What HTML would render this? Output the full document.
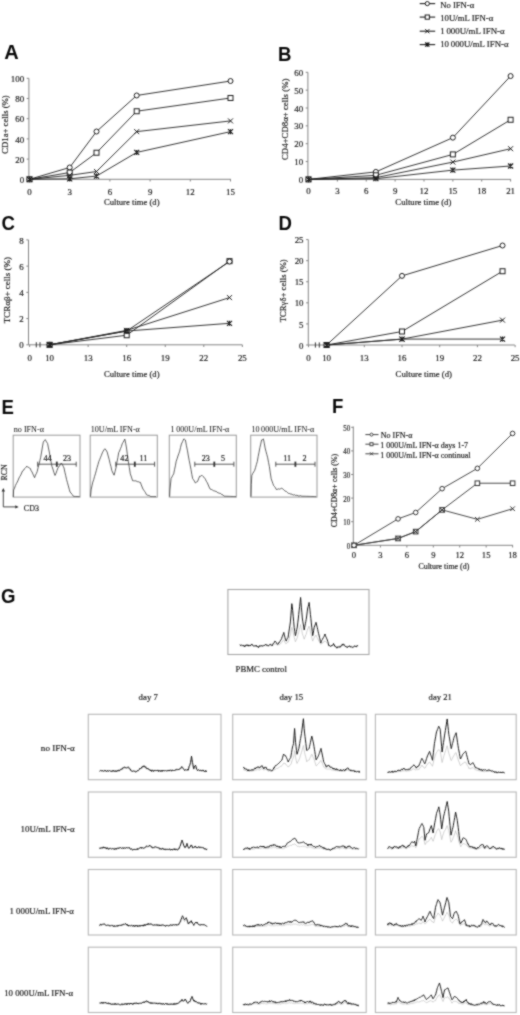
<!DOCTYPE html>
<html><head><meta charset="utf-8"><style>
html,body{margin:0;padding:0;background:#fff;width:520px;height:1015px;overflow:hidden;}
svg{display:block;}
</style></head><body>
<svg width="520" height="1015" viewBox="0 0 520 1015">
<defs><filter id="soft" x="0" y="0" width="520" height="1015" filterUnits="userSpaceOnUse" color-interpolation-filters="sRGB"><feConvolveMatrix order="3" kernelMatrix="1 2 1 2 10 2 1 2 1" divisor="22" edgeMode="duplicate"/></filter></defs>
<g filter="url(#soft)">
<rect width="520" height="1015" fill="#fff"/>
<text transform="translate(4.20 58.60) scale(1.0 1)" font-size="20.0" font-family='"Liberation Sans", sans-serif' font-weight="bold" fill="#0a0a0a">A</text>
<path d="M28.9 78.3L28.9 179.3L231.0 179.3" stroke="#858585" stroke-width="1" fill="none"/>
<path d="M26.7 179.30L28.9 179.30" stroke="#858585" stroke-width="1"/>
<text x="24.10" y="182.94" font-size="8.9" font-family='"Liberation Serif", serif' font-weight="normal" text-anchor="end" fill="#1a1a1a" stroke="#1a1a1a" stroke-width="0.18">0</text>
<path d="M26.7 159.10L28.9 159.10" stroke="#858585" stroke-width="1"/>
<text x="24.10" y="162.74" font-size="8.9" font-family='"Liberation Serif", serif' font-weight="normal" text-anchor="end" fill="#1a1a1a" stroke="#1a1a1a" stroke-width="0.18">20</text>
<path d="M26.7 138.90L28.9 138.90" stroke="#858585" stroke-width="1"/>
<text x="24.10" y="142.54" font-size="8.9" font-family='"Liberation Serif", serif' font-weight="normal" text-anchor="end" fill="#1a1a1a" stroke="#1a1a1a" stroke-width="0.18">40</text>
<path d="M26.7 118.70L28.9 118.70" stroke="#858585" stroke-width="1"/>
<text x="24.10" y="122.34" font-size="8.9" font-family='"Liberation Serif", serif' font-weight="normal" text-anchor="end" fill="#1a1a1a" stroke="#1a1a1a" stroke-width="0.18">60</text>
<path d="M26.7 98.50L28.9 98.50" stroke="#858585" stroke-width="1"/>
<text x="24.10" y="102.14" font-size="8.9" font-family='"Liberation Serif", serif' font-weight="normal" text-anchor="end" fill="#1a1a1a" stroke="#1a1a1a" stroke-width="0.18">80</text>
<path d="M26.7 78.30L28.9 78.30" stroke="#858585" stroke-width="1"/>
<text x="24.10" y="81.94" font-size="8.9" font-family='"Liberation Serif", serif' font-weight="normal" text-anchor="end" fill="#1a1a1a" stroke="#1a1a1a" stroke-width="0.18">100</text>
<path d="M29.50 179.3L29.50 181.5" stroke="#858585" stroke-width="1"/>
<text x="29.50" y="194.50" font-size="8.9" font-family='"Liberation Serif", serif' font-weight="normal" text-anchor="middle" fill="#1a1a1a" stroke="#1a1a1a" stroke-width="0.18">0</text>
<path d="M69.70 179.3L69.70 181.5" stroke="#858585" stroke-width="1"/>
<text x="69.70" y="194.50" font-size="8.9" font-family='"Liberation Serif", serif' font-weight="normal" text-anchor="middle" fill="#1a1a1a" stroke="#1a1a1a" stroke-width="0.18">3</text>
<path d="M109.90 179.3L109.90 181.5" stroke="#858585" stroke-width="1"/>
<text x="109.90" y="194.50" font-size="8.9" font-family='"Liberation Serif", serif' font-weight="normal" text-anchor="middle" fill="#1a1a1a" stroke="#1a1a1a" stroke-width="0.18">6</text>
<path d="M150.10 179.3L150.10 181.5" stroke="#858585" stroke-width="1"/>
<text x="150.10" y="194.50" font-size="8.9" font-family='"Liberation Serif", serif' font-weight="normal" text-anchor="middle" fill="#1a1a1a" stroke="#1a1a1a" stroke-width="0.18">9</text>
<path d="M190.30 179.3L190.30 181.5" stroke="#858585" stroke-width="1"/>
<text x="190.30" y="194.50" font-size="8.9" font-family='"Liberation Serif", serif' font-weight="normal" text-anchor="middle" fill="#1a1a1a" stroke="#1a1a1a" stroke-width="0.18">12</text>
<path d="M230.50 179.3L230.50 181.5" stroke="#858585" stroke-width="1"/>
<text x="230.50" y="194.50" font-size="8.9" font-family='"Liberation Serif", serif' font-weight="normal" text-anchor="middle" fill="#1a1a1a" stroke="#1a1a1a" stroke-width="0.18">15</text>
<text x="131.75" y="204.50" font-size="8.65" font-family='"Liberation Serif", serif' font-weight="normal" text-anchor="middle" fill="#1a1a1a" stroke="#1a1a1a" stroke-width="0.18">Culture time (d)</text>
<text x="7.60" y="124.50" font-size="8.7" font-family='"Liberation Serif", serif' font-weight="normal" text-anchor="middle" fill="#1a1a1a" stroke="#1a1a1a" stroke-width="0.18" transform="rotate(-90 7.60 124.50)">CD1a+ cells (%)</text>
<path d="M29.50 179.30 L69.70 167.48 L96.50 131.53 L136.70 95.47 L230.50 81.03" stroke="#1e1e1e" stroke-width="0.9" fill="none"/>
<circle cx="29.50" cy="179.30" r="2.5" fill="#fff" stroke="#1e1e1e" stroke-width="1.0"/>
<circle cx="69.70" cy="167.48" r="2.5" fill="#fff" stroke="#1e1e1e" stroke-width="1.0"/>
<circle cx="96.50" cy="131.53" r="2.5" fill="#fff" stroke="#1e1e1e" stroke-width="1.0"/>
<circle cx="136.70" cy="95.47" r="2.5" fill="#fff" stroke="#1e1e1e" stroke-width="1.0"/>
<circle cx="230.50" cy="81.03" r="2.5" fill="#fff" stroke="#1e1e1e" stroke-width="1.0"/>
<path d="M29.50 179.30 L69.70 172.53 L96.50 152.74 L136.70 111.23 L230.50 97.99" stroke="#1e1e1e" stroke-width="0.9" fill="none"/>
<rect x="27.00" y="176.80" width="5.0" height="5.0" fill="#fff" stroke="#1e1e1e" stroke-width="1.0"/>
<rect x="67.20" y="170.03" width="5.0" height="5.0" fill="#fff" stroke="#1e1e1e" stroke-width="1.0"/>
<rect x="94.00" y="150.24" width="5.0" height="5.0" fill="#fff" stroke="#1e1e1e" stroke-width="1.0"/>
<rect x="134.20" y="108.73" width="5.0" height="5.0" fill="#fff" stroke="#1e1e1e" stroke-width="1.0"/>
<rect x="228.00" y="95.49" width="5.0" height="5.0" fill="#fff" stroke="#1e1e1e" stroke-width="1.0"/>
<path d="M29.50 179.30 L69.70 175.36 L96.50 171.52 L136.70 131.63 L230.50 120.92" stroke="#1e1e1e" stroke-width="0.9" fill="none"/>
<path d="M27.00 176.80L32.00 181.80M27.00 181.80L32.00 176.80" stroke="#1e1e1e" stroke-width="1.0" fill="none"/>
<path d="M67.20 172.86L72.20 177.86M67.20 177.86L72.20 172.86" stroke="#1e1e1e" stroke-width="1.0" fill="none"/>
<path d="M94.00 169.02L99.00 174.02M94.00 174.02L99.00 169.02" stroke="#1e1e1e" stroke-width="1.0" fill="none"/>
<path d="M134.20 129.13L139.20 134.13M134.20 134.13L139.20 129.13" stroke="#1e1e1e" stroke-width="1.0" fill="none"/>
<path d="M228.00 118.42L233.00 123.42M228.00 123.42L233.00 118.42" stroke="#1e1e1e" stroke-width="1.0" fill="none"/>
<path d="M29.50 179.30 L69.70 178.80 L96.50 176.07 L136.70 152.43 L230.50 131.63" stroke="#1e1e1e" stroke-width="0.9" fill="none"/>
<path d="M27.00 176.80L32.00 181.80M27.00 181.80L32.00 176.80M29.50 176.80L29.50 181.80" stroke="#1e1e1e" stroke-width="1.2" fill="none"/>
<path d="M67.20 176.30L72.20 181.30M67.20 181.30L72.20 176.30M69.70 176.30L69.70 181.30" stroke="#1e1e1e" stroke-width="1.2" fill="none"/>
<path d="M94.00 173.57L99.00 178.57M94.00 178.57L99.00 173.57M96.50 173.57L96.50 178.57" stroke="#1e1e1e" stroke-width="1.2" fill="none"/>
<path d="M134.20 149.93L139.20 154.93M134.20 154.93L139.20 149.93M136.70 149.93L136.70 154.93" stroke="#1e1e1e" stroke-width="1.2" fill="none"/>
<path d="M228.00 129.13L233.00 134.13M228.00 134.13L233.00 129.13M230.50 129.13L230.50 134.13" stroke="#1e1e1e" stroke-width="1.2" fill="none"/>
<text transform="translate(278.00 61.10) scale(0.93 1)" font-size="20.0" font-family='"Liberation Sans", sans-serif' font-weight="bold" fill="#0a0a0a">B</text>
<path d="M307.9 72.3L307.9 179.4L511.0 179.4" stroke="#858585" stroke-width="1" fill="none"/>
<path d="M305.7 179.40L307.9 179.40" stroke="#858585" stroke-width="1"/>
<text x="303.10" y="183.04" font-size="8.9" font-family='"Liberation Serif", serif' font-weight="normal" text-anchor="end" fill="#1a1a1a" stroke="#1a1a1a" stroke-width="0.18">0</text>
<path d="M305.7 161.55L307.9 161.55" stroke="#858585" stroke-width="1"/>
<text x="303.10" y="165.19" font-size="8.9" font-family='"Liberation Serif", serif' font-weight="normal" text-anchor="end" fill="#1a1a1a" stroke="#1a1a1a" stroke-width="0.18">10</text>
<path d="M305.7 143.70L307.9 143.70" stroke="#858585" stroke-width="1"/>
<text x="303.10" y="147.34" font-size="8.9" font-family='"Liberation Serif", serif' font-weight="normal" text-anchor="end" fill="#1a1a1a" stroke="#1a1a1a" stroke-width="0.18">20</text>
<path d="M305.7 125.85L307.9 125.85" stroke="#858585" stroke-width="1"/>
<text x="303.10" y="129.49" font-size="8.9" font-family='"Liberation Serif", serif' font-weight="normal" text-anchor="end" fill="#1a1a1a" stroke="#1a1a1a" stroke-width="0.18">30</text>
<path d="M305.7 108.00L307.9 108.00" stroke="#858585" stroke-width="1"/>
<text x="303.10" y="111.64" font-size="8.9" font-family='"Liberation Serif", serif' font-weight="normal" text-anchor="end" fill="#1a1a1a" stroke="#1a1a1a" stroke-width="0.18">40</text>
<path d="M305.7 90.15L307.9 90.15" stroke="#858585" stroke-width="1"/>
<text x="303.10" y="93.79" font-size="8.9" font-family='"Liberation Serif", serif' font-weight="normal" text-anchor="end" fill="#1a1a1a" stroke="#1a1a1a" stroke-width="0.18">50</text>
<path d="M305.7 72.30L307.9 72.30" stroke="#858585" stroke-width="1"/>
<text x="303.10" y="75.94" font-size="8.9" font-family='"Liberation Serif", serif' font-weight="normal" text-anchor="end" fill="#1a1a1a" stroke="#1a1a1a" stroke-width="0.18">60</text>
<path d="M308.50 179.4L308.50 181.6" stroke="#858585" stroke-width="1"/>
<text x="308.50" y="194.00" font-size="8.9" font-family='"Liberation Serif", serif' font-weight="normal" text-anchor="middle" fill="#1a1a1a" stroke="#1a1a1a" stroke-width="0.18">0</text>
<path d="M337.37 179.4L337.37 181.6" stroke="#858585" stroke-width="1"/>
<text x="337.37" y="194.00" font-size="8.9" font-family='"Liberation Serif", serif' font-weight="normal" text-anchor="middle" fill="#1a1a1a" stroke="#1a1a1a" stroke-width="0.18">3</text>
<path d="M366.24 179.4L366.24 181.6" stroke="#858585" stroke-width="1"/>
<text x="366.24" y="194.00" font-size="8.9" font-family='"Liberation Serif", serif' font-weight="normal" text-anchor="middle" fill="#1a1a1a" stroke="#1a1a1a" stroke-width="0.18">6</text>
<path d="M395.11 179.4L395.11 181.6" stroke="#858585" stroke-width="1"/>
<text x="395.11" y="194.00" font-size="8.9" font-family='"Liberation Serif", serif' font-weight="normal" text-anchor="middle" fill="#1a1a1a" stroke="#1a1a1a" stroke-width="0.18">9</text>
<path d="M423.99 179.4L423.99 181.6" stroke="#858585" stroke-width="1"/>
<text x="423.99" y="194.00" font-size="8.9" font-family='"Liberation Serif", serif' font-weight="normal" text-anchor="middle" fill="#1a1a1a" stroke="#1a1a1a" stroke-width="0.18">12</text>
<path d="M452.86 179.4L452.86 181.6" stroke="#858585" stroke-width="1"/>
<text x="452.86" y="194.00" font-size="8.9" font-family='"Liberation Serif", serif' font-weight="normal" text-anchor="middle" fill="#1a1a1a" stroke="#1a1a1a" stroke-width="0.18">15</text>
<path d="M481.73 179.4L481.73 181.6" stroke="#858585" stroke-width="1"/>
<text x="481.73" y="194.00" font-size="8.9" font-family='"Liberation Serif", serif' font-weight="normal" text-anchor="middle" fill="#1a1a1a" stroke="#1a1a1a" stroke-width="0.18">18</text>
<path d="M510.60 179.4L510.60 181.6" stroke="#858585" stroke-width="1"/>
<text x="510.60" y="194.00" font-size="8.9" font-family='"Liberation Serif", serif' font-weight="normal" text-anchor="middle" fill="#1a1a1a" stroke="#1a1a1a" stroke-width="0.18">21</text>
<text x="423.35" y="204.50" font-size="8.7" font-family='"Liberation Serif", serif' font-weight="normal" text-anchor="middle" fill="#1a1a1a" stroke="#1a1a1a" stroke-width="0.18">Culture time (d)</text>
<text x="288.00" y="119.30" font-size="8.8" font-family='"Liberation Serif", serif' font-weight="normal" text-anchor="middle" fill="#1a1a1a" stroke="#1a1a1a" stroke-width="0.18" transform="rotate(-90 288.00 119.30)">CD4+CD8α+ cells (%)</text>
<path d="M308.50 179.40 L375.87 171.90 L452.86 137.63 L510.60 76.05" stroke="#1e1e1e" stroke-width="0.9" fill="none"/>
<circle cx="308.50" cy="179.40" r="2.5" fill="#fff" stroke="#1e1e1e" stroke-width="1.0"/>
<circle cx="375.87" cy="171.90" r="2.5" fill="#fff" stroke="#1e1e1e" stroke-width="1.0"/>
<circle cx="452.86" cy="137.63" r="2.5" fill="#fff" stroke="#1e1e1e" stroke-width="1.0"/>
<circle cx="510.60" cy="76.05" r="2.5" fill="#fff" stroke="#1e1e1e" stroke-width="1.0"/>
<path d="M308.50 179.40 L375.87 175.29 L452.86 154.41 L510.60 119.78" stroke="#1e1e1e" stroke-width="0.9" fill="none"/>
<rect x="306.00" y="176.90" width="5.0" height="5.0" fill="#fff" stroke="#1e1e1e" stroke-width="1.0"/>
<rect x="373.37" y="172.79" width="5.0" height="5.0" fill="#fff" stroke="#1e1e1e" stroke-width="1.0"/>
<rect x="450.36" y="151.91" width="5.0" height="5.0" fill="#fff" stroke="#1e1e1e" stroke-width="1.0"/>
<rect x="508.10" y="117.28" width="5.0" height="5.0" fill="#fff" stroke="#1e1e1e" stroke-width="1.0"/>
<path d="M308.50 179.40 L375.87 177.62 L452.86 162.09 L510.60 148.70" stroke="#1e1e1e" stroke-width="0.9" fill="none"/>
<path d="M306.00 176.90L311.00 181.90M306.00 181.90L311.00 176.90" stroke="#1e1e1e" stroke-width="1.0" fill="none"/>
<path d="M373.37 175.12L378.37 180.12M373.37 180.12L378.37 175.12" stroke="#1e1e1e" stroke-width="1.0" fill="none"/>
<path d="M450.36 159.59L455.36 164.59M450.36 164.59L455.36 159.59" stroke="#1e1e1e" stroke-width="1.0" fill="none"/>
<path d="M508.10 146.20L513.10 151.20M508.10 151.20L513.10 146.20" stroke="#1e1e1e" stroke-width="1.0" fill="none"/>
<path d="M308.50 179.40 L375.87 178.69 L452.86 170.12 L510.60 166.01" stroke="#1e1e1e" stroke-width="0.9" fill="none"/>
<path d="M306.00 176.90L311.00 181.90M306.00 181.90L311.00 176.90M308.50 176.90L308.50 181.90" stroke="#1e1e1e" stroke-width="1.2" fill="none"/>
<path d="M373.37 176.19L378.37 181.19M373.37 181.19L378.37 176.19M375.87 176.19L375.87 181.19" stroke="#1e1e1e" stroke-width="1.2" fill="none"/>
<path d="M450.36 167.62L455.36 172.62M450.36 172.62L455.36 167.62M452.86 167.62L452.86 172.62" stroke="#1e1e1e" stroke-width="1.2" fill="none"/>
<path d="M508.10 163.51L513.10 168.51M508.10 168.51L513.10 163.51M510.60 163.51L510.60 168.51" stroke="#1e1e1e" stroke-width="1.2" fill="none"/>
<path d="M419.7 3.6L435.2 3.6" stroke="#1e1e1e" stroke-width="1.1"/>
<circle cx="427.30" cy="3.60" r="2.1" fill="#fff" stroke="#1a1a1a" stroke-width="1.0"/>
<text x="440.20" y="7.70" font-size="8.65" font-family='"Liberation Serif", serif' font-weight="normal" text-anchor="start" fill="#1a1a1a" stroke="#1a1a1a" stroke-width="0.18">No IFN-α</text>
<path d="M419.7 17.1L435.2 17.1" stroke="#1e1e1e" stroke-width="1.1"/>
<rect x="425.20" y="15.00" width="4.2" height="4.2" fill="#fff" stroke="#1a1a1a" stroke-width="1.0"/>
<text x="440.20" y="20.60" font-size="8.75" font-family='"Liberation Serif", serif' font-weight="normal" text-anchor="start" fill="#1a1a1a" stroke="#1a1a1a" stroke-width="0.18">10U/mL IFN-α</text>
<path d="M419.7 31.2L435.2 31.2" stroke="#1e1e1e" stroke-width="1.1"/>
<path d="M425.20 29.10L429.40 33.30M425.20 33.30L429.40 29.10" stroke="#1a1a1a" stroke-width="1.0" fill="none"/>
<text x="440.20" y="34.30" font-size="8.9" font-family='"Liberation Serif", serif' font-weight="normal" text-anchor="start" fill="#1a1a1a" stroke="#1a1a1a" stroke-width="0.18">1 000U/mL IFN-α</text>
<path d="M419.7 44.6L435.2 44.6" stroke="#1e1e1e" stroke-width="1.1"/>
<path d="M425.20 42.50L429.40 46.70M425.20 46.70L429.40 42.50M427.30 42.50L427.30 46.70" stroke="#1a1a1a" stroke-width="1.2" fill="none"/>
<text x="440.20" y="46.70" font-size="8.8" font-family='"Liberation Serif", serif' font-weight="normal" text-anchor="start" fill="#1a1a1a" stroke="#1a1a1a" stroke-width="0.18">10 000U/mL IFN-α</text>
<text transform="translate(1.40 229.70) scale(0.93 1)" font-size="20.0" font-family='"Liberation Sans", sans-serif' font-weight="bold" fill="#0a0a0a">C</text>
<path d="M28.5 239.9L28.5 344.8L242.3 344.8" stroke="#858585" stroke-width="1" fill="none"/>
<path d="M26.3 344.80L28.5 344.80" stroke="#858585" stroke-width="1"/>
<text x="23.70" y="348.44" font-size="8.9" font-family='"Liberation Serif", serif' font-weight="normal" text-anchor="end" fill="#1a1a1a" stroke="#1a1a1a" stroke-width="0.18">0</text>
<path d="M26.3 318.57L28.5 318.57" stroke="#858585" stroke-width="1"/>
<text x="23.70" y="322.21" font-size="8.9" font-family='"Liberation Serif", serif' font-weight="normal" text-anchor="end" fill="#1a1a1a" stroke="#1a1a1a" stroke-width="0.18">2</text>
<path d="M26.3 292.35L28.5 292.35" stroke="#858585" stroke-width="1"/>
<text x="23.70" y="295.99" font-size="8.9" font-family='"Liberation Serif", serif' font-weight="normal" text-anchor="end" fill="#1a1a1a" stroke="#1a1a1a" stroke-width="0.18">4</text>
<path d="M26.3 266.12L28.5 266.12" stroke="#858585" stroke-width="1"/>
<text x="23.70" y="269.76" font-size="8.9" font-family='"Liberation Serif", serif' font-weight="normal" text-anchor="end" fill="#1a1a1a" stroke="#1a1a1a" stroke-width="0.18">6</text>
<path d="M26.3 239.90L28.5 239.90" stroke="#858585" stroke-width="1"/>
<text x="23.70" y="243.54" font-size="8.9" font-family='"Liberation Serif", serif' font-weight="normal" text-anchor="end" fill="#1a1a1a" stroke="#1a1a1a" stroke-width="0.18">8</text>
<path d="M29.60 344.8L29.60 347.0" stroke="#858585" stroke-width="1"/>
<text x="29.60" y="360.70" font-size="8.9" font-family='"Liberation Serif", serif' font-weight="normal" text-anchor="middle" fill="#1a1a1a" stroke="#1a1a1a" stroke-width="0.18">0</text>
<path d="M49.60 344.8L49.60 347.0" stroke="#858585" stroke-width="1"/>
<text x="49.60" y="360.70" font-size="8.9" font-family='"Liberation Serif", serif' font-weight="normal" text-anchor="middle" fill="#1a1a1a" stroke="#1a1a1a" stroke-width="0.18">10</text>
<path d="M88.15 344.8L88.15 347.0" stroke="#858585" stroke-width="1"/>
<text x="88.15" y="360.70" font-size="8.9" font-family='"Liberation Serif", serif' font-weight="normal" text-anchor="middle" fill="#1a1a1a" stroke="#1a1a1a" stroke-width="0.18">13</text>
<path d="M126.70 344.8L126.70 347.0" stroke="#858585" stroke-width="1"/>
<text x="126.70" y="360.70" font-size="8.9" font-family='"Liberation Serif", serif' font-weight="normal" text-anchor="middle" fill="#1a1a1a" stroke="#1a1a1a" stroke-width="0.18">16</text>
<path d="M165.25 344.8L165.25 347.0" stroke="#858585" stroke-width="1"/>
<text x="165.25" y="360.70" font-size="8.9" font-family='"Liberation Serif", serif' font-weight="normal" text-anchor="middle" fill="#1a1a1a" stroke="#1a1a1a" stroke-width="0.18">19</text>
<path d="M203.80 344.8L203.80 347.0" stroke="#858585" stroke-width="1"/>
<text x="203.80" y="360.70" font-size="8.9" font-family='"Liberation Serif", serif' font-weight="normal" text-anchor="middle" fill="#1a1a1a" stroke="#1a1a1a" stroke-width="0.18">22</text>
<path d="M242.35 344.8L242.35 347.0" stroke="#858585" stroke-width="1"/>
<text x="242.35" y="360.70" font-size="8.9" font-family='"Liberation Serif", serif' font-weight="normal" text-anchor="middle" fill="#1a1a1a" stroke="#1a1a1a" stroke-width="0.18">25</text>
<text x="131.75" y="376.80" font-size="8.65" font-family='"Liberation Serif", serif' font-weight="normal" text-anchor="middle" fill="#1a1a1a" stroke="#1a1a1a" stroke-width="0.18">Culture time (d)</text>
<text x="10.00" y="290.10" font-size="9.0" font-family='"Liberation Serif", serif' font-weight="normal" text-anchor="middle" fill="#1a1a1a" stroke="#1a1a1a" stroke-width="0.18" transform="rotate(-90 10.00 290.10)">TCRαβ+ cells (%)</text>
<path d="M36.3 342.2L36.3 347.40000000000003M40.0 342.2L40.0 347.40000000000003" stroke="#333" stroke-width="1"/>
<path d="M49.60 344.80 L126.70 335.23 L229.50 261.14" stroke="#1e1e1e" stroke-width="0.9" fill="none"/>
<rect x="47.10" y="342.30" width="5.0" height="5.0" fill="#fff" stroke="#1e1e1e" stroke-width="1.0"/>
<rect x="124.20" y="332.73" width="5.0" height="5.0" fill="#fff" stroke="#1e1e1e" stroke-width="1.0"/>
<rect x="227.00" y="258.64" width="5.0" height="5.0" fill="#fff" stroke="#1e1e1e" stroke-width="1.0"/>
<path d="M49.60 344.80 L126.70 331.03 L229.50 261.54" stroke="#1e1e1e" stroke-width="0.9" fill="none"/>
<circle cx="49.60" cy="344.80" r="2.5" fill="#fff" stroke="#1e1e1e" stroke-width="1.0"/>
<circle cx="126.70" cy="331.03" r="2.5" fill="#fff" stroke="#1e1e1e" stroke-width="1.0"/>
<circle cx="229.50" cy="261.54" r="2.5" fill="#fff" stroke="#1e1e1e" stroke-width="1.0"/>
<path d="M49.60 344.80 L126.70 330.38 L229.50 297.60" stroke="#1e1e1e" stroke-width="0.9" fill="none"/>
<path d="M47.10 342.30L52.10 347.30M47.10 347.30L52.10 342.30" stroke="#1e1e1e" stroke-width="1.0" fill="none"/>
<path d="M124.20 327.88L129.20 332.88M124.20 332.88L129.20 327.88" stroke="#1e1e1e" stroke-width="1.0" fill="none"/>
<path d="M227.00 295.10L232.00 300.10M227.00 300.10L232.00 295.10" stroke="#1e1e1e" stroke-width="1.0" fill="none"/>
<path d="M49.60 344.80 L126.70 331.03 L229.50 323.30" stroke="#1e1e1e" stroke-width="0.9" fill="none"/>
<path d="M47.10 342.30L52.10 347.30M47.10 347.30L52.10 342.30M49.60 342.30L49.60 347.30" stroke="#1e1e1e" stroke-width="1.2" fill="none"/>
<path d="M124.20 328.53L129.20 333.53M124.20 333.53L129.20 328.53M126.70 328.53L126.70 333.53" stroke="#1e1e1e" stroke-width="1.2" fill="none"/>
<path d="M227.00 320.80L232.00 325.80M227.00 325.80L232.00 320.80M229.50 320.80L229.50 325.80" stroke="#1e1e1e" stroke-width="1.2" fill="none"/>
<text transform="translate(278.60 229.70) scale(0.93 1)" font-size="20.0" font-family='"Liberation Sans", sans-serif' font-weight="bold" fill="#0a0a0a">D</text>
<path d="M308.3 239.6L308.3 345.0L514.8 345.0" stroke="#858585" stroke-width="1" fill="none"/>
<path d="M306.1 345.00L308.3 345.00" stroke="#858585" stroke-width="1"/>
<text x="303.50" y="348.64" font-size="8.9" font-family='"Liberation Serif", serif' font-weight="normal" text-anchor="end" fill="#1a1a1a" stroke="#1a1a1a" stroke-width="0.18">0</text>
<path d="M306.1 323.92L308.3 323.92" stroke="#858585" stroke-width="1"/>
<text x="303.50" y="327.56" font-size="8.9" font-family='"Liberation Serif", serif' font-weight="normal" text-anchor="end" fill="#1a1a1a" stroke="#1a1a1a" stroke-width="0.18">5</text>
<path d="M306.1 302.84L308.3 302.84" stroke="#858585" stroke-width="1"/>
<text x="303.50" y="306.48" font-size="8.9" font-family='"Liberation Serif", serif' font-weight="normal" text-anchor="end" fill="#1a1a1a" stroke="#1a1a1a" stroke-width="0.18">10</text>
<path d="M306.1 281.76L308.3 281.76" stroke="#858585" stroke-width="1"/>
<text x="303.50" y="285.40" font-size="8.9" font-family='"Liberation Serif", serif' font-weight="normal" text-anchor="end" fill="#1a1a1a" stroke="#1a1a1a" stroke-width="0.18">15</text>
<path d="M306.1 260.68L308.3 260.68" stroke="#858585" stroke-width="1"/>
<text x="303.50" y="264.32" font-size="8.9" font-family='"Liberation Serif", serif' font-weight="normal" text-anchor="end" fill="#1a1a1a" stroke="#1a1a1a" stroke-width="0.18">20</text>
<path d="M306.1 239.60L308.3 239.60" stroke="#858585" stroke-width="1"/>
<text x="303.50" y="243.24" font-size="8.9" font-family='"Liberation Serif", serif' font-weight="normal" text-anchor="end" fill="#1a1a1a" stroke="#1a1a1a" stroke-width="0.18">25</text>
<path d="M308.50 345.0L308.50 347.2" stroke="#858585" stroke-width="1"/>
<text x="308.50" y="360.70" font-size="8.9" font-family='"Liberation Serif", serif' font-weight="normal" text-anchor="middle" fill="#1a1a1a" stroke="#1a1a1a" stroke-width="0.18">0</text>
<path d="M326.60 345.0L326.60 347.2" stroke="#858585" stroke-width="1"/>
<text x="326.60" y="360.70" font-size="8.9" font-family='"Liberation Serif", serif' font-weight="normal" text-anchor="middle" fill="#1a1a1a" stroke="#1a1a1a" stroke-width="0.18">10</text>
<path d="M364.30 345.0L364.30 347.2" stroke="#858585" stroke-width="1"/>
<text x="364.30" y="360.70" font-size="8.9" font-family='"Liberation Serif", serif' font-weight="normal" text-anchor="middle" fill="#1a1a1a" stroke="#1a1a1a" stroke-width="0.18">13</text>
<path d="M402.00 345.0L402.00 347.2" stroke="#858585" stroke-width="1"/>
<text x="402.00" y="360.70" font-size="8.9" font-family='"Liberation Serif", serif' font-weight="normal" text-anchor="middle" fill="#1a1a1a" stroke="#1a1a1a" stroke-width="0.18">16</text>
<path d="M439.70 345.0L439.70 347.2" stroke="#858585" stroke-width="1"/>
<text x="439.70" y="360.70" font-size="8.9" font-family='"Liberation Serif", serif' font-weight="normal" text-anchor="middle" fill="#1a1a1a" stroke="#1a1a1a" stroke-width="0.18">19</text>
<path d="M477.40 345.0L477.40 347.2" stroke="#858585" stroke-width="1"/>
<text x="477.40" y="360.70" font-size="8.9" font-family='"Liberation Serif", serif' font-weight="normal" text-anchor="middle" fill="#1a1a1a" stroke="#1a1a1a" stroke-width="0.18">22</text>
<path d="M515.10 345.0L515.10 347.2" stroke="#858585" stroke-width="1"/>
<text x="515.10" y="360.70" font-size="8.9" font-family='"Liberation Serif", serif' font-weight="normal" text-anchor="middle" fill="#1a1a1a" stroke="#1a1a1a" stroke-width="0.18">25</text>
<text x="423.80" y="376.80" font-size="8.75" font-family='"Liberation Serif", serif' font-weight="normal" text-anchor="middle" fill="#1a1a1a" stroke="#1a1a1a" stroke-width="0.18">Culture time (d)</text>
<text x="286.20" y="290.80" font-size="8.7" font-family='"Liberation Serif", serif' font-weight="normal" text-anchor="middle" fill="#1a1a1a" stroke="#1a1a1a" stroke-width="0.18" transform="rotate(-90 286.20 290.80)">TCRγδ+ cells (%)</text>
<path d="M315.4 342.4L315.4 347.6M319.3 342.4L319.3 347.6" stroke="#333" stroke-width="1"/>
<path d="M326.60 345.00 L402.00 275.86 L502.53 245.50" stroke="#1e1e1e" stroke-width="0.9" fill="none"/>
<circle cx="326.60" cy="345.00" r="2.5" fill="#fff" stroke="#1e1e1e" stroke-width="1.0"/>
<circle cx="402.00" cy="275.86" r="2.5" fill="#fff" stroke="#1e1e1e" stroke-width="1.0"/>
<circle cx="502.53" cy="245.50" r="2.5" fill="#fff" stroke="#1e1e1e" stroke-width="1.0"/>
<path d="M326.60 345.00 L402.00 331.51 L502.53 271.22" stroke="#1e1e1e" stroke-width="0.9" fill="none"/>
<rect x="324.10" y="342.50" width="5.0" height="5.0" fill="#fff" stroke="#1e1e1e" stroke-width="1.0"/>
<rect x="399.50" y="329.01" width="5.0" height="5.0" fill="#fff" stroke="#1e1e1e" stroke-width="1.0"/>
<rect x="500.03" y="268.72" width="5.0" height="5.0" fill="#fff" stroke="#1e1e1e" stroke-width="1.0"/>
<path d="M326.60 345.00 L402.00 339.10 L502.53 320.13" stroke="#1e1e1e" stroke-width="0.9" fill="none"/>
<path d="M324.10 342.50L329.10 347.50M324.10 347.50L329.10 342.50" stroke="#1e1e1e" stroke-width="1.0" fill="none"/>
<path d="M399.50 336.60L404.50 341.60M399.50 341.60L404.50 336.60" stroke="#1e1e1e" stroke-width="1.0" fill="none"/>
<path d="M500.03 317.63L505.03 322.63M500.03 322.63L505.03 317.63" stroke="#1e1e1e" stroke-width="1.0" fill="none"/>
<path d="M326.60 345.00 L402.00 339.10 L502.53 339.10" stroke="#1e1e1e" stroke-width="0.9" fill="none"/>
<path d="M324.10 342.50L329.10 347.50M324.10 347.50L329.10 342.50M326.60 342.50L326.60 347.50" stroke="#1e1e1e" stroke-width="1.2" fill="none"/>
<path d="M399.50 336.60L404.50 341.60M399.50 341.60L404.50 336.60M402.00 336.60L402.00 341.60" stroke="#1e1e1e" stroke-width="1.2" fill="none"/>
<path d="M500.03 336.60L505.03 341.60M500.03 341.60L505.03 336.60M502.53 336.60L502.53 341.60" stroke="#1e1e1e" stroke-width="1.2" fill="none"/>
<text transform="translate(1.60 413.60) scale(0.93 1)" font-size="20.0" font-family='"Liberation Sans", sans-serif' font-weight="bold" fill="#0a0a0a">E</text>
<rect x="13.2" y="435.2" width="66.80" height="61.9" fill="none" stroke="#999" stroke-width="1"/>
<text x="13.80" y="431.60" font-size="8.1" font-family='"Liberation Serif", serif' font-weight="normal" text-anchor="start" fill="#1a1a1a" stroke="#1a1a1a" stroke-width="0.05">no IFN-α</text>
<path d="M13.30 497.00 L13.60 489.97 L14.53 488.19 L15.45 485.52 L16.38 483.62 L17.30 482.02 L18.17 480.08 L19.03 477.97 L19.90 476.39 L20.77 475.03 L21.63 472.99 L22.50 470.97 L23.36 470.56 L24.22 469.00 L25.08 468.34 L25.94 467.30 L26.80 466.17 L27.68 467.15 L28.55 467.22 L29.43 468.15 L30.30 468.43 L31.16 470.77 L32.02 471.93 L32.88 473.93 L33.74 475.89 L34.60 477.67 L35.47 475.08 L36.33 473.60 L37.20 471.54 L38.08 467.72 L38.95 464.58 L39.83 460.76 L40.70 457.26 L41.57 452.06 L42.43 446.97 L43.30 442.13 L44.30 440.57 L45.30 439.64 L46.45 441.78 L47.60 443.50 L48.45 447.95 L49.30 452.00 L50.17 456.99 L51.03 461.64 L51.90 466.26 L52.93 469.08 L53.97 472.61 L55.00 475.43 L56.00 473.34 L57.00 470.47 L58.00 467.62 L58.85 466.93 L59.70 465.61 L60.55 463.88 L61.40 463.00 L62.27 464.28 L63.13 466.19 L64.00 467.95 L64.87 472.14 L65.73 475.67 L66.60 479.68 L67.47 482.75 L68.35 485.92 L69.22 489.21 L70.10 492.16 L70.97 492.83 L71.85 494.36 L72.72 495.08 L73.60 496.40 L74.46 496.43 L75.31 496.46 L76.17 496.49 L77.03 496.51 L77.89 496.54 L78.74 496.57 L79.60 496.60" stroke="#3a3a3a" stroke-width="0.8" fill="none" stroke-linejoin="round"/>
<path d="M37.7 464.2L76.2 464.2M37.7 461.7L37.7 466.7M76.2 461.7L76.2 466.7" stroke="#444" stroke-width="0.9"/>
<rect x="55.9" y="461.59999999999997" width="1.8" height="5.2" fill="#333"/>
<text x="47.50" y="460.60" font-size="8.1" font-family='"Liberation Serif", serif' font-weight="normal" text-anchor="middle" fill="#1a1a1a" stroke="#1a1a1a" stroke-width="0.18">44</text>
<text x="67.00" y="460.60" font-size="8.1" font-family='"Liberation Serif", serif' font-weight="normal" text-anchor="middle" fill="#1a1a1a" stroke="#1a1a1a" stroke-width="0.18">23</text>
<rect x="90.2" y="435.2" width="67.10" height="61.9" fill="none" stroke="#999" stroke-width="1"/>
<text x="90.70" y="431.60" font-size="8.1" font-family='"Liberation Serif", serif' font-weight="normal" text-anchor="start" fill="#1a1a1a" stroke="#1a1a1a" stroke-width="0.05">10U/mL IFN-α</text>
<path d="M90.50 496.60 L91.10 489.92 L91.95 485.96 L92.80 482.07 L93.67 479.72 L94.53 476.62 L95.40 473.83 L96.25 470.69 L97.10 467.52 L97.95 464.71 L98.80 461.55 L99.67 459.55 L100.55 457.31 L101.42 455.29 L102.30 452.86 L103.17 451.23 L104.03 449.79 L104.90 448.76 L106.05 450.07 L107.20 452.11 L108.20 455.98 L109.20 459.49 L110.07 463.47 L110.93 466.41 L111.80 470.46 L112.95 473.04 L114.10 475.20 L115.15 471.21 L116.20 466.86 L117.03 461.84 L117.87 457.62 L118.70 452.64 L119.58 451.01 L120.45 448.68 L121.33 446.71 L122.20 443.89 L123.07 442.34 L123.93 440.82 L124.80 439.08 L125.65 443.13 L126.50 447.97 L127.40 454.84 L128.30 461.36 L129.30 467.35 L130.30 473.82 L131.45 477.09 L132.60 480.71 L133.46 480.76 L134.32 480.85 L135.18 480.75 L136.04 480.98 L136.90 481.37 L137.78 481.78 L138.65 481.80 L139.53 482.25 L140.40 482.33 L141.27 484.87 L142.13 487.01 L143.00 489.08 L143.85 490.25 L144.70 491.50 L145.55 492.78 L146.40 494.65 L147.28 495.08 L148.16 495.42 L149.04 495.39 L149.92 496.08 L150.80 496.50 L151.67 496.52 L152.53 496.53 L153.40 496.55 L154.27 496.57 L155.13 496.58 L156.00 496.60" stroke="#3a3a3a" stroke-width="0.8" fill="none" stroke-linejoin="round"/>
<path d="M115.8 464.2L154.6 464.2M115.8 461.7L115.8 466.7M154.6 461.7L154.6 466.7" stroke="#444" stroke-width="0.9"/>
<rect x="133.9" y="461.59999999999997" width="1.8" height="5.2" fill="#333"/>
<text x="124.40" y="460.60" font-size="8.1" font-family='"Liberation Serif", serif' font-weight="normal" text-anchor="middle" fill="#1a1a1a" stroke="#1a1a1a" stroke-width="0.18">42</text>
<text x="143.40" y="460.60" font-size="8.1" font-family='"Liberation Serif", serif' font-weight="normal" text-anchor="middle" fill="#1a1a1a" stroke="#1a1a1a" stroke-width="0.18">11</text>
<rect x="169.3" y="435.2" width="67.00" height="61.9" fill="none" stroke="#999" stroke-width="1"/>
<text x="170.50" y="431.60" font-size="8.1" font-family='"Liberation Serif", serif' font-weight="normal" text-anchor="start" fill="#1a1a1a" stroke="#1a1a1a" stroke-width="0.05">1 000U/mL IFN-α</text>
<path d="M169.60 496.60 L169.90 490.10 L171.10 478.47 L171.97 476.94 L172.83 475.21 L173.70 473.87 L174.53 469.76 L175.37 465.84 L176.20 461.21 L177.07 458.87 L177.95 456.02 L178.82 453.58 L179.70 451.20 L180.55 447.37 L181.40 443.99 L182.55 441.70 L183.70 439.03 L184.55 439.25 L185.40 439.96 L186.45 445.77 L187.50 450.85 L188.37 456.01 L189.23 460.54 L190.10 464.89 L190.97 469.36 L191.83 474.52 L192.70 478.69 L193.57 479.81 L194.43 481.12 L195.30 482.94 L196.40 482.12 L197.50 481.61 L198.55 478.96 L199.60 476.23 L200.47 476.26 L201.33 475.58 L202.20 475.44 L203.07 476.50 L203.93 477.22 L204.80 478.25 L205.67 479.79 L206.53 481.61 L207.40 482.88 L208.27 485.01 L209.13 487.05 L210.00 488.91 L210.87 489.36 L211.73 489.62 L212.60 490.09 L213.47 490.69 L214.33 490.86 L215.20 491.21 L216.07 491.48 L216.93 491.90 L217.80 492.76 L218.67 492.94 L219.53 493.29 L220.40 493.37 L221.26 494.28 L222.12 494.40 L222.98 495.08 L223.84 496.02 L224.70 496.20 L225.51 496.23 L226.31 496.26 L227.12 496.29 L227.93 496.31 L228.74 496.34 L229.54 496.37 L230.35 496.40 L231.16 496.43 L231.96 496.46 L232.77 496.49 L233.58 496.51 L234.39 496.54 L235.19 496.57 L236.00 496.60" stroke="#3a3a3a" stroke-width="0.8" fill="none" stroke-linejoin="round"/>
<path d="M194.8 464.2L233.9 464.2M194.8 461.7L194.8 466.7M233.9 461.7L233.9 466.7" stroke="#444" stroke-width="0.9"/>
<rect x="213.4" y="461.59999999999997" width="1.8" height="5.2" fill="#333"/>
<text x="205.70" y="460.60" font-size="8.1" font-family='"Liberation Serif", serif' font-weight="normal" text-anchor="middle" fill="#1a1a1a" stroke="#1a1a1a" stroke-width="0.18">23</text>
<text x="223.00" y="460.60" font-size="8.1" font-family='"Liberation Serif", serif' font-weight="normal" text-anchor="middle" fill="#1a1a1a" stroke="#1a1a1a" stroke-width="0.18">5</text>
<rect x="250.7" y="435.2" width="66.30" height="61.9" fill="none" stroke="#999" stroke-width="1"/>
<text x="251.40" y="431.60" font-size="8.1" font-family='"Liberation Serif", serif' font-weight="normal" text-anchor="start" fill="#1a1a1a" stroke="#1a1a1a" stroke-width="0.05">10 000U/mL IFN-α</text>
<path d="M251.00 496.60 L251.30 484.68 L251.80 475.54 L252.77 473.42 L253.73 471.91 L254.70 470.32 L255.57 467.51 L256.43 464.37 L257.30 461.50 L258.17 456.56 L259.03 452.25 L259.90 447.61 L260.75 444.05 L261.60 439.93 L262.50 439.63 L263.40 438.95 L264.25 443.12 L265.10 447.95 L265.97 451.39 L266.83 454.55 L267.70 457.82 L268.55 462.41 L269.40 466.70 L270.30 472.94 L271.20 478.87 L272.03 481.14 L272.87 483.52 L273.70 485.71 L274.57 486.62 L275.43 487.76 L276.30 489.51 L277.37 489.34 L278.43 488.86 L279.50 489.17 L280.47 488.75 L281.43 488.29 L282.40 488.65 L283.37 489.33 L284.33 490.44 L285.30 491.13 L286.10 491.24 L286.90 492.13 L287.70 492.76 L288.50 493.36 L289.30 493.48 L290.17 493.86 L291.04 494.23 L291.91 494.10 L292.79 494.82 L293.66 495.01 L294.53 494.74 L295.40 495.36 L296.26 495.32 L297.12 495.31 L297.99 495.71 L298.85 496.08 L299.71 495.90 L300.57 495.70 L301.44 496.09 L302.30 496.20 L303.12 496.22 L303.94 496.25 L304.75 496.27 L305.57 496.29 L306.39 496.32 L307.21 496.34 L308.02 496.36 L308.84 496.39 L309.66 496.41 L310.48 496.44 L311.29 496.46 L312.11 496.48 L312.93 496.51 L313.75 496.53 L314.56 496.55 L315.38 496.58 L316.20 496.60" stroke="#3a3a3a" stroke-width="0.8" fill="none" stroke-linejoin="round"/>
<path d="M275.8 464.2L315.0 464.2M275.8 461.7L275.8 466.7M315.0 461.7L315.0 466.7" stroke="#444" stroke-width="0.9"/>
<rect x="294.5" y="461.59999999999997" width="1.8" height="5.2" fill="#333"/>
<text x="287.20" y="460.60" font-size="8.1" font-family='"Liberation Serif", serif' font-weight="normal" text-anchor="middle" fill="#1a1a1a" stroke="#1a1a1a" stroke-width="0.18">11</text>
<text x="304.50" y="460.60" font-size="8.1" font-family='"Liberation Serif", serif' font-weight="normal" text-anchor="middle" fill="#1a1a1a" stroke="#1a1a1a" stroke-width="0.18">2</text>
<text x="6.90" y="472.50" font-size="7.9" font-family='"Liberation Serif", serif' font-weight="normal" text-anchor="middle" fill="#1a1a1a" stroke="#1a1a1a" stroke-width="0.18" transform="rotate(-90 6.90 472.50)">RCN</text>
<path d="M3.3 506.9L3.3 490.5M3.3 506.9L16 506.9" stroke="#333" stroke-width="0.9" fill="none"/>
<path d="M1.6 491.4L3.3 487.9L5.0 491.4Z M15.3 505.2L18.7 506.9L15.3 508.6Z" fill="#333"/>
<text x="23.80" y="511.20" font-size="8.0" font-family='"Liberation Serif", serif' font-weight="normal" text-anchor="start" fill="#1a1a1a" stroke="#1a1a1a" stroke-width="0.18">CD3</text>
<text transform="translate(332.00 412.70) scale(0.93 1)" font-size="20.0" font-family='"Liberation Sans", sans-serif' font-weight="bold" fill="#0a0a0a">F</text>
<path d="M353.3 426.5L353.3 545.3L513.0 545.3" stroke="#858585" stroke-width="1" fill="none"/>
<path d="M351.1 545.30L353.3 545.30" stroke="#858585" stroke-width="1"/>
<text x="0.00" y="0.00" font-size="8.6" font-family='"Liberation Serif", serif' font-weight="normal" text-anchor="end" fill="#1a1a1a" stroke="#1a1a1a" stroke-width="0.18" transform="translate(350.10 548.84) rotate(0) scale(0.8 1)">0</text>
<path d="M351.1 521.70L353.3 521.70" stroke="#858585" stroke-width="1"/>
<text x="0.00" y="0.00" font-size="8.6" font-family='"Liberation Serif", serif' font-weight="normal" text-anchor="end" fill="#1a1a1a" stroke="#1a1a1a" stroke-width="0.18" transform="translate(350.10 525.24) rotate(0) scale(0.8 1)">10</text>
<path d="M351.1 498.10L353.3 498.10" stroke="#858585" stroke-width="1"/>
<text x="0.00" y="0.00" font-size="8.6" font-family='"Liberation Serif", serif' font-weight="normal" text-anchor="end" fill="#1a1a1a" stroke="#1a1a1a" stroke-width="0.18" transform="translate(350.10 501.64) rotate(0) scale(0.8 1)">20</text>
<path d="M351.1 474.50L353.3 474.50" stroke="#858585" stroke-width="1"/>
<text x="0.00" y="0.00" font-size="8.6" font-family='"Liberation Serif", serif' font-weight="normal" text-anchor="end" fill="#1a1a1a" stroke="#1a1a1a" stroke-width="0.18" transform="translate(350.10 478.04) rotate(0) scale(0.8 1)">30</text>
<path d="M351.1 450.90L353.3 450.90" stroke="#858585" stroke-width="1"/>
<text x="0.00" y="0.00" font-size="8.6" font-family='"Liberation Serif", serif' font-weight="normal" text-anchor="end" fill="#1a1a1a" stroke="#1a1a1a" stroke-width="0.18" transform="translate(350.10 454.44) rotate(0) scale(0.8 1)">40</text>
<path d="M351.1 427.30L353.3 427.30" stroke="#858585" stroke-width="1"/>
<text x="0.00" y="0.00" font-size="8.6" font-family='"Liberation Serif", serif' font-weight="normal" text-anchor="end" fill="#1a1a1a" stroke="#1a1a1a" stroke-width="0.18" transform="translate(350.10 430.84) rotate(0) scale(0.8 1)">50</text>
<path d="M354.00 545.3L354.00 547.5" stroke="#858585" stroke-width="1"/>
<text x="354.00" y="557.60" font-size="8.6" font-family='"Liberation Serif", serif' font-weight="normal" text-anchor="middle" fill="#1a1a1a" stroke="#1a1a1a" stroke-width="0.18">0</text>
<path d="M380.43 545.3L380.43 547.5" stroke="#858585" stroke-width="1"/>
<text x="380.43" y="557.60" font-size="8.6" font-family='"Liberation Serif", serif' font-weight="normal" text-anchor="middle" fill="#1a1a1a" stroke="#1a1a1a" stroke-width="0.18">3</text>
<path d="M406.87 545.3L406.87 547.5" stroke="#858585" stroke-width="1"/>
<text x="406.87" y="557.60" font-size="8.6" font-family='"Liberation Serif", serif' font-weight="normal" text-anchor="middle" fill="#1a1a1a" stroke="#1a1a1a" stroke-width="0.18">6</text>
<path d="M433.30 545.3L433.30 547.5" stroke="#858585" stroke-width="1"/>
<text x="433.30" y="557.60" font-size="8.6" font-family='"Liberation Serif", serif' font-weight="normal" text-anchor="middle" fill="#1a1a1a" stroke="#1a1a1a" stroke-width="0.18">9</text>
<path d="M459.73 545.3L459.73 547.5" stroke="#858585" stroke-width="1"/>
<text x="459.73" y="557.60" font-size="8.6" font-family='"Liberation Serif", serif' font-weight="normal" text-anchor="middle" fill="#1a1a1a" stroke="#1a1a1a" stroke-width="0.18">12</text>
<path d="M486.17 545.3L486.17 547.5" stroke="#858585" stroke-width="1"/>
<text x="486.17" y="557.60" font-size="8.6" font-family='"Liberation Serif", serif' font-weight="normal" text-anchor="middle" fill="#1a1a1a" stroke="#1a1a1a" stroke-width="0.18">15</text>
<path d="M512.60 545.3L512.60 547.5" stroke="#858585" stroke-width="1"/>
<text x="512.60" y="557.60" font-size="8.6" font-family='"Liberation Serif", serif' font-weight="normal" text-anchor="middle" fill="#1a1a1a" stroke="#1a1a1a" stroke-width="0.18">18</text>
<text x="443.85" y="569.00" font-size="7.9" font-family='"Liberation Serif", serif' font-weight="normal" text-anchor="middle" fill="#1a1a1a" stroke="#1a1a1a" stroke-width="0.18">Culture time (d)</text>
<text x="336.80" y="490.60" font-size="7.4" font-family='"Liberation Serif", serif' font-weight="normal" text-anchor="middle" fill="#1a1a1a" stroke="#1a1a1a" stroke-width="0.18" transform="rotate(-90 336.80 490.60)" textLength="73.5" lengthAdjust="spacingAndGlyphs">CD4+CD8α+ cells (%)</text>
<path d="M354.00 545.30 L398.06 538.46 L415.68 531.61 L442.11 509.90 L477.36 483.23 L512.60 483.23" stroke="#333" stroke-width="0.9" fill="none"/>
<rect x="351.70" y="543.00" width="4.6" height="4.6" fill="#fff" stroke="#333" stroke-width="1.0"/>
<rect x="395.76" y="536.16" width="4.6" height="4.6" fill="#fff" stroke="#333" stroke-width="1.0"/>
<rect x="413.38" y="529.31" width="4.6" height="4.6" fill="#fff" stroke="#333" stroke-width="1.0"/>
<rect x="439.81" y="507.60" width="4.6" height="4.6" fill="#fff" stroke="#333" stroke-width="1.0"/>
<rect x="475.06" y="480.93" width="4.6" height="4.6" fill="#fff" stroke="#333" stroke-width="1.0"/>
<rect x="510.30" y="480.93" width="4.6" height="4.6" fill="#fff" stroke="#333" stroke-width="1.0"/>
<path d="M354.00 545.30 L398.06 538.46 L415.68 531.61 L442.11 509.90 L477.36 519.34 L512.60 508.72" stroke="#333" stroke-width="0.9" fill="none"/>
<path d="M351.70 543.00L356.30 547.60M351.70 547.60L356.30 543.00" stroke="#333" stroke-width="1.0" fill="none"/>
<path d="M395.76 536.16L400.36 540.76M395.76 540.76L400.36 536.16" stroke="#333" stroke-width="1.0" fill="none"/>
<path d="M413.38 529.31L417.98 533.91M413.38 533.91L417.98 529.31" stroke="#333" stroke-width="1.0" fill="none"/>
<path d="M439.81 507.60L444.41 512.20M439.81 512.20L444.41 507.60" stroke="#333" stroke-width="1.0" fill="none"/>
<path d="M475.06 517.04L479.66 521.64M475.06 521.64L479.66 517.04" stroke="#333" stroke-width="1.0" fill="none"/>
<path d="M510.30 506.42L514.90 511.02M510.30 511.02L514.90 506.42" stroke="#333" stroke-width="1.0" fill="none"/>
<path d="M354.00 545.30 L398.06 518.87 L415.68 512.50 L442.11 488.66 L477.36 468.36 L512.60 433.44" stroke="#333" stroke-width="0.9" fill="none"/>
<circle cx="354.00" cy="545.30" r="2.3" fill="#fff" stroke="#333" stroke-width="1.0"/>
<circle cx="398.06" cy="518.87" r="2.3" fill="#fff" stroke="#333" stroke-width="1.0"/>
<circle cx="415.68" cy="512.50" r="2.3" fill="#fff" stroke="#333" stroke-width="1.0"/>
<circle cx="442.11" cy="488.66" r="2.3" fill="#fff" stroke="#333" stroke-width="1.0"/>
<circle cx="477.36" cy="468.36" r="2.3" fill="#fff" stroke="#333" stroke-width="1.0"/>
<circle cx="512.60" cy="433.44" r="2.3" fill="#fff" stroke="#333" stroke-width="1.0"/>
<path d="M365.4 434.6L378.5 434.6" stroke="#444" stroke-width="1.0"/>
<circle cx="371.50" cy="434.60" r="1.5" fill="#fff" stroke="#444" stroke-width="1.0"/>
<text x="380.80" y="438.40" font-size="8.0" font-family='"Liberation Serif", serif' font-weight="normal" text-anchor="start" fill="#1a1a1a" stroke="#1a1a1a" stroke-width="0.18">No IFN-α</text>
<path d="M365.4 444.2L378.5 444.2" stroke="#444" stroke-width="1.0"/>
<rect x="370.00" y="442.70" width="3.0" height="3.0" fill="#fff" stroke="#444" stroke-width="1.0"/>
<text x="380.20" y="448.00" font-size="8.0" font-family='"Liberation Serif", serif' font-weight="normal" text-anchor="start" fill="#1a1a1a" stroke="#1a1a1a" stroke-width="0.18">1 000U/mL IFN-α days 1-7</text>
<path d="M365.4 453.8L378.5 453.8" stroke="#444" stroke-width="1.0"/>
<path d="M370.00 452.30L373.00 455.30M370.00 455.30L373.00 452.30" stroke="#444" stroke-width="1.0" fill="none"/>
<text x="380.20" y="457.60" font-size="8.0" font-family='"Liberation Serif", serif' font-weight="normal" text-anchor="start" fill="#1a1a1a" stroke="#1a1a1a" stroke-width="0.18">1 000U/mL IFN-α continual</text>
<text transform="translate(1.10 602.70) scale(0.93 1)" font-size="20.0" font-family='"Liberation Sans", sans-serif' font-weight="bold" fill="#0a0a0a">G</text>
<rect x="227.9" y="589.5" width="141.10" height="65.00" fill="none" stroke="#a8a8a8" stroke-width="1.1"/>
<path d="M240.00 645.67 L240.57 645.70 L241.15 645.42 L241.73 645.94 L242.30 645.59 L242.88 645.71 L243.45 646.09 L244.03 645.88 L244.60 646.47 L245.18 645.92 L245.75 645.71 L246.32 645.28 L246.90 645.77 L247.47 645.40 L248.05 645.69 L248.62 645.97 L249.20 645.88 L249.74 646.18 L250.28 645.61 L250.82 645.47 L251.36 645.14 L251.90 644.97 L252.53 645.33 L253.17 646.00 L253.80 645.90 L254.40 646.15 L255.00 645.77 L255.60 646.24 L256.20 645.52 L256.77 646.27 L257.35 646.52 L257.93 646.66 L258.50 646.38 L259.07 646.50 L259.65 645.79 L260.23 646.28 L260.80 646.13 L261.38 645.96 L261.95 646.21 L262.53 645.97 L263.10 646.31 L263.68 645.67 L264.25 645.27 L264.82 645.23 L265.40 645.63 L265.94 645.73 L266.48 645.46 L267.02 645.86 L267.56 646.13 L268.10 645.78 L268.68 645.53 L269.25 645.96 L269.82 645.26 L270.40 645.55 L271.03 645.22 L271.67 646.06 L272.30 645.52 L272.88 645.27 L273.45 644.82 L274.03 643.98 L274.60 644.10 L275.13 644.37 L275.67 644.10 L276.20 644.50 L276.70 644.42 L277.20 644.74 L277.70 645.33 L278.20 644.91 L278.70 644.26 L279.20 644.71 L279.70 644.42 L280.20 643.81 L280.70 643.77 L281.20 642.98 L281.72 642.40 L282.24 641.92 L282.76 640.79 L283.28 640.11 L283.80 639.85 L284.30 640.58 L284.80 642.05 L285.30 642.95 L285.80 643.76 L286.38 643.39 L286.95 643.12 L287.53 642.21 L288.10 642.32 L288.68 640.63 L289.25 638.37 L289.82 636.58 L290.40 635.37 L291.10 631.22 L291.80 627.26 L292.70 630.40 L293.20 632.70 L293.70 635.41 L294.20 637.34 L294.80 639.41 L295.40 641.74 L296.03 640.31 L296.67 638.98 L297.30 637.50 L297.93 634.83 L298.57 632.82 L299.20 629.60 L299.90 627.46 L300.60 624.55 L301.17 627.70 L301.73 630.00 L302.30 633.48 L302.93 635.42 L303.57 636.93 L304.20 639.18 L304.70 637.77 L305.20 636.74 L305.70 634.91 L306.20 634.50 L306.70 632.12 L307.20 630.51 L307.70 628.85 L308.40 627.95 L309.10 626.17 L309.75 629.05 L310.40 631.99 L310.97 634.19 L311.55 636.40 L312.12 639.03 L312.70 641.12 L313.20 639.79 L313.70 638.82 L314.20 637.37 L314.80 636.88 L315.40 635.76 L316.00 635.06 L316.57 636.60 L317.13 637.77 L317.70 638.32 L318.22 639.88 L318.73 640.81 L319.25 641.73 L319.77 642.59 L320.28 643.21 L320.80 644.34 L321.38 643.60 L321.95 643.78 L322.53 643.26 L323.10 642.08 L323.73 642.17 L324.37 641.05 L325.00 641.08 L325.57 641.51 L326.15 641.88 L326.73 642.65 L327.30 643.41 L327.80 644.10 L328.30 644.97 L328.80 645.99 L329.33 645.54 L329.87 645.94 L330.40 646.60 L330.92 646.20 L331.43 645.84 L331.95 645.29 L332.47 645.78 L332.98 645.23 L333.50 645.19 L334.00 645.23 L334.50 645.45 L335.00 646.37 L335.50 646.06 L336.00 646.77 L336.50 646.43 L337.07 646.89 L337.65 646.69 L338.23 646.48 L338.80 646.19 L339.33 646.09 L339.87 646.01 L340.40 646.48 L341.03 646.41 L341.67 645.71 L342.30 645.53 L342.80 645.05 L343.30 645.16 L343.80 645.29 L344.40 645.98 L345.00 646.21 L345.52 646.42 L346.03 646.52 L346.55 646.42 L347.07 646.15 L347.58 645.97 L348.10 646.63 L348.68 646.04 L349.25 646.49 L349.82 646.15 L350.40 646.36 L350.94 646.15 L351.48 646.02 L352.02 646.52 L352.56 646.64 L353.10 646.77 L353.60 646.36 L354.10 646.67 L354.60 646.21 L355.23 645.79 L355.87 645.99 L356.50 645.81 L357.03 645.64 L357.57 645.60 L358.10 645.80" stroke="#c4c4c4" stroke-width="0.8" fill="none" stroke-linejoin="round"/>
<path d="M240.00 644.49 L240.46 645.57 L240.92 645.53 L241.38 644.90 L241.84 645.31 L242.30 645.33 L242.76 645.77 L243.22 646.12 L243.68 645.31 L244.14 645.38 L244.60 646.67 L245.06 645.87 L245.52 646.09 L245.98 644.78 L246.44 645.16 L246.90 645.31 L247.36 644.78 L247.82 645.94 L248.28 646.04 L248.74 644.98 L249.20 645.14 L249.65 645.66 L250.10 646.01 L250.55 645.03 L251.00 644.60 L251.45 644.69 L251.90 643.94 L252.38 644.69 L252.85 645.46 L253.33 646.02 L253.80 646.13 L254.28 645.98 L254.76 645.83 L255.24 646.02 L255.72 645.65 L256.20 645.13 L256.66 646.49 L257.12 646.32 L257.58 646.66 L258.04 646.24 L258.50 647.59 L258.96 647.10 L259.42 645.77 L259.88 645.77 L260.34 646.01 L260.80 645.70 L261.26 646.09 L261.72 645.45 L262.18 646.10 L262.64 645.96 L263.10 645.52 L263.56 645.66 L264.02 645.82 L264.48 645.50 L264.94 644.77 L265.40 644.62 L265.85 644.07 L266.30 644.57 L266.75 645.57 L267.20 645.25 L267.65 645.13 L268.10 645.87 L268.56 645.76 L269.02 645.40 L269.48 644.66 L269.94 644.43 L270.40 644.21 L270.88 644.99 L271.35 645.03 L271.82 645.25 L272.30 645.79 L272.76 644.22 L273.22 643.32 L273.68 643.32 L274.14 642.80 L274.60 641.33 L275.13 641.42 L275.67 641.47 L276.20 642.30 L276.70 643.61 L277.20 643.95 L277.70 644.26 L278.14 644.13 L278.57 642.68 L279.01 642.49 L279.45 642.53 L279.89 641.43 L280.32 640.69 L280.76 639.85 L281.20 639.63 L281.63 638.64 L282.07 636.89 L282.50 636.11 L282.93 634.91 L283.37 633.73 L283.80 632.43 L284.20 634.25 L284.60 635.87 L285.00 637.67 L285.40 639.38 L285.80 640.58 L286.26 640.94 L286.72 639.68 L287.18 638.69 L287.64 638.08 L288.10 637.29 L288.56 634.14 L289.02 631.05 L289.48 628.08 L289.94 625.05 L290.40 621.96 L290.87 615.84 L291.33 609.57 L291.80 603.65 L292.25 606.92 L292.70 610.45 L293.20 616.24 L293.70 621.83 L294.20 627.47 L294.80 631.73 L295.40 635.66 L295.88 633.87 L296.35 631.65 L296.82 629.19 L297.30 627.03 L297.77 622.80 L298.25 618.99 L298.73 614.48 L299.20 610.18 L299.67 606.24 L300.13 601.85 L300.60 597.46 L301.03 602.61 L301.45 607.92 L301.88 612.81 L302.30 617.97 L302.77 621.19 L303.25 624.02 L303.73 626.93 L304.20 629.99 L304.60 627.65 L305.00 625.78 L305.40 623.72 L305.80 621.51 L306.20 619.38 L306.70 615.99 L307.20 611.94 L307.70 607.94 L308.17 606.36 L308.63 604.68 L309.10 602.43 L309.53 606.26 L309.97 610.17 L310.40 614.32 L310.86 618.33 L311.32 622.95 L311.78 627.26 L312.24 631.51 L312.70 635.64 L313.20 633.23 L313.70 630.30 L314.20 627.31 L314.65 625.89 L315.10 624.88 L315.55 623.49 L316.00 622.34 L316.43 624.02 L316.85 626.02 L317.27 627.53 L317.70 629.49 L318.14 631.73 L318.59 633.55 L319.03 635.11 L319.47 637.29 L319.91 638.85 L320.36 641.44 L320.80 643.04 L321.26 641.66 L321.72 640.51 L322.18 639.66 L322.64 639.23 L323.10 637.84 L323.58 637.30 L324.05 636.41 L324.52 635.21 L325.00 634.02 L325.46 635.57 L325.92 636.79 L326.38 637.79 L326.84 638.84 L327.30 639.93 L327.80 641.59 L328.30 643.19 L328.80 645.64 L329.33 645.67 L329.87 645.71 L330.40 645.95 L330.84 646.40 L331.29 645.56 L331.73 645.51 L332.17 644.94 L332.61 645.38 L333.06 645.09 L333.50 643.53 L333.93 644.28 L334.36 644.96 L334.79 646.38 L335.21 646.60 L335.64 646.47 L336.07 646.80 L336.50 647.94 L336.96 647.93 L337.42 647.83 L337.88 646.76 L338.34 647.28 L338.80 646.76 L339.33 646.61 L339.87 647.45 L340.40 646.53 L340.88 646.64 L341.35 645.17 L341.82 644.71 L342.30 645.18 L342.80 643.93 L343.30 644.43 L343.80 643.94 L344.40 645.63 L345.00 646.32 L345.44 646.33 L345.89 646.32 L346.33 647.19 L346.77 646.87 L347.21 647.42 L347.66 647.39 L348.10 646.39 L348.56 646.89 L349.02 646.19 L349.48 646.01 L349.94 645.98 L350.40 647.01 L350.85 647.04 L351.30 647.23 L351.75 646.68 L352.20 647.19 L352.65 647.56 L353.10 647.13 L353.60 647.13 L354.10 646.38 L354.60 645.91 L355.08 646.10 L355.55 646.90 L356.02 646.37 L356.50 646.80 L356.90 645.94 L357.30 645.49 L357.70 646.00 L358.10 645.86" stroke="#1a1a1a" stroke-width="1.0" fill="none" stroke-linejoin="round"/>
<text x="235.60" y="672.25" font-size="8.75" font-family='"Liberation Serif", serif' font-weight="normal" text-anchor="start" fill="#1a1a1a" stroke="#1a1a1a" stroke-width="0.18">PBMC control</text>
<text x="148.25" y="699.50" font-size="8.8" font-family='"Liberation Serif", serif' font-weight="normal" text-anchor="middle" fill="#1a1a1a" stroke="#1a1a1a" stroke-width="0.18">day 7</text>
<text x="291.35" y="699.50" font-size="8.8" font-family='"Liberation Serif", serif' font-weight="normal" text-anchor="middle" fill="#1a1a1a" stroke="#1a1a1a" stroke-width="0.18">day 15</text>
<text x="440.20" y="699.50" font-size="8.6" font-family='"Liberation Serif", serif' font-weight="normal" text-anchor="middle" fill="#1a1a1a" stroke="#1a1a1a" stroke-width="0.18">day 21</text>
<text x="74.70" y="751.00" font-size="9.1" font-family='"Liberation Serif", serif' font-weight="normal" text-anchor="end" fill="#1a1a1a" stroke="#1a1a1a" stroke-width="0.18">no IFN-α</text>
<text x="74.70" y="831.70" font-size="8.95" font-family='"Liberation Serif", serif' font-weight="normal" text-anchor="end" fill="#1a1a1a" stroke="#1a1a1a" stroke-width="0.18">10U/mL IFN-α</text>
<text x="73.90" y="914.10" font-size="8.8" font-family='"Liberation Serif", serif' font-weight="normal" text-anchor="end" fill="#1a1a1a" stroke="#1a1a1a" stroke-width="0.18">1 000U/mL IFN-α</text>
<text x="73.00" y="995.90" font-size="8.8" font-family='"Liberation Serif", serif' font-weight="normal" text-anchor="end" fill="#1a1a1a" stroke="#1a1a1a" stroke-width="0.18">10 000U/mL IFN-α</text>
<rect x="88.3" y="714.3" width="132.70" height="65.40" fill="none" stroke="#b8b8b8" stroke-width="1.1"/>
<path d="M99.50 771.15 L100.00 771.28 L100.50 770.97 L101.00 770.69 L101.50 771.12 L102.00 770.80 L102.50 771.15 L103.00 770.77 L103.50 770.96 L104.00 771.14 L104.50 770.50 L105.00 770.76 L105.50 770.81 L106.00 770.73 L106.50 771.25 L107.00 770.54 L107.50 770.86 L108.00 770.74 L108.50 770.59 L109.00 770.58 L109.50 771.23 L110.00 770.79 L110.52 771.29 L111.04 770.86 L111.56 770.86 L112.08 770.77 L112.60 770.71 L113.12 770.69 L113.65 771.36 L114.17 771.49 L114.69 771.57 L115.21 771.42 L115.73 771.59 L116.25 771.38 L116.75 771.14 L117.25 771.40 L117.75 770.92 L118.25 770.47 L118.75 770.66 L119.25 770.77 L119.75 770.53 L120.25 770.20 L120.75 770.24 L121.25 769.71 L121.79 769.68 L122.33 769.26 L122.88 768.43 L123.42 768.81 L123.96 768.35 L124.50 767.94 L125.08 767.84 L125.67 768.60 L126.25 768.58 L126.83 768.06 L127.42 768.50 L128.00 768.08 L128.54 768.16 L129.08 768.80 L129.62 769.03 L130.17 770.09 L130.71 770.09 L131.25 770.99 L131.75 770.71 L132.25 770.93 L132.75 770.75 L133.25 770.63 L133.75 770.70 L134.25 770.91 L134.75 771.17 L135.25 770.98 L135.75 771.40 L136.25 771.28 L136.79 770.99 L137.32 770.78 L137.86 770.38 L138.39 770.21 L138.93 770.00 L139.46 769.66 L140.00 768.88 L140.54 768.69 L141.07 768.32 L141.61 768.36 L142.14 768.02 L142.68 767.59 L143.21 767.34 L143.75 766.80 L144.29 767.29 L144.83 767.76 L145.38 768.28 L145.92 768.28 L146.46 768.76 L147.00 768.52 L147.53 769.35 L148.06 769.41 L148.59 769.69 L149.12 770.14 L149.66 770.34 L150.19 770.28 L150.72 770.55 L151.25 771.28 L151.76 771.08 L152.27 771.27 L152.78 770.89 L153.29 771.12 L153.80 771.00 L154.31 770.95 L154.81 771.00 L155.32 771.04 L155.83 770.77 L156.34 770.71 L156.85 771.18 L157.36 771.09 L157.87 770.78 L158.38 770.89 L158.89 771.28 L159.40 771.12 L159.91 771.29 L160.42 771.25 L160.93 770.66 L161.44 770.92 L161.94 771.21 L162.45 771.27 L162.96 771.31 L163.47 770.71 L163.98 770.77 L164.49 771.03 L165.00 770.70 L165.50 770.55 L166.00 770.88 L166.50 771.08 L167.00 770.84 L167.50 770.85 L168.00 770.77 L168.50 770.43 L169.00 770.95 L169.50 771.12 L170.00 771.08 L170.50 770.72 L171.00 770.64 L171.50 771.03 L172.00 770.46 L172.50 770.32 L173.02 770.95 L173.54 770.46 L174.06 770.36 L174.58 770.32 L175.10 770.09 L175.62 770.69 L176.15 770.27 L176.67 770.56 L177.19 770.01 L177.71 770.11 L178.23 770.04 L178.75 769.49 L179.29 769.74 L179.83 768.92 L180.38 769.22 L180.92 768.64 L181.46 768.45 L182.00 768.16 L182.50 768.09 L183.00 768.52 L183.50 769.39 L184.00 770.07 L184.50 769.91 L185.04 770.38 L185.57 769.96 L186.11 770.12 L186.64 770.00 L187.18 769.79 L187.71 770.31 L188.25 769.96 L188.81 768.31 L189.38 766.72 L189.94 765.97 L190.50 764.61 L191.00 761.46 L191.50 758.99 L192.00 761.91 L192.50 764.08 L193.12 767.05 L193.75 769.51 L194.33 768.39 L194.92 766.90 L195.50 766.52 L196.00 767.49 L196.50 768.97 L197.00 770.09 L197.53 770.20 L198.06 770.02 L198.59 770.46 L199.12 770.34 L199.66 770.95 L200.19 770.61 L200.72 770.87 L201.25 770.89 L201.77 770.62 L202.30 770.40 L202.82 770.73 L203.34 771.03 L203.86 770.95 L204.39 771.25 L204.91 770.68 L205.43 771.24 L205.95 770.96 L206.48 771.20 L207.00 771.64" stroke="#c4c4c4" stroke-width="0.8" fill="none" stroke-linejoin="round"/>
<path d="M99.50 771.23 L99.90 771.11 L100.31 770.64 L100.71 770.41 L101.12 770.77 L101.52 770.62 L101.92 771.15 L102.33 770.47 L102.73 770.72 L103.13 770.87 L103.54 771.32 L103.94 770.76 L104.35 770.44 L104.75 771.11 L105.15 770.92 L105.56 770.40 L105.96 771.32 L106.37 771.43 L106.77 771.18 L107.17 771.31 L107.58 770.48 L107.98 771.07 L108.38 771.31 L108.79 771.01 L109.19 770.71 L109.60 770.19 L110.00 770.66 L110.42 770.94 L110.83 771.39 L111.25 771.50 L111.67 770.85 L112.08 771.43 L112.50 770.61 L112.92 771.41 L113.33 771.08 L113.75 770.37 L114.17 771.39 L114.58 770.98 L115.00 771.60 L115.42 771.42 L115.83 770.52 L116.25 771.24 L116.67 771.62 L117.08 770.60 L117.50 770.57 L117.92 771.19 L118.33 770.09 L118.75 770.47 L119.17 769.86 L119.58 770.74 L120.00 770.36 L120.42 769.72 L120.83 769.06 L121.25 769.25 L121.66 769.17 L122.06 769.42 L122.47 767.92 L122.88 768.20 L123.28 768.07 L123.69 767.50 L124.09 767.53 L124.50 766.81 L124.94 767.71 L125.38 767.52 L125.81 767.81 L126.25 767.92 L126.69 767.88 L127.12 767.34 L127.56 767.36 L128.00 766.71 L128.41 767.00 L128.81 767.44 L129.22 768.47 L129.62 768.97 L130.03 769.15 L130.44 769.05 L130.84 770.42 L131.25 771.03 L131.67 771.18 L132.08 771.15 L132.50 771.31 L132.92 771.43 L133.33 770.97 L133.75 770.85 L134.17 771.37 L134.58 770.85 L135.00 771.69 L135.42 771.82 L135.83 771.97 L136.25 771.63 L136.67 771.82 L137.08 771.00 L137.50 770.51 L137.92 770.50 L138.33 770.67 L138.75 770.25 L139.17 769.77 L139.58 768.47 L140.00 768.91 L140.42 768.43 L140.83 768.32 L141.25 768.32 L141.67 767.17 L142.08 767.55 L142.50 766.38 L142.92 766.22 L143.33 766.72 L143.75 765.77 L144.16 766.72 L144.56 766.00 L144.97 766.35 L145.38 767.40 L145.78 766.77 L146.19 767.79 L146.59 768.54 L147.00 768.30 L147.43 768.75 L147.85 768.09 L148.28 769.19 L148.70 769.40 L149.12 769.61 L149.55 769.60 L149.97 769.82 L150.40 770.92 L150.82 769.85 L151.25 770.08 L151.65 771.40 L152.06 770.31 L152.46 770.22 L152.87 770.34 L153.27 771.17 L153.68 771.36 L154.08 770.08 L154.49 770.65 L154.89 770.19 L155.29 770.41 L155.70 770.36 L156.10 770.96 L156.51 770.54 L156.91 770.30 L157.32 770.76 L157.72 770.11 L158.12 770.19 L158.53 771.43 L158.93 770.33 L159.34 770.55 L159.74 771.07 L160.15 771.22 L160.55 771.34 L160.96 770.29 L161.36 770.99 L161.76 771.40 L162.17 770.13 L162.57 771.00 L162.98 771.23 L163.38 770.53 L163.79 770.40 L164.19 770.89 L164.60 770.67 L165.00 770.29 L165.42 770.70 L165.83 770.60 L166.25 770.81 L166.67 770.71 L167.08 770.42 L167.50 770.47 L167.92 771.13 L168.33 770.29 L168.75 770.71 L169.17 769.93 L169.58 770.94 L170.00 770.35 L170.42 769.93 L170.83 770.25 L171.25 770.18 L171.67 771.16 L172.08 770.31 L172.50 770.20 L172.92 770.24 L173.33 770.99 L173.75 770.49 L174.17 770.40 L174.58 770.47 L175.00 769.94 L175.42 769.91 L175.83 770.18 L176.25 769.20 L176.67 769.40 L177.08 769.53 L177.50 769.34 L177.92 769.83 L178.33 769.40 L178.75 770.03 L179.16 769.28 L179.56 768.76 L179.97 768.43 L180.38 768.53 L180.78 767.82 L181.19 767.85 L181.59 766.68 L182.00 766.92 L182.42 767.16 L182.83 767.52 L183.25 768.54 L183.67 768.98 L184.08 769.59 L184.50 770.36 L184.92 770.48 L185.33 769.88 L185.75 769.57 L186.17 769.73 L186.58 770.15 L187.00 770.19 L187.42 770.05 L187.83 769.12 L188.25 770.20 L188.70 768.29 L189.15 766.12 L189.60 765.43 L190.05 764.17 L190.50 762.45 L191.00 759.47 L191.50 756.15 L192.00 759.21 L192.50 762.62 L192.92 764.30 L193.33 767.12 L193.75 768.79 L194.19 767.25 L194.62 766.34 L195.06 766.15 L195.50 765.21 L196.00 766.36 L196.50 769.00 L197.00 769.44 L197.43 770.55 L197.85 769.96 L198.28 769.56 L198.70 769.88 L199.12 770.18 L199.55 770.71 L199.97 770.86 L200.40 769.89 L200.82 770.48 L201.25 770.71 L201.66 770.34 L202.07 771.13 L202.48 770.35 L202.89 770.04 L203.30 770.12 L203.71 771.07 L204.12 770.96 L204.54 771.55 L204.95 771.60 L205.36 771.61 L205.77 770.45 L206.18 771.49 L206.59 771.48 L207.00 771.47" stroke="#1a1a1a" stroke-width="1.0" fill="none" stroke-linejoin="round"/>
<rect x="88.3" y="792.0" width="132.70" height="65.30" fill="none" stroke="#b8b8b8" stroke-width="1.1"/>
<path d="M99.50 848.62 L100.03 848.53 L100.56 848.13 L101.09 848.53 L101.62 848.06 L102.16 848.01 L102.69 848.23 L103.22 847.85 L103.75 848.28 L104.25 847.97 L104.75 847.99 L105.25 847.80 L105.75 848.52 L106.25 848.16 L106.75 848.46 L107.25 848.75 L107.75 848.67 L108.25 849.18 L108.75 848.81 L109.27 848.80 L109.79 848.60 L110.31 848.55 L110.83 848.65 L111.35 849.04 L111.88 848.68 L112.40 849.02 L112.92 848.74 L113.44 849.30 L113.96 848.68 L114.48 849.32 L115.00 849.47 L115.50 849.36 L116.00 848.83 L116.50 849.00 L117.00 848.34 L117.50 848.89 L118.00 848.78 L118.50 848.44 L119.00 848.53 L119.50 848.12 L120.00 848.30 L120.54 847.89 L121.07 847.72 L121.61 847.91 L122.14 848.55 L122.68 848.62 L123.21 848.32 L123.75 848.68 L124.29 848.75 L124.82 848.20 L125.36 848.05 L125.89 848.56 L126.43 847.96 L126.96 848.34 L127.50 847.69 L128.00 848.45 L128.50 847.83 L129.00 848.26 L129.50 848.49 L130.00 848.33 L130.50 849.12 L131.00 849.39 L131.50 849.11 L132.00 849.50 L132.50 849.30 L133.00 849.32 L133.50 849.60 L134.00 849.45 L134.50 849.08 L135.00 849.81 L135.50 849.79 L136.00 849.45 L136.50 849.70 L137.00 849.18 L137.50 849.24 L138.00 849.13 L138.50 848.38 L139.00 848.08 L139.50 848.19 L140.00 847.64 L140.54 848.20 L141.07 848.18 L141.61 848.08 L142.14 848.23 L142.68 848.49 L143.21 848.10 L143.75 848.73 L144.29 848.51 L144.83 847.72 L145.38 847.39 L145.92 847.65 L146.46 847.30 L147.00 847.15 L147.50 847.22 L148.00 846.88 L148.50 846.96 L149.00 846.25 L149.50 846.32 L150.00 846.63 L150.50 846.88 L151.00 847.22 L151.50 847.41 L152.00 847.68 L152.50 848.61 L153.04 847.81 L153.57 848.41 L154.11 848.24 L154.64 848.22 L155.18 847.34 L155.71 847.65 L156.25 847.69 L156.79 847.62 L157.32 848.28 L157.86 848.24 L158.39 848.58 L158.93 848.12 L159.46 849.08 L160.00 848.63 L160.50 848.78 L161.00 848.88 L161.50 849.24 L162.00 848.72 L162.50 849.05 L163.00 849.44 L163.50 849.25 L164.00 849.07 L164.50 849.31 L165.00 849.01 L165.52 848.97 L166.04 849.29 L166.56 849.14 L167.08 849.41 L167.60 849.06 L168.12 849.12 L168.65 849.58 L169.17 849.68 L169.69 849.15 L170.21 849.74 L170.73 849.70 L171.25 849.66 L171.75 849.53 L172.25 849.15 L172.75 849.29 L173.25 849.05 L173.75 849.74 L174.25 849.72 L174.75 849.05 L175.25 849.70 L175.75 849.15 L176.25 849.76 L176.75 849.52 L177.25 849.22 L177.75 849.33 L178.25 849.43 L178.75 849.29 L179.33 848.22 L179.92 847.29 L180.50 845.54 L181.00 844.45 L181.50 843.60 L182.00 842.05 L182.58 843.20 L183.17 844.15 L183.75 846.15 L184.38 846.97 L185.00 848.30 L185.50 847.22 L186.00 846.34 L186.50 846.14 L187.00 844.72 L187.58 846.37 L188.17 846.96 L188.75 848.76 L189.25 848.18 L189.75 847.58 L190.25 846.91 L190.75 846.23 L191.25 845.56 L191.83 846.77 L192.42 847.85 L193.00 848.29 L193.50 848.11 L194.00 847.40 L194.50 847.28 L195.00 847.18 L195.50 847.46 L196.00 847.28 L196.50 847.67 L197.00 847.93 L197.50 848.01 L198.04 847.65 L198.57 847.38 L199.11 847.96 L199.64 847.36 L200.18 847.79 L200.71 847.44 L201.25 847.64 L201.75 847.55 L202.25 847.55 L202.75 848.17 L203.25 848.42 L203.75 848.69 L204.29 848.56 L204.83 849.15 L205.38 848.99 L205.92 848.78 L206.46 849.19 L207.00 849.22" stroke="#c4c4c4" stroke-width="0.8" fill="none" stroke-linejoin="round"/>
<path d="M99.50 847.74 L99.92 848.66 L100.35 848.47 L100.78 847.68 L101.20 847.94 L101.62 847.80 L102.05 848.01 L102.47 848.13 L102.90 847.08 L103.33 846.91 L103.75 847.97 L104.17 847.51 L104.58 848.08 L105.00 847.12 L105.42 847.84 L105.83 848.33 L106.25 847.75 L106.67 848.85 L107.08 848.90 L107.50 847.78 L107.92 847.88 L108.33 848.70 L108.75 849.36 L109.17 848.60 L109.58 848.39 L110.00 848.69 L110.42 848.16 L110.83 848.44 L111.25 848.76 L111.67 848.86 L112.08 848.51 L112.50 848.52 L112.92 848.52 L113.33 848.88 L113.75 848.66 L114.17 848.30 L114.58 849.46 L115.00 849.08 L115.42 849.07 L115.83 848.31 L116.25 849.31 L116.67 849.00 L117.08 847.84 L117.50 848.02 L117.92 848.44 L118.33 848.30 L118.75 848.49 L119.17 847.64 L119.58 848.09 L120.00 847.74 L120.42 847.31 L120.83 847.79 L121.25 848.29 L121.67 848.32 L122.08 847.92 L122.50 848.12 L122.92 847.43 L123.33 847.81 L123.75 848.67 L124.17 848.05 L124.58 847.63 L125.00 848.07 L125.42 848.20 L125.83 848.08 L126.25 847.57 L126.67 847.58 L127.08 847.60 L127.50 847.89 L127.92 847.70 L128.33 847.68 L128.75 847.99 L129.17 847.51 L129.58 847.69 L130.00 848.78 L130.42 849.34 L130.83 848.96 L131.25 848.85 L131.67 848.71 L132.08 849.34 L132.50 850.17 L132.92 849.86 L133.33 849.51 L133.75 849.94 L134.17 849.04 L134.58 849.42 L135.00 850.01 L135.42 849.46 L135.83 849.28 L136.25 848.99 L136.67 849.36 L137.08 849.91 L137.50 848.56 L137.92 849.36 L138.33 849.12 L138.75 848.92 L139.17 848.42 L139.58 848.22 L140.00 847.53 L140.42 847.67 L140.83 847.56 L141.25 847.13 L141.67 848.35 L142.08 848.01 L142.50 847.58 L142.92 848.09 L143.33 848.15 L143.75 848.05 L144.16 847.78 L144.56 847.80 L144.97 847.67 L145.38 847.41 L145.78 846.94 L146.19 846.09 L146.59 846.12 L147.00 845.80 L147.43 846.26 L147.86 846.54 L148.29 846.35 L148.71 846.24 L149.14 846.16 L149.57 845.26 L150.00 845.98 L150.42 846.16 L150.83 845.75 L151.25 846.07 L151.67 846.49 L152.08 847.94 L152.50 847.65 L152.92 847.34 L153.33 847.95 L153.75 847.45 L154.17 846.95 L154.58 846.97 L155.00 847.37 L155.42 846.76 L155.83 846.79 L156.25 847.30 L156.67 847.13 L157.08 847.14 L157.50 847.55 L157.92 847.11 L158.33 847.81 L158.75 848.06 L159.17 847.92 L159.58 848.01 L160.00 849.31 L160.42 848.81 L160.83 848.43 L161.25 849.02 L161.67 849.36 L162.08 848.29 L162.50 848.33 L162.92 848.55 L163.33 849.39 L163.75 848.65 L164.17 849.45 L164.58 849.46 L165.00 849.31 L165.42 848.88 L165.83 849.95 L166.25 849.72 L166.67 849.34 L167.08 848.95 L167.50 849.56 L167.92 849.22 L168.33 849.49 L168.75 849.15 L169.17 849.60 L169.58 848.82 L170.00 849.17 L170.42 850.12 L170.83 850.01 L171.25 849.23 L171.67 849.99 L172.08 849.21 L172.50 850.07 L172.92 849.79 L173.33 849.31 L173.75 849.07 L174.17 848.71 L174.58 849.92 L175.00 848.73 L175.42 849.81 L175.83 849.99 L176.25 849.43 L176.67 848.86 L177.08 849.82 L177.50 849.95 L177.92 849.56 L178.33 849.28 L178.75 849.08 L179.19 847.97 L179.62 846.71 L180.06 846.31 L180.50 844.91 L181.00 843.16 L181.50 841.45 L182.00 840.09 L182.44 841.14 L182.88 842.50 L183.31 843.51 L183.75 845.52 L184.17 846.56 L184.58 846.33 L185.00 847.58 L185.40 846.91 L185.80 846.98 L186.20 845.85 L186.60 844.37 L187.00 843.35 L187.44 845.12 L187.88 846.47 L188.31 847.73 L188.75 848.03 L189.17 848.24 L189.58 847.43 L190.00 846.60 L190.42 846.76 L190.83 845.17 L191.25 845.32 L191.69 845.17 L192.12 846.04 L192.56 847.83 L193.00 847.60 L193.40 848.01 L193.80 847.44 L194.20 847.43 L194.60 846.42 L195.00 846.03 L195.42 846.17 L195.83 847.18 L196.25 847.02 L196.67 847.72 L197.08 847.83 L197.50 846.99 L197.92 847.52 L198.33 846.83 L198.75 846.69 L199.17 846.68 L199.58 847.73 L200.00 847.57 L200.42 847.57 L200.83 846.83 L201.25 847.16 L201.67 847.60 L202.08 847.25 L202.50 847.72 L202.92 847.45 L203.33 847.46 L203.75 847.92 L204.16 848.95 L204.56 848.65 L204.97 849.31 L205.38 848.82 L205.78 848.72 L206.19 849.59 L206.59 849.80 L207.00 848.82" stroke="#1a1a1a" stroke-width="1.0" fill="none" stroke-linejoin="round"/>
<rect x="88.3" y="869.5" width="132.70" height="65.50" fill="none" stroke="#b8b8b8" stroke-width="1.1"/>
<path d="M99.50 925.20 L100.03 924.82 L100.56 924.88 L101.09 925.16 L101.62 924.97 L102.16 924.42 L102.69 924.92 L103.22 924.80 L103.75 924.01 L104.29 924.69 L104.82 924.64 L105.36 924.56 L105.89 924.93 L106.43 925.38 L106.96 925.10 L107.50 925.45 L108.00 925.78 L108.50 925.43 L109.00 925.99 L109.50 925.77 L110.00 925.84 L110.50 925.37 L111.00 925.42 L111.50 925.91 L112.00 925.57 L112.50 925.89 L113.00 926.23 L113.50 926.00 L114.00 925.90 L114.50 925.64 L115.00 925.69 L115.52 925.72 L116.04 926.25 L116.56 926.01 L117.08 925.46 L117.60 925.29 L118.12 926.00 L118.65 925.92 L119.17 925.49 L119.69 925.21 L120.21 925.36 L120.73 925.60 L121.25 924.99 L121.79 925.30 L122.32 924.91 L122.86 924.81 L123.39 925.00 L123.93 924.08 L124.46 924.17 L125.00 923.86 L125.54 924.12 L126.07 924.91 L126.61 924.41 L127.14 925.38 L127.68 925.08 L128.21 925.49 L128.75 925.59 L129.26 925.30 L129.78 925.43 L130.29 925.42 L130.81 925.55 L131.32 925.30 L131.84 925.81 L132.35 925.55 L132.87 925.94 L133.38 925.85 L133.90 926.12 L134.41 926.24 L134.93 925.73 L135.44 926.02 L135.96 926.17 L136.47 925.79 L136.99 926.06 L137.50 926.20 L138.02 926.27 L138.54 926.16 L139.06 925.90 L139.58 925.87 L140.10 925.73 L140.62 925.92 L141.15 926.17 L141.67 925.33 L142.19 925.85 L142.71 925.86 L143.23 925.57 L143.75 925.20 L144.25 925.29 L144.75 925.71 L145.25 925.46 L145.75 925.27 L146.25 925.37 L146.75 925.21 L147.25 924.35 L147.75 924.59 L148.25 924.69 L148.75 924.65 L149.27 924.44 L149.79 924.17 L150.31 924.70 L150.83 924.81 L151.35 924.66 L151.88 924.41 L152.40 924.60 L152.92 924.66 L153.44 924.98 L153.96 925.34 L154.48 924.84 L155.00 925.07 L155.50 924.98 L156.00 924.94 L156.50 925.00 L157.00 925.35 L157.50 925.57 L158.00 925.73 L158.50 925.74 L159.00 925.80 L159.50 925.46 L160.00 925.70 L160.50 925.31 L161.00 925.64 L161.50 925.84 L162.00 925.40 L162.50 925.35 L163.00 925.38 L163.50 925.69 L164.00 925.74 L164.50 925.54 L165.00 925.37 L165.50 925.59 L166.00 925.31 L166.50 925.85 L167.00 925.89 L167.50 925.27 L168.00 925.50 L168.50 925.93 L169.00 925.40 L169.50 925.89 L170.00 925.93 L170.51 925.73 L171.03 925.67 L171.54 925.38 L172.06 925.20 L172.57 925.31 L173.09 924.96 L173.60 924.95 L174.12 925.34 L174.63 924.97 L175.15 924.91 L175.66 925.46 L176.18 925.19 L176.69 924.99 L177.21 924.96 L177.72 924.50 L178.24 925.21 L178.75 924.73 L179.33 923.75 L179.92 922.79 L180.50 922.41 L181.00 921.08 L181.50 919.92 L182.00 918.72 L182.50 918.00 L183.00 918.91 L183.50 919.35 L184.00 919.95 L184.50 921.61 L185.08 920.33 L185.67 920.15 L186.25 918.78 L186.75 920.69 L187.25 921.67 L187.75 923.27 L188.25 923.97 L188.75 923.95 L189.25 923.94 L189.75 923.07 L190.25 922.50 L190.75 922.85 L191.25 922.41 L191.75 922.39 L192.25 923.27 L192.75 923.70 L193.25 924.53 L193.75 925.44 L194.25 924.77 L194.75 924.17 L195.25 923.75 L195.75 923.49 L196.25 922.44 L196.79 923.18 L197.33 923.74 L197.88 924.14 L198.42 924.39 L198.96 925.18 L199.50 925.07 L200.00 924.75 L200.50 925.32 L201.00 925.23 L201.50 924.92 L202.00 925.07 L202.50 924.61 L203.00 924.73 L203.50 924.81 L204.00 925.00 L204.50 925.15 L205.00 925.30 L205.50 925.33 L206.00 925.61 L206.50 925.49 L207.00 925.65" stroke="#c4c4c4" stroke-width="0.8" fill="none" stroke-linejoin="round"/>
<path d="M99.50 925.64 L99.92 925.53 L100.35 924.18 L100.78 924.12 L101.20 925.07 L101.62 924.83 L102.05 924.64 L102.47 924.03 L102.90 924.35 L103.33 924.25 L103.75 924.11 L104.17 923.69 L104.58 924.24 L105.00 924.35 L105.42 924.98 L105.83 925.53 L106.25 925.63 L106.67 925.23 L107.08 925.26 L107.50 925.18 L107.92 924.88 L108.33 924.89 L108.75 925.53 L109.17 925.36 L109.58 925.47 L110.00 926.22 L110.42 925.73 L110.83 925.81 L111.25 925.38 L111.67 925.11 L112.08 925.56 L112.50 925.32 L112.92 925.88 L113.33 926.59 L113.75 926.16 L114.17 925.50 L114.58 926.52 L115.00 926.42 L115.42 926.26 L115.83 926.44 L116.25 926.17 L116.67 926.14 L117.08 925.46 L117.50 926.27 L117.92 926.18 L118.33 924.99 L118.75 925.76 L119.17 925.63 L119.58 925.21 L120.00 925.24 L120.42 925.12 L120.83 925.66 L121.25 925.00 L121.67 925.33 L122.08 924.52 L122.50 925.12 L122.92 925.00 L123.33 924.25 L123.75 924.26 L124.17 924.62 L124.58 924.20 L125.00 923.73 L125.42 923.55 L125.83 923.89 L126.25 924.61 L126.67 924.06 L127.08 925.29 L127.50 924.59 L127.92 925.69 L128.33 925.04 L128.75 926.14 L129.17 925.81 L129.58 925.55 L130.00 925.60 L130.42 925.81 L130.83 925.74 L131.25 925.38 L131.67 925.26 L132.08 925.71 L132.50 926.32 L132.92 925.91 L133.33 925.17 L133.75 926.23 L134.17 926.13 L134.58 926.40 L135.00 925.43 L135.42 926.22 L135.83 925.29 L136.25 926.14 L136.67 925.63 L137.08 925.59 L137.50 926.53 L137.92 925.42 L138.33 925.96 L138.75 926.40 L139.17 925.51 L139.58 925.43 L140.00 926.33 L140.42 925.66 L140.83 926.04 L141.25 925.04 L141.67 925.47 L142.08 925.17 L142.50 925.84 L142.92 924.98 L143.33 926.17 L143.75 924.84 L144.17 925.70 L144.58 924.58 L145.00 924.78 L145.42 925.44 L145.83 924.39 L146.25 924.31 L146.67 924.89 L147.08 924.34 L147.50 923.74 L147.92 924.94 L148.33 923.64 L148.75 923.35 L149.17 923.85 L149.58 924.29 L150.00 924.54 L150.42 923.73 L150.83 924.11 L151.25 923.74 L151.67 924.39 L152.08 924.91 L152.50 924.94 L152.92 925.23 L153.33 925.09 L153.75 925.31 L154.17 925.15 L154.58 924.90 L155.00 924.62 L155.42 925.25 L155.83 924.80 L156.25 924.53 L156.67 925.04 L157.08 925.66 L157.50 924.65 L157.92 925.31 L158.33 925.07 L158.75 925.27 L159.17 924.78 L159.58 925.95 L160.00 925.00 L160.42 925.51 L160.83 925.28 L161.25 924.74 L161.67 925.53 L162.08 924.97 L162.50 924.88 L162.92 924.85 L163.33 925.03 L163.75 924.93 L164.17 925.69 L164.58 925.51 L165.00 926.18 L165.42 926.11 L165.83 926.19 L166.25 925.13 L166.67 925.42 L167.08 925.15 L167.50 925.63 L167.92 925.67 L168.33 925.92 L168.75 925.79 L169.17 925.16 L169.58 925.39 L170.00 925.54 L170.42 924.76 L170.83 924.75 L171.25 925.23 L171.67 924.77 L172.08 925.58 L172.50 924.85 L172.92 924.61 L173.33 924.67 L173.75 924.70 L174.17 924.63 L174.58 925.01 L175.00 924.88 L175.42 924.61 L175.83 925.03 L176.25 924.38 L176.67 925.31 L177.08 925.34 L177.50 924.96 L177.92 924.50 L178.33 924.56 L178.75 924.61 L179.19 923.06 L179.62 922.76 L180.06 922.10 L180.50 920.80 L180.90 919.53 L181.30 919.12 L181.70 917.73 L182.10 916.66 L182.50 915.74 L182.90 916.46 L183.30 917.18 L183.70 918.47 L184.10 919.03 L184.50 919.73 L184.94 919.48 L185.38 918.53 L185.81 918.02 L186.25 917.69 L186.65 918.85 L187.05 919.73 L187.45 921.18 L187.85 922.37 L188.25 923.73 L188.68 922.98 L189.11 923.16 L189.54 922.08 L189.96 922.02 L190.39 921.79 L190.82 922.22 L191.25 920.66 L191.67 922.23 L192.08 922.07 L192.50 923.23 L192.92 923.60 L193.33 924.32 L193.75 925.36 L194.17 924.35 L194.58 923.47 L195.00 922.97 L195.42 922.41 L195.83 922.99 L196.25 922.20 L196.66 923.02 L197.06 923.02 L197.47 922.46 L197.88 923.72 L198.28 924.26 L198.69 924.56 L199.09 924.62 L199.50 924.80 L199.93 924.83 L200.36 925.20 L200.79 924.36 L201.21 924.61 L201.64 924.43 L202.07 924.99 L202.50 924.68 L202.91 925.01 L203.32 925.04 L203.73 924.44 L204.14 924.51 L204.55 925.03 L204.95 924.87 L205.36 925.26 L205.77 925.77 L206.18 926.27 L206.59 925.96 L207.00 926.44" stroke="#1a1a1a" stroke-width="1.0" fill="none" stroke-linejoin="round"/>
<rect x="88.3" y="947.2" width="132.70" height="65.30" fill="none" stroke="#b8b8b8" stroke-width="1.1"/>
<path d="M99.50 1003.17 L100.00 1003.27 L100.50 1003.08 L101.00 1003.13 L101.50 1003.56 L102.00 1002.77 L102.50 1003.36 L103.00 1003.24 L103.50 1002.62 L104.00 1002.57 L104.50 1002.95 L105.00 1003.18 L105.50 1002.88 L106.00 1003.24 L106.50 1003.43 L107.00 1003.66 L107.50 1003.47 L108.00 1003.34 L108.50 1003.76 L109.00 1003.73 L109.50 1003.73 L110.00 1004.13 L110.50 1003.80 L111.00 1004.01 L111.50 1004.09 L112.00 1004.25 L112.50 1003.64 L113.00 1004.24 L113.50 1004.34 L114.00 1003.65 L114.50 1003.80 L115.00 1004.07 L115.50 1004.01 L116.00 1004.42 L116.50 1003.75 L117.00 1003.72 L117.50 1004.45 L118.00 1004.33 L118.50 1004.17 L119.00 1004.04 L119.50 1004.26 L120.00 1004.58 L120.50 1004.43 L121.00 1004.20 L121.50 1003.89 L122.00 1004.03 L122.50 1004.12 L123.00 1004.33 L123.50 1004.43 L124.00 1004.29 L124.50 1004.30 L125.00 1004.35 L125.50 1004.08 L126.00 1003.73 L126.50 1004.35 L127.00 1003.95 L127.50 1004.27 L128.00 1004.03 L128.50 1003.97 L129.00 1003.89 L129.50 1003.63 L130.00 1004.08 L130.50 1003.51 L131.00 1003.88 L131.50 1003.51 L132.00 1003.49 L132.50 1003.88 L133.00 1004.14 L133.50 1003.85 L134.00 1003.62 L134.50 1003.50 L135.00 1003.90 L135.50 1003.82 L136.00 1003.79 L136.50 1003.95 L137.00 1003.37 L137.50 1003.94 L138.00 1003.44 L138.50 1003.57 L139.00 1003.10 L139.50 1003.56 L140.00 1003.76 L140.50 1003.18 L141.00 1002.86 L141.50 1003.13 L142.00 1003.22 L142.50 1002.70 L143.00 1002.56 L143.50 1002.35 L144.00 1002.57 L144.50 1002.56 L145.00 1002.23 L145.50 1002.52 L146.00 1002.10 L146.50 1002.33 L147.00 1001.99 L147.50 1001.80 L148.00 1002.57 L148.50 1002.23 L149.00 1003.08 L149.50 1003.07 L150.00 1002.94 L150.50 1003.11 L151.00 1003.19 L151.50 1003.26 L152.00 1003.15 L152.50 1003.05 L153.00 1003.25 L153.50 1003.75 L154.00 1003.47 L154.50 1003.38 L155.00 1003.29 L155.50 1003.98 L156.00 1003.21 L156.50 1003.32 L157.00 1003.25 L157.50 1003.86 L158.00 1003.41 L158.50 1003.40 L159.00 1004.15 L159.50 1003.51 L160.00 1003.77 L160.50 1003.65 L161.00 1004.26 L161.50 1004.02 L162.00 1003.72 L162.50 1003.54 L163.00 1003.65 L163.50 1004.08 L164.00 1003.84 L164.50 1004.12 L165.00 1003.98 L165.50 1003.99 L166.00 1004.01 L166.50 1003.93 L167.00 1003.96 L167.50 1003.79 L168.00 1003.93 L168.50 1004.39 L169.00 1003.87 L169.50 1003.90 L170.00 1004.29 L170.50 1004.35 L171.00 1003.84 L171.50 1004.40 L172.00 1004.25 L172.50 1004.62 L173.02 1003.76 L173.54 1003.83 L174.06 1004.28 L174.58 1004.04 L175.10 1004.16 L175.62 1003.60 L176.15 1004.07 L176.67 1003.50 L177.19 1003.82 L177.71 1003.03 L178.23 1003.36 L178.75 1003.14 L179.29 1002.86 L179.83 1002.79 L180.38 1001.68 L180.92 1001.75 L181.46 1001.37 L182.00 1001.06 L182.58 1001.30 L183.17 1000.97 L183.75 1001.00 L184.33 1000.78 L184.92 1000.85 L185.50 1000.32 L186.00 1000.96 L186.50 1001.51 L187.00 1002.26 L187.50 1003.44 L188.00 1003.05 L188.50 1002.68 L189.00 1002.40 L189.50 1001.73 L190.00 1002.27 L190.50 1000.44 L191.00 999.58 L191.50 998.65 L192.00 997.85 L192.58 999.29 L193.17 999.79 L193.75 1001.13 L194.25 1001.46 L194.75 1001.31 L195.25 1002.19 L195.75 1002.02 L196.25 1002.82 L196.79 1003.03 L197.32 1003.18 L197.86 1003.06 L198.39 1003.00 L198.93 1003.11 L199.46 1003.30 L200.00 1004.18 L200.50 1004.08 L201.00 1004.06 L201.50 1003.67 L202.00 1003.61 L202.50 1004.30 L203.00 1004.15 L203.50 1004.13 L204.00 1004.34 L204.50 1003.89 L205.00 1004.14 L205.50 1003.98 L206.00 1004.22 L206.50 1004.05 L207.00 1004.15" stroke="#c4c4c4" stroke-width="0.8" fill="none" stroke-linejoin="round"/>
<path d="M99.50 1002.88 L99.92 1003.25 L100.35 1002.95 L100.77 1003.22 L101.19 1003.20 L101.62 1002.35 L102.04 1002.22 L102.46 1003.32 L102.88 1002.45 L103.31 1002.36 L103.73 1003.37 L104.15 1002.57 L104.58 1003.03 L105.00 1002.47 L105.42 1002.80 L105.83 1002.22 L106.25 1003.00 L106.67 1003.43 L107.08 1003.05 L107.50 1003.46 L107.92 1003.47 L108.33 1002.72 L108.75 1003.80 L109.17 1003.67 L109.58 1003.37 L110.00 1003.09 L110.40 1004.28 L110.80 1003.75 L111.20 1004.12 L111.60 1004.36 L112.00 1004.15 L112.40 1004.46 L112.80 1003.74 L113.20 1004.33 L113.60 1003.85 L114.00 1004.56 L114.40 1004.50 L114.80 1003.43 L115.20 1003.50 L115.60 1003.63 L116.00 1004.70 L116.40 1003.98 L116.80 1004.27 L117.20 1003.83 L117.60 1004.14 L118.00 1003.99 L118.40 1003.96 L118.80 1004.31 L119.20 1004.33 L119.60 1004.80 L120.00 1004.50 L120.40 1004.83 L120.80 1004.71 L121.20 1004.88 L121.60 1004.41 L122.00 1003.68 L122.40 1004.63 L122.80 1004.76 L123.20 1004.66 L123.60 1004.17 L124.00 1004.35 L124.40 1003.63 L124.80 1004.47 L125.20 1004.09 L125.60 1003.67 L126.00 1003.34 L126.40 1004.43 L126.80 1004.60 L127.20 1003.31 L127.60 1004.29 L128.00 1003.72 L128.40 1003.34 L128.80 1003.52 L129.20 1004.17 L129.60 1004.29 L130.00 1003.11 L130.40 1003.89 L130.80 1003.07 L131.20 1004.00 L131.60 1003.43 L132.00 1004.18 L132.40 1004.30 L132.80 1003.62 L133.20 1004.29 L133.60 1003.30 L134.00 1002.96 L134.40 1003.67 L134.80 1002.85 L135.20 1003.07 L135.60 1003.34 L136.00 1003.60 L136.40 1002.95 L136.80 1002.77 L137.20 1003.90 L137.60 1003.11 L138.00 1003.99 L138.40 1003.89 L138.80 1003.14 L139.20 1003.23 L139.60 1003.30 L140.00 1003.45 L140.41 1003.27 L140.82 1003.10 L141.24 1003.07 L141.65 1003.40 L142.06 1002.67 L142.47 1002.45 L142.88 1002.73 L143.29 1001.94 L143.71 1001.91 L144.12 1002.74 L144.53 1001.99 L144.94 1001.91 L145.35 1001.04 L145.76 1001.48 L146.18 1001.60 L146.59 1000.70 L147.00 1001.41 L147.43 1001.69 L147.86 1001.13 L148.29 1002.18 L148.71 1002.20 L149.14 1002.75 L149.57 1002.54 L150.00 1003.29 L150.40 1003.36 L150.80 1002.39 L151.20 1002.47 L151.60 1003.37 L152.00 1003.80 L152.40 1002.83 L152.80 1003.15 L153.20 1003.37 L153.60 1003.02 L154.00 1003.11 L154.40 1003.07 L154.80 1003.18 L155.20 1003.52 L155.60 1003.14 L156.00 1003.28 L156.40 1003.86 L156.80 1002.85 L157.20 1003.64 L157.60 1003.90 L158.00 1003.33 L158.40 1003.24 L158.80 1004.09 L159.20 1003.32 L159.60 1003.28 L160.00 1003.66 L160.40 1004.04 L160.81 1003.22 L161.21 1003.55 L161.61 1003.58 L162.02 1004.30 L162.42 1003.76 L162.82 1004.36 L163.23 1003.42 L163.63 1003.67 L164.03 1004.12 L164.44 1004.47 L164.84 1003.88 L165.24 1003.57 L165.65 1003.45 L166.05 1004.03 L166.45 1003.58 L166.85 1004.45 L167.26 1004.51 L167.66 1003.61 L168.06 1003.76 L168.47 1004.52 L168.87 1004.30 L169.27 1004.55 L169.68 1003.92 L170.08 1003.63 L170.48 1003.88 L170.89 1004.60 L171.29 1003.88 L171.69 1004.00 L172.10 1004.12 L172.50 1004.14 L172.92 1004.04 L173.33 1004.67 L173.75 1003.52 L174.17 1003.22 L174.58 1004.45 L175.00 1004.28 L175.42 1004.35 L175.83 1003.49 L176.25 1004.13 L176.67 1004.01 L177.08 1002.94 L177.50 1003.59 L177.92 1003.64 L178.33 1003.31 L178.75 1003.03 L179.16 1002.33 L179.56 1002.03 L179.97 1001.49 L180.38 1000.90 L180.78 1001.25 L181.19 1000.45 L181.59 1000.81 L182.00 999.36 L182.44 1000.69 L182.88 1000.52 L183.31 1000.97 L183.75 1001.06 L184.19 1000.81 L184.62 1000.11 L185.06 999.07 L185.50 999.84 L185.90 999.74 L186.30 1000.62 L186.70 1001.83 L187.10 1002.33 L187.50 1002.88 L187.92 1003.32 L188.33 1002.57 L188.75 1001.90 L189.17 1001.49 L189.58 1002.05 L190.00 1001.22 L190.40 1000.65 L190.80 999.04 L191.20 998.08 L191.60 997.27 L192.00 996.43 L192.44 997.13 L192.88 998.78 L193.31 1000.03 L193.75 1000.93 L194.17 1001.20 L194.58 1000.31 L195.00 1001.43 L195.42 1002.01 L195.83 1001.12 L196.25 1001.68 L196.67 1001.87 L197.08 1002.43 L197.50 1002.48 L197.92 1002.74 L198.33 1003.36 L198.75 1002.47 L199.17 1002.74 L199.58 1003.03 L200.00 1003.22 L200.41 1003.16 L200.82 1004.44 L201.24 1004.29 L201.65 1003.23 L202.06 1003.83 L202.47 1003.58 L202.88 1003.59 L203.29 1003.66 L203.71 1004.09 L204.12 1004.02 L204.53 1003.72 L204.94 1003.49 L205.35 1003.70 L205.76 1003.43 L206.18 1004.05 L206.59 1004.29 L207.00 1003.83" stroke="#1a1a1a" stroke-width="1.0" fill="none" stroke-linejoin="round"/>
<rect x="232.7" y="714.3" width="133.50" height="65.40" fill="none" stroke="#b8b8b8" stroke-width="1.1"/>
<path d="M243.00 769.66 L243.50 769.76 L244.00 770.16 L244.50 770.08 L245.00 770.61 L245.54 770.21 L246.07 770.93 L246.61 771.09 L247.14 770.99 L247.68 771.05 L248.21 770.84 L248.75 771.44 L249.25 771.52 L249.75 771.55 L250.25 771.03 L250.75 770.83 L251.25 771.26 L251.75 770.96 L252.25 770.85 L252.75 770.92 L253.25 770.46 L253.75 771.00 L254.29 770.87 L254.82 770.32 L255.36 770.25 L255.89 770.17 L256.43 770.09 L256.96 770.01 L257.50 769.62 L258.00 769.63 L258.50 769.75 L259.00 769.83 L259.50 769.86 L260.00 770.17 L260.50 769.51 L261.00 768.98 L261.50 768.79 L262.00 768.50 L262.58 769.01 L263.17 769.59 L263.75 770.08 L264.33 769.73 L264.92 770.00 L265.50 769.44 L266.00 769.38 L266.50 769.90 L267.00 770.41 L267.50 770.37 L268.00 771.35 L268.50 771.26 L269.00 770.78 L269.50 770.69 L270.00 771.39 L270.50 771.32 L271.00 770.88 L271.50 771.08 L272.00 771.27 L272.50 770.92 L273.00 770.87 L273.50 770.39 L274.00 770.05 L274.50 769.95 L275.00 769.34 L275.52 769.40 L276.05 768.85 L276.57 768.32 L277.10 768.59 L277.62 768.36 L278.15 768.06 L278.68 767.86 L279.20 767.30 L279.74 766.72 L280.28 766.46 L280.82 766.30 L281.36 766.24 L281.90 765.72 L282.43 765.16 L282.97 764.24 L283.50 763.16 L284.02 763.03 L284.55 763.21 L285.08 764.04 L285.60 763.69 L286.12 764.58 L286.64 765.28 L287.16 765.86 L287.68 766.58 L288.20 766.50 L288.70 766.81 L289.20 765.99 L289.70 765.53 L290.20 764.81 L290.70 764.70 L291.30 763.39 L291.90 760.82 L292.50 759.60 L293.00 758.35 L293.50 757.44 L294.05 754.43 L294.60 750.44 L295.10 753.97 L295.60 757.76 L296.30 760.58 L297.00 763.46 L297.60 761.98 L298.20 761.59 L298.80 760.14 L299.34 758.83 L299.88 757.53 L300.42 755.33 L300.96 753.99 L301.50 752.28 L302.13 750.05 L302.77 747.70 L303.40 745.50 L304.00 749.05 L304.60 752.74 L305.12 754.83 L305.65 756.76 L306.18 758.90 L306.70 761.70 L307.30 760.80 L307.90 760.75 L308.50 760.26 L309.10 760.16 L309.64 758.80 L310.18 757.56 L310.72 756.87 L311.26 754.92 L311.80 754.20 L312.40 754.95 L313.00 756.82 L313.60 758.27 L314.10 759.65 L314.60 760.79 L315.10 762.74 L315.60 764.08 L316.10 765.91 L316.68 765.61 L317.25 764.78 L317.82 764.11 L318.40 763.61 L318.92 763.26 L319.44 762.24 L319.96 761.66 L320.48 761.02 L321.00 760.31 L321.54 761.85 L322.08 763.00 L322.62 763.82 L323.16 765.56 L323.70 766.96 L324.22 767.32 L324.74 768.19 L325.26 768.60 L325.78 768.47 L326.30 768.85 L326.84 768.89 L327.38 768.96 L327.92 769.25 L328.46 768.97 L329.00 768.99 L329.50 768.89 L330.00 769.57 L330.54 769.32 L331.07 769.91 L331.61 770.02 L332.14 770.27 L332.68 770.03 L333.21 770.47 L333.75 770.33 L334.29 770.25 L334.82 770.31 L335.36 770.73 L335.89 770.76 L336.43 770.72 L336.96 770.78 L337.50 770.90 L338.04 770.42 L338.57 770.66 L339.11 771.08 L339.64 770.74 L340.18 770.84 L340.71 770.82 L341.25 771.23 L341.79 771.59 L342.32 771.01 L342.86 770.85 L343.39 770.93 L343.93 771.40 L344.46 771.41 L345.00 771.35 L345.50 770.48 L346.00 770.63 L346.50 770.29 L347.00 769.85 L347.50 770.12 L348.00 770.60 L348.50 770.59 L349.00 770.85 L349.50 770.42 L350.00 771.11 L350.50 771.29 L351.00 771.14 L351.50 770.84 L352.00 770.88 L352.50 770.97 L353.00 771.06 L353.50 771.29 L354.00 771.71 L354.50 771.89 L355.00 771.93 L355.50 771.57 L356.00 771.52 L356.50 771.32 L357.00 771.67 L357.50 772.17 L358.00 771.61 L358.50 771.55 L359.00 771.78 L359.50 771.66 L360.00 772.40" stroke="#c4c4c4" stroke-width="0.8" fill="none" stroke-linejoin="round"/>
<path d="M243.00 767.10 L243.40 767.25 L243.80 767.81 L244.20 767.64 L244.60 768.84 L245.00 769.20 L245.42 769.16 L245.83 768.66 L246.25 769.36 L246.67 769.29 L247.08 769.37 L247.50 770.55 L247.92 770.81 L248.33 769.67 L248.75 771.00 L249.17 770.56 L249.58 770.17 L250.00 769.95 L250.42 770.41 L250.83 770.02 L251.25 770.26 L251.67 770.14 L252.08 769.32 L252.50 770.12 L252.92 770.34 L253.33 770.24 L253.75 769.66 L254.17 768.58 L254.58 768.25 L255.00 768.15 L255.42 769.01 L255.83 767.84 L256.25 767.65 L256.67 768.11 L257.08 767.02 L257.50 767.07 L257.92 767.08 L258.33 766.72 L258.75 767.62 L259.17 768.15 L259.58 767.35 L260.00 767.61 L260.40 767.38 L260.80 766.35 L261.20 766.50 L261.60 766.18 L262.00 765.59 L262.44 766.36 L262.88 767.62 L263.31 767.45 L263.75 768.84 L264.19 768.14 L264.62 768.02 L265.06 766.90 L265.50 767.39 L265.92 766.94 L266.33 767.53 L266.75 768.93 L267.17 769.63 L267.58 769.41 L268.00 769.88 L268.41 769.69 L268.82 769.78 L269.23 770.30 L269.64 769.73 L270.05 769.69 L270.45 770.21 L270.86 769.85 L271.27 770.57 L271.68 770.86 L272.09 770.84 L272.50 770.47 L272.92 769.62 L273.33 769.08 L273.75 767.81 L274.17 768.13 L274.58 766.93 L275.00 766.25 L275.42 765.54 L275.84 765.73 L276.26 765.44 L276.68 764.96 L277.10 764.86 L277.52 764.38 L277.94 763.77 L278.36 763.55 L278.78 763.40 L279.20 762.81 L279.65 762.41 L280.10 761.66 L280.55 761.44 L281.00 760.98 L281.45 760.49 L281.90 760.06 L282.30 758.70 L282.70 757.22 L283.10 755.74 L283.50 754.11 L283.92 754.59 L284.34 755.20 L284.76 755.21 L285.18 755.32 L285.60 755.62 L286.03 756.89 L286.47 757.58 L286.90 758.57 L287.33 759.55 L287.77 760.71 L288.20 761.98 L288.62 760.99 L289.03 760.28 L289.45 759.56 L289.87 758.90 L290.28 758.17 L290.70 757.63 L291.15 755.07 L291.60 752.31 L292.05 749.51 L292.50 746.98 L293.00 745.53 L293.50 743.51 L294.05 735.90 L294.60 728.47 L295.10 735.65 L295.60 742.78 L296.07 746.62 L296.53 750.62 L297.00 754.29 L297.45 753.02 L297.90 751.66 L298.35 749.91 L298.80 748.70 L299.25 746.07 L299.70 743.62 L300.15 740.60 L300.60 738.53 L301.05 735.90 L301.50 733.46 L301.98 729.89 L302.45 725.93 L302.92 722.57 L303.40 718.70 L303.80 723.72 L304.20 728.67 L304.60 733.03 L305.02 736.60 L305.44 739.92 L305.86 743.47 L306.28 746.96 L306.70 750.37 L307.10 750.53 L307.50 750.12 L307.90 749.53 L308.30 749.34 L308.70 748.96 L309.10 748.51 L309.55 746.39 L310.00 744.46 L310.45 742.33 L310.90 740.10 L311.35 738.09 L311.80 736.17 L312.25 738.07 L312.70 739.74 L313.15 741.86 L313.60 743.91 L314.02 746.64 L314.43 749.25 L314.85 751.66 L315.27 754.59 L315.68 757.14 L316.10 759.85 L316.56 759.12 L317.02 758.40 L317.48 757.73 L317.94 756.81 L318.40 755.78 L318.83 754.78 L319.27 753.44 L319.70 752.20 L320.13 750.83 L320.57 749.70 L321.00 748.41 L321.45 750.83 L321.90 752.89 L322.35 755.07 L322.80 757.29 L323.25 759.49 L323.70 761.81 L324.13 762.62 L324.57 763.47 L325.00 764.05 L325.43 765.06 L325.87 765.96 L326.30 767.19 L326.75 766.63 L327.20 765.53 L327.65 766.14 L328.10 765.96 L328.55 765.31 L329.00 765.30 L329.50 765.95 L330.00 767.34 L330.42 767.35 L330.83 767.08 L331.25 767.14 L331.67 767.31 L332.08 767.41 L332.50 768.57 L332.92 768.97 L333.33 768.16 L333.75 769.09 L334.17 769.46 L334.58 768.49 L335.00 769.10 L335.42 769.00 L335.83 769.83 L336.25 769.77 L336.67 768.66 L337.08 769.00 L337.50 769.99 L337.92 769.72 L338.33 769.75 L338.75 770.27 L339.17 770.31 L339.58 770.69 L340.00 769.92 L340.42 769.64 L340.83 770.66 L341.25 769.87 L341.67 770.54 L342.08 770.89 L342.50 770.19 L342.92 770.42 L343.33 769.76 L343.75 769.69 L344.17 770.26 L344.58 770.57 L345.00 770.70 L345.42 769.01 L345.83 769.92 L346.25 769.02 L346.67 768.46 L347.08 768.19 L347.50 768.11 L347.92 768.12 L348.33 768.17 L348.75 769.51 L349.17 769.62 L349.58 769.82 L350.00 770.31 L350.42 770.78 L350.83 769.75 L351.25 770.77 L351.67 770.87 L352.08 770.30 L352.50 770.71 L352.92 770.67 L353.33 770.41 L353.75 770.84 L354.17 770.56 L354.58 771.75 L355.00 770.81 L355.42 771.50 L355.83 771.47 L356.25 772.10 L356.67 771.91 L357.08 771.37 L357.50 771.45 L357.92 771.06 L358.33 771.12 L358.75 771.55 L359.17 772.50 L359.58 771.31 L360.00 771.55" stroke="#1a1a1a" stroke-width="1.0" fill="none" stroke-linejoin="round"/>
<rect x="232.7" y="792.0" width="133.50" height="65.30" fill="none" stroke="#b8b8b8" stroke-width="1.1"/>
<path d="M243.00 849.42 L243.54 849.31 L244.08 849.28 L244.62 849.58 L245.17 849.01 L245.71 848.94 L246.25 849.29 L246.79 848.74 L247.32 849.16 L247.86 849.42 L248.39 849.05 L248.93 848.92 L249.46 848.96 L250.00 849.63 L250.54 849.21 L251.07 848.86 L251.61 848.72 L252.14 849.34 L252.68 849.16 L253.21 849.25 L253.75 848.85 L254.25 848.97 L254.75 848.78 L255.25 848.57 L255.75 848.30 L256.25 848.26 L256.75 848.24 L257.25 848.39 L257.75 848.45 L258.25 848.31 L258.75 848.54 L259.29 848.47 L259.82 848.58 L260.36 848.75 L260.89 847.97 L261.43 848.11 L261.96 848.49 L262.50 847.80 L263.04 847.81 L263.57 848.54 L264.11 848.28 L264.64 848.12 L265.18 848.20 L265.71 849.05 L266.25 848.89 L266.79 848.38 L267.32 848.96 L267.86 848.51 L268.39 848.61 L268.93 848.34 L269.46 847.82 L270.00 848.12 L270.54 847.82 L271.07 848.30 L271.61 847.78 L272.14 847.50 L272.68 848.01 L273.21 847.21 L273.75 847.19 L274.29 847.71 L274.82 847.31 L275.36 847.46 L275.89 847.58 L276.43 848.34 L276.96 848.42 L277.50 848.45 L278.04 848.35 L278.57 848.20 L279.11 848.34 L279.64 848.46 L280.18 848.18 L280.71 848.97 L281.25 848.36 L281.79 848.59 L282.32 848.81 L282.86 848.36 L283.39 848.70 L283.93 848.23 L284.46 848.17 L285.00 847.92 L285.50 847.64 L286.00 847.06 L286.50 847.49 L287.00 847.16 L287.50 846.27 L288.00 846.46 L288.50 846.17 L289.00 846.20 L289.50 845.67 L290.00 845.47 L290.50 845.28 L291.00 845.50 L291.50 845.47 L292.00 844.61 L292.50 844.55 L293.00 844.55 L293.50 844.48 L294.00 844.05 L294.50 843.90 L295.00 844.00 L295.50 844.69 L296.00 844.79 L296.50 845.46 L297.00 846.13 L297.50 846.42 L298.00 846.03 L298.50 846.23 L299.00 846.45 L299.50 846.77 L300.00 846.66 L300.50 846.13 L301.04 846.66 L301.58 846.52 L302.12 846.58 L302.67 845.93 L303.21 846.44 L303.75 846.30 L304.29 845.88 L304.82 846.60 L305.36 846.49 L305.89 847.15 L306.43 847.22 L306.96 847.68 L307.50 847.76 L308.04 847.07 L308.57 847.05 L309.11 847.25 L309.64 847.01 L310.18 846.94 L310.71 847.13 L311.25 847.00 L311.79 847.82 L312.32 848.00 L312.86 847.58 L313.39 848.34 L313.93 848.24 L314.46 848.56 L315.00 848.69 L315.50 848.14 L316.00 848.30 L316.50 848.31 L317.00 847.96 L317.50 848.06 L318.00 848.34 L318.50 848.00 L319.00 847.95 L319.50 848.26 L320.00 848.29 L320.50 847.75 L321.00 848.12 L321.50 848.43 L322.00 848.47 L322.50 848.56 L323.00 848.96 L323.50 849.29 L324.00 849.23 L324.50 848.92 L325.00 849.32 L325.50 849.69 L326.00 849.18 L326.50 849.86 L327.00 849.43 L327.50 849.31 L328.00 849.66 L328.50 849.58 L329.00 849.88 L329.50 850.15 L330.00 850.11 L330.54 849.98 L331.07 849.86 L331.61 849.36 L332.14 849.68 L332.68 849.15 L333.21 848.80 L333.75 849.41 L334.29 848.58 L334.82 849.13 L335.36 848.85 L335.89 848.66 L336.43 848.46 L336.96 848.21 L337.50 848.48 L338.00 848.15 L338.50 848.20 L339.00 848.69 L339.50 848.93 L340.00 848.60 L340.50 848.14 L341.00 848.45 L341.50 848.14 L342.00 847.91 L342.50 847.88 L343.04 847.74 L343.57 848.46 L344.11 848.12 L344.64 848.34 L345.18 849.03 L345.71 848.73 L346.25 848.73 L346.75 848.91 L347.25 848.62 L347.75 848.28 L348.25 847.95 L348.75 847.88 L349.29 848.61 L349.82 847.99 L350.36 848.18 L350.89 848.77 L351.43 848.38 L351.96 849.26 L352.50 848.72 L353.02 849.06 L353.54 849.08 L354.06 849.11 L354.58 848.94 L355.10 849.52 L355.62 849.24 L356.15 849.09 L356.67 849.08 L357.19 848.98 L357.71 849.16 L358.23 849.29 L358.75 849.73" stroke="#c4c4c4" stroke-width="0.8" fill="none" stroke-linejoin="round"/>
<path d="M243.00 849.43 L243.41 849.40 L243.81 849.72 L244.22 848.89 L244.62 848.76 L245.03 848.68 L245.44 847.93 L245.84 848.20 L246.25 848.18 L246.67 848.49 L247.08 847.60 L247.50 847.97 L247.92 847.76 L248.33 848.85 L248.75 848.77 L249.17 847.94 L249.58 849.34 L250.00 849.40 L250.42 848.83 L250.83 848.63 L251.25 847.85 L251.67 847.52 L252.08 848.10 L252.50 847.30 L252.92 847.34 L253.33 847.28 L253.75 846.84 L254.17 847.41 L254.58 847.33 L255.00 847.85 L255.42 847.36 L255.83 847.49 L256.25 847.25 L256.67 847.44 L257.08 847.11 L257.50 846.81 L257.92 847.78 L258.33 847.74 L258.75 847.48 L259.17 847.21 L259.58 846.57 L260.00 846.37 L260.42 846.37 L260.83 845.98 L261.25 846.87 L261.67 846.28 L262.08 846.82 L262.50 846.09 L262.92 847.03 L263.33 847.01 L263.75 845.97 L264.17 846.40 L264.58 847.52 L265.00 847.04 L265.42 847.89 L265.83 847.22 L266.25 846.90 L266.67 847.54 L267.08 847.61 L267.50 846.76 L267.92 846.37 L268.33 846.57 L268.75 847.32 L269.17 846.89 L269.58 845.85 L270.00 845.89 L270.42 845.55 L270.83 845.36 L271.25 846.25 L271.67 845.24 L272.08 845.64 L272.50 845.34 L272.92 844.84 L273.33 845.46 L273.75 844.48 L274.17 845.34 L274.58 844.74 L275.00 845.31 L275.42 845.15 L275.83 845.37 L276.25 846.49 L276.67 846.40 L277.08 845.84 L277.50 846.79 L277.92 845.98 L278.33 846.38 L278.75 847.16 L279.17 847.00 L279.58 846.38 L280.00 847.77 L280.42 846.82 L280.83 847.02 L281.25 847.88 L281.67 847.12 L282.08 846.94 L282.50 846.49 L282.92 846.37 L283.33 846.92 L283.75 846.31 L284.17 846.67 L284.58 846.21 L285.00 846.18 L285.42 846.35 L285.83 845.14 L286.25 844.73 L286.67 844.60 L287.08 843.36 L287.50 842.81 L287.93 842.98 L288.36 842.68 L288.79 842.11 L289.21 841.83 L289.64 841.88 L290.07 841.75 L290.50 841.08 L290.90 841.15 L291.30 840.76 L291.70 840.26 L292.10 839.81 L292.50 839.28 L292.92 838.99 L293.33 839.26 L293.75 838.60 L294.17 838.61 L294.58 838.11 L295.00 838.18 L295.42 838.80 L295.83 839.38 L296.25 840.07 L296.67 841.12 L297.08 841.51 L297.50 842.35 L297.93 842.60 L298.36 842.84 L298.79 842.78 L299.21 842.66 L299.64 843.09 L300.07 842.76 L300.50 842.73 L300.91 842.75 L301.31 842.72 L301.72 842.38 L302.12 842.32 L302.53 842.30 L302.94 842.29 L303.34 841.92 L303.75 841.92 L304.17 842.55 L304.58 842.94 L305.00 843.09 L305.42 843.44 L305.83 843.71 L306.25 843.80 L306.67 843.68 L307.08 843.99 L307.50 845.57 L307.92 845.23 L308.33 845.54 L308.75 844.16 L309.17 844.97 L309.58 844.70 L310.00 844.99 L310.42 844.36 L310.83 845.25 L311.25 843.91 L311.67 844.84 L312.08 845.39 L312.50 845.89 L312.92 845.94 L313.33 846.17 L313.75 846.58 L314.17 847.03 L314.58 846.51 L315.00 847.26 L315.42 847.46 L315.83 847.31 L316.25 846.57 L316.67 846.99 L317.08 846.99 L317.50 846.48 L317.92 846.45 L318.33 846.00 L318.75 846.18 L319.17 846.11 L319.58 845.27 L320.00 845.95 L320.42 846.69 L320.83 846.78 L321.25 846.82 L321.67 846.59 L322.08 847.33 L322.50 847.36 L322.92 847.42 L323.33 848.22 L323.75 847.42 L324.17 848.60 L324.58 847.84 L325.00 848.89 L325.42 848.83 L325.83 848.58 L326.25 849.34 L326.67 849.16 L327.08 849.43 L327.50 849.96 L327.92 849.14 L328.33 848.90 L328.75 849.41 L329.17 850.04 L329.58 849.48 L330.00 849.54 L330.42 850.35 L330.83 849.78 L331.25 849.25 L331.67 849.66 L332.08 848.65 L332.50 848.90 L332.92 848.02 L333.33 848.13 L333.75 848.43 L334.17 848.39 L334.58 848.14 L335.00 847.25 L335.42 847.34 L335.83 846.77 L336.25 846.32 L336.67 846.63 L337.08 846.92 L337.50 846.74 L337.92 846.75 L338.33 847.30 L338.75 846.56 L339.17 846.62 L339.58 847.22 L340.00 847.19 L340.42 846.77 L340.83 846.71 L341.25 846.68 L341.67 846.16 L342.08 845.57 L342.50 845.97 L342.92 846.45 L343.33 845.99 L343.75 845.74 L344.17 845.96 L344.58 847.41 L345.00 846.52 L345.42 847.74 L345.83 847.82 L346.25 847.73 L346.67 848.12 L347.08 846.74 L347.50 846.62 L347.92 846.77 L348.33 845.88 L348.75 846.71 L349.17 846.08 L349.58 846.14 L350.00 846.20 L350.42 847.21 L350.83 847.15 L351.25 847.60 L351.67 847.83 L352.08 848.24 L352.50 848.64 L352.92 848.31 L353.33 847.68 L353.75 848.12 L354.17 847.75 L354.58 847.57 L355.00 848.26 L355.42 848.65 L355.83 847.95 L356.25 848.13 L356.67 848.28 L357.08 848.83 L357.50 848.63 L357.92 848.81 L358.33 849.06 L358.75 848.60" stroke="#1a1a1a" stroke-width="1.0" fill="none" stroke-linejoin="round"/>
<rect x="232.7" y="869.5" width="133.50" height="65.50" fill="none" stroke="#b8b8b8" stroke-width="1.1"/>
<path d="M243.00 925.85 L243.50 926.28 L244.00 926.27 L244.50 926.43 L245.00 926.94 L245.50 926.59 L246.00 926.47 L246.50 926.62 L247.00 926.50 L247.50 927.21 L248.00 927.00 L248.50 926.92 L249.00 927.02 L249.50 927.18 L250.00 927.33 L250.50 926.80 L251.00 927.28 L251.50 926.66 L252.00 927.30 L252.50 927.14 L253.00 926.52 L253.50 926.49 L254.00 926.53 L254.50 926.88 L255.00 926.58 L255.50 926.54 L256.00 926.56 L256.50 926.00 L257.00 926.61 L257.50 926.54 L258.00 926.48 L258.50 926.21 L259.00 926.46 L259.50 926.27 L260.00 926.18 L260.50 926.64 L261.00 926.01 L261.50 925.97 L262.00 926.23 L262.50 925.90 L263.04 925.82 L263.57 925.98 L264.11 926.36 L264.64 926.09 L265.18 925.61 L265.71 926.11 L266.25 926.12 L266.75 925.84 L267.25 925.38 L267.75 924.92 L268.25 925.08 L268.75 924.41 L269.29 925.25 L269.82 925.23 L270.36 925.58 L270.89 925.57 L271.43 925.77 L271.96 925.69 L272.50 925.64 L273.04 925.41 L273.57 925.89 L274.11 925.36 L274.64 925.81 L275.18 925.71 L275.71 925.65 L276.25 925.58 L276.75 925.08 L277.25 925.50 L277.75 925.63 L278.25 925.22 L278.75 925.75 L279.25 925.56 L279.75 925.24 L280.25 925.45 L280.75 925.35 L281.25 925.61 L281.79 925.73 L282.32 925.93 L282.86 925.32 L283.39 925.56 L283.93 925.46 L284.46 925.62 L285.00 924.87 L285.54 924.81 L286.07 924.97 L286.61 924.71 L287.14 924.84 L287.68 924.37 L288.21 924.86 L288.75 924.14 L289.25 924.34 L289.75 924.59 L290.25 924.98 L290.75 924.52 L291.25 925.10 L291.79 924.54 L292.32 924.62 L292.86 924.53 L293.39 924.13 L293.93 923.85 L294.46 924.08 L295.00 924.16 L295.54 923.97 L296.07 923.88 L296.61 924.37 L297.14 924.58 L297.68 924.74 L298.21 924.69 L298.75 924.82 L299.29 925.11 L299.82 925.16 L300.36 924.90 L300.89 924.56 L301.43 924.36 L301.96 924.97 L302.50 925.09 L303.04 924.87 L303.57 924.51 L304.11 924.83 L304.64 925.15 L305.18 924.93 L305.71 925.59 L306.25 925.35 L306.79 925.19 L307.32 925.46 L307.86 924.99 L308.39 925.16 L308.93 925.21 L309.46 924.90 L310.00 924.73 L310.50 924.93 L311.00 924.90 L311.50 924.28 L312.00 924.07 L312.50 924.36 L313.00 924.28 L313.50 924.69 L314.00 925.04 L314.50 925.59 L315.00 926.37 L315.54 926.39 L316.07 926.30 L316.61 926.17 L317.14 925.82 L317.68 926.53 L318.21 926.01 L318.75 926.55 L319.29 926.24 L319.82 926.70 L320.36 926.54 L320.89 926.60 L321.43 926.35 L321.96 926.75 L322.50 926.39 L323.00 926.41 L323.50 926.77 L324.00 926.50 L324.50 926.48 L325.00 927.15 L325.50 926.82 L326.00 927.05 L326.50 926.61 L327.00 927.41 L327.50 927.21 L328.00 926.97 L328.50 927.45 L329.00 927.50 L329.50 927.57 L330.00 927.44 L330.50 927.07 L331.00 926.81 L331.50 927.36 L332.00 927.01 L332.50 927.07 L333.00 927.42 L333.50 927.14 L334.00 927.01 L334.50 927.12 L335.00 927.11 L335.50 927.10 L336.00 926.87 L336.50 926.69 L337.00 927.18 L337.50 926.72 L338.00 926.63 L338.50 927.17 L339.00 926.61 L339.50 926.54 L340.00 926.75 L340.50 927.13 L341.00 926.78 L341.50 926.98 L342.00 926.81 L342.50 926.43 L343.04 926.41 L343.57 926.07 L344.11 925.87 L344.64 926.33 L345.18 925.60 L345.71 925.17 L346.25 925.29 L346.75 925.47 L347.25 926.24 L347.75 926.52 L348.25 926.62 L348.75 926.56 L349.25 926.32 L349.75 926.94 L350.25 926.99 L350.75 926.43 L351.25 927.02 L351.75 926.50 L352.25 926.77 L352.75 926.94 L353.25 926.91 L353.75 927.29 L354.25 927.38 L354.75 926.95 L355.25 927.07 L355.75 927.60 L356.25 927.06 L356.75 927.35 L357.25 927.38 L357.75 927.74 L358.25 927.31 L358.75 927.67" stroke="#c4c4c4" stroke-width="0.8" fill="none" stroke-linejoin="round"/>
<path d="M243.00 924.96 L243.41 925.36 L243.82 925.51 L244.23 924.91 L244.64 924.86 L245.05 925.51 L245.45 925.50 L245.86 926.39 L246.27 926.36 L246.68 926.37 L247.09 926.45 L247.50 926.73 L247.92 926.00 L248.33 926.42 L248.75 926.03 L249.17 927.07 L249.58 925.88 L250.00 926.95 L250.42 925.90 L250.83 926.76 L251.25 926.27 L251.67 926.37 L252.08 926.98 L252.50 925.83 L252.92 925.76 L253.33 926.83 L253.75 926.14 L254.17 925.43 L254.58 926.56 L255.00 926.38 L255.42 925.08 L255.83 925.39 L256.25 924.86 L256.67 924.99 L257.08 925.30 L257.50 924.53 L257.92 925.28 L258.33 924.37 L258.75 924.54 L259.17 925.44 L259.58 924.86 L260.00 924.89 L260.42 925.13 L260.83 924.97 L261.25 924.84 L261.67 924.34 L262.08 925.32 L262.50 925.65 L262.92 925.56 L263.33 925.01 L263.75 924.47 L264.17 924.36 L264.58 924.71 L265.00 924.58 L265.42 923.68 L265.83 923.74 L266.25 923.81 L266.67 923.68 L267.08 923.77 L267.50 923.00 L267.92 922.01 L268.33 922.78 L268.75 921.90 L269.17 922.25 L269.58 922.06 L270.00 922.56 L270.42 922.73 L270.83 923.49 L271.25 922.78 L271.67 923.63 L272.08 923.33 L272.50 924.27 L272.92 923.24 L273.33 923.46 L273.75 923.45 L274.17 923.75 L274.58 922.82 L275.00 923.28 L275.42 922.81 L275.83 922.81 L276.25 922.97 L276.67 923.73 L277.08 923.14 L277.50 923.89 L277.92 922.87 L278.33 924.01 L278.75 923.31 L279.17 923.15 L279.58 924.01 L280.00 924.33 L280.42 923.14 L280.83 923.59 L281.25 924.38 L281.67 923.67 L282.08 923.42 L282.50 922.98 L282.92 922.91 L283.33 923.61 L283.75 924.01 L284.17 923.92 L284.58 923.12 L285.00 922.33 L285.42 922.58 L285.83 923.07 L286.25 922.96 L286.67 922.53 L287.08 921.79 L287.50 922.04 L287.92 921.80 L288.33 921.84 L288.75 921.37 L289.17 922.21 L289.58 922.22 L290.00 921.28 L290.42 921.54 L290.83 922.44 L291.25 921.69 L291.67 922.40 L292.08 921.58 L292.50 921.44 L292.92 921.23 L293.33 920.73 L293.75 920.55 L294.17 920.31 L294.58 920.32 L295.00 920.11 L295.42 920.02 L295.83 920.66 L296.25 920.62 L296.67 920.74 L297.08 921.07 L297.50 921.60 L297.92 921.64 L298.33 921.95 L298.75 922.59 L299.17 922.65 L299.58 922.36 L300.00 921.88 L300.42 922.12 L300.83 922.56 L301.25 922.40 L301.67 922.11 L302.08 921.79 L302.50 921.82 L302.92 922.44 L303.33 922.31 L303.75 921.66 L304.17 922.74 L304.58 923.12 L305.00 923.08 L305.42 923.33 L305.83 923.46 L306.25 923.05 L306.67 923.29 L307.08 922.61 L307.50 922.10 L307.92 922.35 L308.33 922.18 L308.75 922.94 L309.17 922.49 L309.58 922.17 L310.00 922.17 L310.42 921.27 L310.83 921.63 L311.25 921.49 L311.67 921.11 L312.08 920.82 L312.50 920.70 L312.92 921.28 L313.33 922.26 L313.75 922.12 L314.17 922.68 L314.58 923.61 L315.00 924.77 L315.42 924.92 L315.83 924.83 L316.25 925.28 L316.67 924.53 L317.08 924.12 L317.50 924.82 L317.92 924.81 L318.33 924.50 L318.75 925.23 L319.17 924.89 L319.58 924.86 L320.00 925.09 L320.42 926.07 L320.83 924.87 L321.25 925.47 L321.67 925.47 L322.08 925.47 L322.50 925.91 L322.92 925.66 L323.33 926.70 L323.75 926.17 L324.17 926.50 L324.58 925.81 L325.00 926.28 L325.42 926.54 L325.83 926.92 L326.25 926.15 L326.67 926.50 L327.08 927.11 L327.50 927.13 L327.92 926.34 L328.33 926.83 L328.75 927.20 L329.17 926.74 L329.58 927.19 L330.00 927.23 L330.42 927.63 L330.83 927.02 L331.25 927.17 L331.67 926.68 L332.08 927.19 L332.50 926.58 L332.92 926.81 L333.33 926.58 L333.75 926.48 L334.17 926.21 L334.58 926.31 L335.00 926.73 L335.42 926.29 L335.83 925.98 L336.25 927.01 L336.67 926.26 L337.08 927.14 L337.50 926.64 L337.92 926.28 L338.33 926.90 L338.75 926.87 L339.17 926.00 L339.58 925.66 L340.00 926.32 L340.42 926.54 L340.83 926.15 L341.25 926.34 L341.67 925.75 L342.08 925.98 L342.50 925.42 L342.92 925.34 L343.33 925.03 L343.75 924.76 L344.17 924.50 L344.58 924.79 L345.00 923.62 L345.42 923.39 L345.83 923.18 L346.25 923.91 L346.67 923.70 L347.08 923.46 L347.50 924.97 L347.92 925.44 L348.33 925.78 L348.75 925.55 L349.17 926.14 L349.58 925.60 L350.00 925.43 L350.42 926.51 L350.83 926.53 L351.25 925.72 L351.67 926.72 L352.08 925.58 L352.50 926.04 L352.92 925.69 L353.33 925.98 L353.75 926.03 L354.17 926.89 L354.58 926.38 L355.00 926.32 L355.42 926.39 L355.83 926.65 L356.25 927.51 L356.67 927.23 L357.08 926.61 L357.50 927.51 L357.92 927.38 L358.33 927.34 L358.75 927.54" stroke="#1a1a1a" stroke-width="1.0" fill="none" stroke-linejoin="round"/>
<rect x="232.7" y="947.2" width="133.50" height="65.30" fill="none" stroke="#b8b8b8" stroke-width="1.1"/>
<path d="M243.00 1004.59 L243.50 1004.69 L244.00 1005.10 L244.50 1005.14 L245.00 1005.08 L245.50 1004.82 L246.00 1005.38 L246.50 1004.58 L247.00 1005.18 L247.50 1005.23 L248.00 1005.16 L248.50 1005.37 L249.00 1005.04 L249.50 1005.01 L250.00 1005.39 L250.50 1004.76 L251.00 1005.04 L251.50 1004.77 L252.00 1004.20 L252.50 1004.00 L253.00 1003.89 L253.50 1003.89 L254.00 1003.63 L254.50 1003.66 L255.00 1003.82 L255.54 1003.85 L256.07 1004.07 L256.61 1003.66 L257.14 1004.33 L257.68 1004.02 L258.21 1004.16 L258.75 1004.04 L259.29 1004.50 L259.82 1003.90 L260.36 1004.15 L260.89 1003.35 L261.43 1003.54 L261.96 1003.17 L262.50 1003.79 L263.04 1003.09 L263.57 1003.75 L264.11 1003.48 L264.64 1003.42 L265.18 1003.99 L265.71 1003.80 L266.25 1004.02 L266.75 1003.73 L267.25 1003.80 L267.75 1003.75 L268.25 1003.20 L268.75 1003.61 L269.25 1003.47 L269.75 1003.35 L270.25 1003.30 L270.75 1003.47 L271.25 1003.23 L271.75 1003.65 L272.25 1003.74 L272.75 1003.50 L273.25 1003.84 L273.75 1003.50 L274.25 1003.55 L274.75 1003.78 L275.25 1003.89 L275.75 1003.80 L276.25 1003.85 L276.75 1003.59 L277.25 1003.85 L277.75 1004.24 L278.25 1004.28 L278.75 1004.01 L279.25 1003.74 L279.75 1004.07 L280.25 1004.20 L280.75 1004.15 L281.25 1003.86 L281.75 1003.67 L282.25 1003.36 L282.75 1003.44 L283.25 1003.21 L283.75 1003.78 L284.25 1003.21 L284.75 1003.17 L285.25 1003.57 L285.75 1003.51 L286.25 1003.66 L286.79 1003.19 L287.32 1003.36 L287.86 1003.21 L288.39 1002.98 L288.93 1002.91 L289.46 1002.61 L290.00 1002.39 L290.54 1003.23 L291.07 1003.02 L291.61 1002.66 L292.14 1003.08 L292.68 1003.40 L293.21 1003.34 L293.75 1003.50 L294.29 1003.64 L294.82 1003.51 L295.36 1003.49 L295.89 1003.23 L296.43 1003.21 L296.96 1003.41 L297.50 1003.48 L298.04 1003.80 L298.57 1003.40 L299.11 1003.02 L299.64 1003.40 L300.18 1003.33 L300.71 1003.06 L301.25 1003.32 L301.79 1003.34 L302.32 1003.24 L302.86 1003.62 L303.39 1003.37 L303.93 1003.30 L304.46 1004.27 L305.00 1003.74 L305.50 1003.62 L306.00 1004.26 L306.50 1003.45 L307.00 1004.10 L307.50 1003.75 L308.00 1003.58 L308.50 1003.42 L309.00 1003.39 L309.50 1003.90 L310.00 1003.88 L310.50 1003.59 L311.00 1003.64 L311.50 1003.64 L312.00 1004.34 L312.50 1004.11 L313.00 1004.44 L313.50 1004.63 L314.00 1004.42 L314.50 1004.67 L315.00 1004.80 L315.52 1004.84 L316.04 1005.13 L316.56 1004.54 L317.08 1004.49 L317.60 1004.54 L318.12 1004.55 L318.65 1005.09 L319.17 1005.09 L319.69 1005.47 L320.21 1005.48 L320.73 1004.97 L321.25 1005.46 L321.77 1004.81 L322.29 1004.86 L322.81 1005.46 L323.33 1005.42 L323.85 1005.44 L324.38 1004.72 L324.90 1004.73 L325.42 1005.12 L325.94 1005.48 L326.46 1004.63 L326.98 1004.63 L327.50 1004.86 L328.02 1004.69 L328.54 1004.79 L329.06 1005.34 L329.58 1005.07 L330.10 1005.16 L330.62 1004.78 L331.15 1004.99 L331.67 1005.12 L332.19 1004.93 L332.71 1005.27 L333.23 1005.34 L333.75 1005.59 L334.25 1005.19 L334.75 1005.08 L335.25 1004.83 L335.75 1004.66 L336.25 1003.92 L336.75 1004.32 L337.25 1003.97 L337.75 1003.86 L338.25 1003.44 L338.75 1003.74 L339.25 1003.27 L339.75 1003.47 L340.25 1004.47 L340.75 1004.43 L341.25 1004.43 L341.79 1004.30 L342.32 1004.17 L342.86 1003.84 L343.39 1003.75 L343.93 1003.35 L344.46 1002.76 L345.00 1002.64 L345.50 1002.75 L346.00 1003.16 L346.50 1003.25 L347.00 1004.19 L347.50 1004.33 L348.04 1004.13 L348.57 1004.59 L349.11 1004.03 L349.64 1004.27 L350.18 1004.39 L350.71 1004.63 L351.25 1004.69 L351.75 1005.04 L352.25 1004.60 L352.75 1004.69 L353.25 1004.62 L353.75 1004.74 L354.25 1004.87 L354.75 1004.72 L355.25 1005.47 L355.75 1005.02 L356.25 1005.03 L356.75 1005.25 L357.25 1005.14 L357.75 1005.79 L358.25 1005.44 L358.75 1005.38" stroke="#c4c4c4" stroke-width="0.8" fill="none" stroke-linejoin="round"/>
<path d="M243.00 1004.16 L243.41 1004.76 L243.82 1004.76 L244.24 1004.99 L244.65 1004.06 L245.06 1004.12 L245.47 1004.01 L245.88 1004.12 L246.29 1004.83 L246.71 1003.98 L247.12 1004.54 L247.53 1004.10 L247.94 1004.21 L248.35 1004.40 L248.76 1004.97 L249.18 1004.65 L249.59 1003.82 L250.00 1004.19 L250.42 1003.80 L250.83 1004.60 L251.25 1004.31 L251.67 1004.10 L252.08 1003.92 L252.50 1003.59 L252.92 1003.67 L253.33 1003.24 L253.75 1002.28 L254.17 1002.91 L254.58 1002.19 L255.00 1002.36 L255.42 1002.20 L255.83 1002.12 L256.25 1002.14 L256.67 1002.35 L257.08 1002.29 L257.50 1002.13 L257.92 1003.23 L258.33 1003.31 L258.75 1003.68 L259.17 1003.07 L259.58 1002.69 L260.00 1002.76 L260.42 1001.71 L260.83 1002.28 L261.25 1001.75 L261.67 1001.19 L262.08 1001.03 L262.50 1001.28 L262.92 1000.99 L263.33 1001.36 L263.75 1001.65 L264.17 1001.44 L264.58 1001.15 L265.00 1001.74 L265.42 1001.46 L265.83 1001.55 L266.25 1001.57 L266.67 1001.73 L267.08 1001.24 L267.50 1001.96 L267.92 1002.30 L268.33 1001.43 L268.75 1001.81 L269.17 1002.02 L269.58 1000.69 L270.00 1000.75 L270.42 1001.60 L270.83 1001.56 L271.25 1001.19 L271.67 1000.65 L272.08 1001.13 L272.50 1001.89 L272.92 1002.04 L273.33 1002.05 L273.75 1001.33 L274.17 1002.37 L274.58 1001.82 L275.00 1002.43 L275.42 1001.74 L275.83 1003.03 L276.25 1002.64 L276.67 1002.77 L277.08 1002.01 L277.50 1002.54 L277.92 1002.45 L278.33 1002.42 L278.75 1002.05 L279.17 1002.53 L279.58 1001.94 L280.00 1001.84 L280.42 1001.61 L280.83 1002.30 L281.25 1001.46 L281.67 1001.55 L282.08 1001.27 L282.50 1002.01 L282.92 1001.83 L283.33 1001.75 L283.75 1000.98 L284.17 1001.48 L284.58 1001.28 L285.00 1000.87 L285.42 1000.68 L285.83 1002.01 L286.25 1000.72 L286.67 1000.83 L287.08 1000.65 L287.50 1000.97 L287.92 1000.10 L288.33 1000.51 L288.75 1000.23 L289.17 1000.75 L289.58 999.45 L290.00 999.77 L290.42 1000.11 L290.83 1000.88 L291.25 1000.36 L291.67 1000.41 L292.08 1000.79 L292.50 1000.38 L292.92 1000.12 L293.33 1000.89 L293.75 1001.57 L294.17 1001.44 L294.58 1000.88 L295.00 1001.59 L295.42 1001.93 L295.83 1001.22 L296.25 1001.79 L296.67 1001.58 L297.08 1001.53 L297.50 1001.70 L297.92 1001.42 L298.33 1001.46 L298.75 1000.85 L299.17 1001.19 L299.58 1000.59 L300.00 1001.36 L300.42 1000.97 L300.83 999.97 L301.25 1000.88 L301.67 1000.29 L302.08 1000.92 L302.50 1001.24 L302.92 1001.15 L303.33 1001.32 L303.75 1001.74 L304.17 1001.55 L304.58 1002.79 L305.00 1001.96 L305.42 1002.87 L305.83 1001.94 L306.25 1001.97 L306.67 1002.01 L307.08 1001.43 L307.50 1001.48 L307.92 1001.72 L308.33 1001.75 L308.75 1002.28 L309.17 1002.35 L309.58 1000.94 L310.00 1001.55 L310.42 1001.17 L310.83 1002.30 L311.25 1001.81 L311.67 1002.80 L312.08 1002.50 L312.50 1002.10 L312.92 1002.12 L313.33 1002.65 L313.75 1003.70 L314.17 1002.88 L314.58 1003.53 L315.00 1003.57 L315.42 1003.62 L315.83 1004.34 L316.25 1003.60 L316.67 1004.39 L317.08 1004.40 L317.50 1004.86 L317.92 1004.36 L318.33 1005.01 L318.75 1004.42 L319.17 1004.69 L319.58 1004.84 L320.00 1005.23 L320.42 1005.39 L320.83 1004.38 L321.25 1004.49 L321.67 1005.01 L322.08 1005.37 L322.50 1004.95 L322.92 1004.59 L323.33 1005.48 L323.75 1004.52 L324.17 1004.19 L324.58 1004.11 L325.00 1004.04 L325.42 1004.98 L325.83 1004.08 L326.25 1004.90 L326.67 1005.08 L327.08 1005.23 L327.50 1004.93 L327.92 1004.43 L328.33 1004.74 L328.75 1005.07 L329.17 1004.94 L329.58 1004.37 L330.00 1005.07 L330.42 1004.19 L330.83 1004.50 L331.25 1005.49 L331.67 1004.79 L332.08 1004.54 L332.50 1005.30 L332.92 1004.86 L333.33 1004.27 L333.75 1004.34 L334.17 1004.35 L334.58 1004.14 L335.00 1004.67 L335.42 1003.40 L335.83 1003.93 L336.25 1003.62 L336.67 1002.70 L337.08 1003.19 L337.50 1002.55 L337.92 1001.85 L338.33 1001.23 L338.75 1001.20 L339.17 1002.23 L339.58 1002.13 L340.00 1002.07 L340.42 1002.74 L340.83 1003.30 L341.25 1003.32 L341.67 1003.44 L342.08 1002.26 L342.50 1002.95 L342.92 1001.63 L343.33 1001.11 L343.75 1001.37 L344.17 1000.56 L344.58 1000.96 L345.00 1000.00 L345.42 1000.53 L345.83 1001.47 L346.25 1001.10 L346.67 1002.34 L347.08 1002.71 L347.50 1002.90 L347.92 1003.73 L348.33 1002.50 L348.75 1003.76 L349.17 1002.83 L349.58 1003.89 L350.00 1003.02 L350.42 1002.96 L350.83 1003.67 L351.25 1004.35 L351.67 1003.51 L352.08 1003.93 L352.50 1004.19 L352.92 1003.78 L353.33 1004.28 L353.75 1003.65 L354.17 1004.36 L354.58 1004.89 L355.00 1004.40 L355.42 1004.33 L355.83 1004.19 L356.25 1005.20 L356.67 1004.91 L357.08 1005.69 L357.50 1005.55 L357.92 1004.75 L358.33 1005.98 L358.75 1006.10" stroke="#1a1a1a" stroke-width="1.0" fill="none" stroke-linejoin="round"/>
<rect x="375.4" y="714.3" width="140.80" height="65.40" fill="none" stroke="#b8b8b8" stroke-width="1.1"/>
<path d="M387.50 772.66 L388.00 771.86 L388.50 772.52 L389.00 772.12 L389.50 771.88 L390.00 772.11 L390.50 772.37 L391.00 772.46 L391.50 771.90 L392.00 772.03 L392.50 772.17 L393.00 772.47 L393.50 772.46 L394.00 771.71 L394.50 771.87 L395.00 771.76 L395.50 771.85 L396.00 771.64 L396.50 771.85 L397.00 772.17 L397.50 771.90 L398.00 771.37 L398.50 771.81 L399.00 771.83 L399.50 771.35 L400.00 771.80 L400.54 771.78 L401.07 770.95 L401.61 771.06 L402.14 771.26 L402.68 771.04 L403.21 771.16 L403.75 770.74 L404.25 770.96 L404.75 770.75 L405.25 771.21 L405.75 770.79 L406.25 770.92 L406.79 771.55 L407.32 771.02 L407.86 770.67 L408.39 770.92 L408.93 770.96 L409.46 770.86 L410.00 770.74 L410.54 770.44 L411.07 770.31 L411.61 770.22 L412.14 769.38 L412.68 769.01 L413.21 768.73 L413.75 768.72 L414.25 769.23 L414.75 769.61 L415.25 769.78 L415.75 769.85 L416.25 769.78 L416.75 769.52 L417.25 769.41 L417.75 769.56 L418.25 769.12 L418.75 769.66 L419.38 768.62 L420.00 767.62 L420.63 767.37 L421.27 766.50 L421.90 765.09 L422.48 765.86 L423.06 766.94 L423.64 767.09 L424.22 767.85 L424.80 768.37 L425.34 767.78 L425.88 766.57 L426.42 765.45 L426.96 764.97 L427.50 764.26 L428.02 763.51 L428.55 762.88 L429.08 762.45 L429.60 761.93 L430.18 763.18 L430.76 763.46 L431.34 764.65 L431.92 765.65 L432.50 766.10 L433.13 763.65 L433.77 760.62 L434.40 758.36 L434.92 756.87 L435.45 755.05 L435.98 753.36 L436.50 752.31 L437.06 751.58 L437.62 751.05 L438.19 750.19 L438.75 749.59 L439.48 750.14 L440.20 750.88 L440.83 754.50 L441.47 758.78 L442.10 762.49 L442.73 760.24 L443.37 757.83 L444.00 755.56 L444.53 753.78 L445.07 752.06 L445.60 750.51 L446.13 748.84 L446.67 747.22 L447.20 745.76 L447.73 747.87 L448.27 750.88 L448.80 753.24 L449.41 755.14 L450.02 756.70 L450.64 759.20 L451.25 760.59 L451.82 759.48 L452.39 758.53 L452.96 757.07 L453.53 756.24 L454.10 755.07 L454.60 754.50 L455.10 753.37 L455.60 752.83 L456.10 752.66 L456.73 754.99 L457.37 757.12 L458.00 759.08 L458.60 761.02 L459.20 762.11 L459.80 764.13 L460.40 765.68 L460.92 765.17 L461.44 764.72 L461.96 764.58 L462.48 763.56 L463.00 763.12 L463.54 763.23 L464.08 762.57 L464.62 762.04 L465.16 762.44 L465.70 761.90 L466.25 763.20 L466.80 764.35 L467.35 765.44 L467.90 766.43 L468.45 766.81 L469.00 768.62 L469.50 767.93 L470.00 768.76 L470.50 768.80 L471.00 768.05 L471.50 768.05 L472.00 767.92 L472.50 767.80 L473.00 767.60 L473.50 768.10 L474.00 768.75 L474.50 768.89 L475.00 769.44 L475.50 769.95 L476.00 769.95 L476.50 770.19 L477.00 769.98 L477.50 770.34 L478.00 770.20 L478.50 770.83 L479.00 771.11 L479.50 770.86 L480.00 770.95 L480.50 770.86 L481.00 771.42 L481.50 771.28 L482.00 771.03 L482.50 771.40 L483.00 770.99 L483.50 771.71 L484.00 771.63 L484.50 771.72 L485.00 771.73 L485.50 771.28 L486.00 771.27 L486.50 771.54 L487.00 771.54 L487.50 771.40 L488.00 771.37 L488.50 771.22 L489.00 771.27 L489.50 770.99 L490.00 770.92 L490.54 771.44 L491.07 771.82 L491.61 771.29 L492.14 772.10 L492.68 772.06 L493.21 771.91 L493.75 772.03 L494.27 772.36 L494.79 772.41 L495.31 772.31 L495.83 772.19 L496.35 772.47 L496.88 772.23 L497.40 772.38 L497.92 772.55 L498.44 772.23 L498.96 772.15 L499.48 772.54 L500.00 772.38 L500.50 772.21 L501.00 772.30 L501.50 772.67 L502.00 772.16 L502.50 772.66 L503.00 772.81 L503.50 772.31 L504.00 772.51 L504.50 772.52" stroke="#c4c4c4" stroke-width="0.8" fill="none" stroke-linejoin="round"/>
<path d="M387.50 772.57 L387.92 772.23 L388.33 772.32 L388.75 772.48 L389.17 771.55 L389.58 772.05 L390.00 772.40 L390.42 772.33 L390.83 771.88 L391.25 771.29 L391.67 771.60 L392.08 772.39 L392.50 771.11 L392.92 771.39 L393.33 772.24 L393.75 771.51 L394.17 771.15 L394.58 771.27 L395.00 772.07 L395.42 771.19 L395.83 771.23 L396.25 771.43 L396.67 771.59 L397.08 771.07 L397.50 770.41 L397.92 771.02 L398.33 770.18 L398.75 770.18 L399.17 770.23 L399.58 770.85 L400.00 770.20 L400.42 770.57 L400.83 769.64 L401.25 769.38 L401.67 769.05 L402.08 769.82 L402.50 769.84 L402.92 768.75 L403.33 768.58 L403.75 768.07 L404.17 769.16 L404.58 768.89 L405.00 768.87 L405.42 769.79 L405.83 769.93 L406.25 769.93 L406.67 769.38 L407.08 769.92 L407.50 769.66 L407.92 769.35 L408.33 768.84 L408.75 769.77 L409.17 769.54 L409.58 769.15 L410.00 769.44 L410.42 768.45 L410.83 767.70 L411.25 766.96 L411.67 767.23 L412.08 766.69 L412.50 766.21 L412.92 766.11 L413.33 765.61 L413.75 764.78 L414.17 765.63 L414.58 765.55 L415.00 766.33 L415.42 766.41 L415.83 767.41 L416.25 768.13 L416.67 767.29 L417.08 767.37 L417.50 766.13 L417.92 766.59 L418.33 766.04 L418.75 765.97 L419.17 764.94 L419.58 763.83 L420.00 763.24 L420.48 761.67 L420.95 760.56 L421.42 759.27 L421.90 758.39 L422.31 759.00 L422.73 759.67 L423.14 760.48 L423.56 761.40 L423.97 762.38 L424.39 762.91 L424.80 763.73 L425.25 762.76 L425.70 761.35 L426.15 759.80 L426.60 758.56 L427.05 757.12 L427.50 755.87 L427.92 755.04 L428.34 754.04 L428.76 753.13 L429.18 752.25 L429.60 751.39 L430.01 752.77 L430.43 754.20 L430.84 755.31 L431.26 756.44 L431.67 757.44 L432.09 758.78 L432.50 760.28 L432.98 756.05 L433.45 752.19 L433.92 748.13 L434.40 743.69 L434.82 741.36 L435.24 738.97 L435.66 736.82 L436.08 734.14 L436.50 731.87 L436.95 731.03 L437.40 729.57 L437.85 728.72 L438.30 727.22 L438.75 726.29 L439.23 727.18 L439.72 728.08 L440.20 729.44 L440.68 734.89 L441.15 740.93 L441.62 746.46 L442.10 752.02 L442.58 748.99 L443.05 745.53 L443.52 742.51 L444.00 739.12 L444.46 735.93 L444.91 733.11 L445.37 730.54 L445.83 727.23 L446.29 724.84 L446.74 721.43 L447.20 718.94 L447.60 722.72 L448.00 726.45 L448.40 730.41 L448.80 734.25 L449.21 736.54 L449.62 738.91 L450.02 741.20 L450.43 743.95 L450.84 746.50 L451.25 748.63 L451.66 747.24 L452.06 745.33 L452.47 743.59 L452.88 742.24 L453.29 740.65 L453.69 738.53 L454.10 737.31 L454.50 736.14 L454.90 735.53 L455.30 734.40 L455.70 733.93 L456.10 732.71 L456.58 735.89 L457.05 739.05 L457.52 742.35 L458.00 745.57 L458.48 748.66 L458.96 750.89 L459.44 753.63 L459.92 756.37 L460.40 759.00 L460.83 758.49 L461.27 757.19 L461.70 756.70 L462.13 755.65 L462.57 754.67 L463.00 753.85 L463.45 753.53 L463.90 752.89 L464.35 752.49 L464.80 752.00 L465.25 751.60 L465.70 751.21 L466.11 752.60 L466.52 754.39 L466.94 756.06 L467.35 757.44 L467.76 759.31 L468.18 760.54 L468.59 762.38 L469.00 763.92 L469.50 763.96 L470.00 764.42 L470.50 764.70 L470.92 764.16 L471.33 763.75 L471.75 763.73 L472.17 763.44 L472.58 762.91 L473.00 762.53 L473.42 763.41 L473.83 764.28 L474.25 765.10 L474.67 765.86 L475.08 767.02 L475.50 767.85 L475.91 767.89 L476.32 767.90 L476.73 767.86 L477.14 767.83 L477.55 768.42 L477.95 768.32 L478.36 768.73 L478.77 768.51 L479.18 769.70 L479.59 768.80 L480.00 770.03 L480.42 769.68 L480.83 770.24 L481.25 770.28 L481.67 769.37 L482.08 769.60 L482.50 770.70 L482.92 770.31 L483.33 769.59 L483.75 769.92 L484.17 769.77 L484.58 770.14 L485.00 769.91 L485.42 769.81 L485.83 769.78 L486.25 770.34 L486.67 770.63 L487.08 770.30 L487.50 770.49 L487.92 770.42 L488.33 769.66 L488.75 770.41 L489.17 770.09 L489.58 769.93 L490.00 770.65 L490.42 770.16 L490.83 770.70 L491.25 771.06 L491.67 770.87 L492.08 770.63 L492.50 770.90 L492.92 771.26 L493.33 771.34 L493.75 771.86 L494.17 771.43 L494.58 772.44 L495.00 772.48 L495.42 772.32 L495.83 771.63 L496.25 771.80 L496.67 772.79 L497.08 772.79 L497.50 772.62 L497.92 772.85 L498.33 771.96 L498.75 772.10 L499.17 772.34 L499.58 772.43 L500.00 772.31 L500.41 772.14 L500.82 772.94 L501.23 772.06 L501.64 772.60 L502.05 772.94 L502.45 772.01 L502.86 772.27 L503.27 772.33 L503.68 772.20 L504.09 773.08 L504.50 773.03" stroke="#1a1a1a" stroke-width="1.0" fill="none" stroke-linejoin="round"/>
<rect x="375.4" y="792.0" width="140.80" height="65.30" fill="none" stroke="#b8b8b8" stroke-width="1.1"/>
<path d="M387.50 848.79 L388.00 849.11 L388.50 848.29 L389.00 848.44 L389.50 848.11 L390.00 848.53 L390.50 848.64 L391.00 848.93 L391.50 849.27 L392.00 849.40 L392.50 848.77 L393.00 848.55 L393.50 848.19 L394.00 848.23 L394.50 847.81 L395.00 848.02 L395.50 847.67 L396.00 848.07 L396.50 848.55 L397.00 848.65 L397.50 848.19 L398.00 848.40 L398.50 848.47 L399.00 848.10 L399.50 848.38 L400.00 847.81 L400.50 848.13 L401.00 848.19 L401.50 848.06 L402.00 847.63 L402.50 847.72 L403.04 847.86 L403.57 847.81 L404.11 847.56 L404.64 848.08 L405.18 848.32 L405.71 848.57 L406.25 848.65 L406.79 848.69 L407.32 847.80 L407.86 847.49 L408.39 847.30 L408.93 847.19 L409.46 847.31 L410.00 847.41 L410.57 846.45 L411.13 845.99 L411.70 845.76 L412.30 846.13 L412.90 845.66 L413.50 846.55 L414.05 845.58 L414.60 845.38 L415.20 846.61 L415.80 847.79 L416.37 846.25 L416.93 844.60 L417.50 843.69 L418.07 842.02 L418.63 840.62 L419.20 838.71 L419.78 838.63 L420.36 837.80 L420.94 837.47 L421.52 836.71 L422.10 836.22 L422.67 836.99 L423.23 837.73 L423.80 838.66 L424.40 841.58 L425.00 844.67 L425.57 844.11 L426.13 842.73 L426.70 841.51 L427.30 841.83 L427.90 841.75 L428.50 841.33 L429.05 840.47 L429.60 839.69 L430.17 839.12 L430.73 838.35 L431.30 837.31 L431.90 838.87 L432.50 839.96 L433.10 841.28 L433.67 839.49 L434.23 837.97 L434.80 835.99 L435.37 834.40 L435.93 833.43 L436.50 831.23 L437.07 830.61 L437.65 829.60 L438.23 829.02 L438.80 828.64 L439.50 830.40 L440.20 831.94 L440.70 834.70 L441.20 836.91 L441.70 839.64 L442.30 836.96 L442.90 835.17 L443.50 833.41 L444.07 831.67 L444.63 830.75 L445.20 829.93 L445.70 829.07 L446.20 827.76 L446.70 826.28 L447.20 825.58 L447.70 826.88 L448.20 828.93 L448.70 830.64 L449.27 833.34 L449.85 836.19 L450.43 839.48 L451.00 842.21 L451.57 841.42 L452.15 840.39 L452.73 839.01 L453.30 837.19 L453.88 836.22 L454.45 834.14 L455.03 832.95 L455.60 830.67 L456.17 832.58 L456.73 834.01 L457.30 835.24 L457.88 837.50 L458.45 839.86 L459.03 842.09 L459.60 843.83 L460.20 845.14 L460.80 846.74 L461.38 845.43 L461.95 844.72 L462.53 844.45 L463.10 843.47 L463.68 843.73 L464.26 843.94 L464.84 843.96 L465.42 844.32 L466.00 844.85 L466.57 844.92 L467.13 846.06 L467.70 846.59 L468.27 846.79 L468.83 847.10 L469.40 847.92 L469.94 848.32 L470.49 848.00 L471.03 847.79 L471.57 848.33 L472.12 848.17 L472.66 848.00 L473.21 848.29 L473.75 848.65 L474.25 848.74 L474.75 849.02 L475.25 848.87 L475.75 849.40 L476.25 849.48 L476.75 849.14 L477.25 849.26 L477.75 848.54 L478.25 848.96 L478.75 848.91 L479.29 848.14 L479.82 848.23 L480.36 848.06 L480.89 847.73 L481.43 847.01 L481.96 846.64 L482.50 846.30 L483.00 847.46 L483.50 847.50 L484.00 848.42 L484.50 848.34 L485.00 848.64 L485.50 848.41 L486.00 847.97 L486.50 847.60 L487.00 846.96 L487.50 847.92 L488.00 848.27 L488.50 848.23 L489.00 848.21 L489.50 849.12 L490.00 848.93 L490.50 848.55 L491.00 848.38 L491.50 848.31 L492.00 848.53 L492.50 848.27 L493.04 847.87 L493.57 847.93 L494.11 848.24 L494.64 848.38 L495.18 848.73 L495.71 848.74 L496.25 849.52 L496.79 848.95 L497.32 849.22 L497.86 848.97 L498.39 848.88 L498.93 849.16 L499.46 848.55 L500.00 848.38 L500.50 849.10 L501.00 849.16 L501.50 849.33 L502.00 848.69 L502.50 849.00 L503.00 849.66 L503.50 848.99 L504.00 849.53 L504.50 849.38" stroke="#c4c4c4" stroke-width="0.8" fill="none" stroke-linejoin="round"/>
<path d="M387.50 848.28 L387.90 848.52 L388.30 847.94 L388.70 847.22 L389.10 846.35 L389.50 846.66 L389.92 847.10 L390.33 847.10 L390.75 847.51 L391.17 847.55 L391.58 847.64 L392.00 848.57 L392.43 848.51 L392.86 847.43 L393.29 848.09 L393.71 846.95 L394.14 846.59 L394.57 845.97 L395.00 846.95 L395.43 846.83 L395.86 847.28 L396.29 847.16 L396.71 846.60 L397.14 847.26 L397.57 847.75 L398.00 847.46 L398.41 848.41 L398.82 847.36 L399.23 846.83 L399.64 847.54 L400.05 846.34 L400.45 847.24 L400.86 846.34 L401.27 846.25 L401.68 845.73 L402.09 845.71 L402.50 845.06 L402.92 845.07 L403.33 846.46 L403.75 845.80 L404.17 846.78 L404.58 846.20 L405.00 847.49 L405.42 847.61 L405.83 847.63 L406.25 847.87 L406.67 847.29 L407.08 847.18 L407.50 846.00 L407.92 846.18 L408.33 846.35 L408.75 845.15 L409.17 845.84 L409.58 845.46 L410.00 844.47 L410.43 843.69 L410.85 843.12 L411.27 842.36 L411.70 841.98 L412.15 841.94 L412.60 842.04 L413.05 842.37 L413.50 843.02 L414.05 842.33 L414.60 841.20 L415.20 843.50 L415.80 845.87 L416.23 843.98 L416.65 841.32 L417.07 839.37 L417.50 837.18 L417.93 835.06 L418.35 832.65 L418.77 830.48 L419.20 828.41 L419.61 828.00 L420.03 826.93 L420.44 826.33 L420.86 825.42 L421.27 824.56 L421.69 823.80 L422.10 823.48 L422.53 824.46 L422.95 825.23 L423.38 826.40 L423.80 827.40 L424.40 833.87 L425.00 840.26 L425.43 838.37 L425.85 837.12 L426.27 835.53 L426.70 833.75 L427.15 833.76 L427.60 833.39 L428.05 833.18 L428.50 832.96 L429.05 831.86 L429.60 830.01 L430.03 828.81 L430.45 828.07 L430.88 826.90 L431.30 825.59 L431.75 827.66 L432.20 829.10 L432.65 831.09 L433.10 832.98 L433.53 830.45 L433.95 827.72 L434.38 825.06 L434.80 822.61 L435.23 820.62 L435.65 818.37 L436.07 815.94 L436.50 813.49 L436.96 812.08 L437.42 811.20 L437.88 809.67 L438.34 808.51 L438.80 806.84 L439.27 809.44 L439.73 812.29 L440.20 814.77 L440.70 819.61 L441.20 824.26 L441.70 828.96 L442.15 826.02 L442.60 823.15 L443.05 819.82 L443.50 816.92 L443.93 815.05 L444.35 813.60 L444.77 811.45 L445.20 810.10 L445.60 808.51 L446.00 806.25 L446.40 804.83 L446.80 803.12 L447.20 801.50 L447.70 804.65 L448.20 807.76 L448.70 811.15 L449.16 816.30 L449.62 821.11 L450.08 825.51 L450.54 830.33 L451.00 835.17 L451.46 833.17 L451.92 831.45 L452.38 829.32 L452.84 827.77 L453.30 825.69 L453.76 822.73 L454.22 820.30 L454.68 817.52 L455.14 814.96 L455.60 812.14 L456.03 814.14 L456.45 816.17 L456.88 818.31 L457.30 820.52 L457.76 824.11 L458.22 827.51 L458.68 831.56 L459.14 835.33 L459.60 838.95 L460.20 841.31 L460.80 843.22 L461.26 842.32 L461.72 840.94 L462.18 840.17 L462.64 838.68 L463.10 837.82 L463.51 837.80 L463.93 838.30 L464.34 838.32 L464.76 838.41 L465.17 838.85 L465.59 839.05 L466.00 839.62 L466.43 840.31 L466.85 841.45 L467.27 842.50 L467.70 843.75 L468.12 843.64 L468.55 845.04 L468.97 845.61 L469.40 846.63 L469.83 847.07 L470.27 846.27 L470.70 846.94 L471.14 846.82 L471.57 846.98 L472.01 846.41 L472.44 847.58 L472.88 847.93 L473.31 847.18 L473.75 847.25 L474.17 848.40 L474.58 847.37 L475.00 847.53 L475.42 847.74 L475.83 848.98 L476.25 849.11 L476.67 848.47 L477.08 848.50 L477.50 847.45 L477.92 848.12 L478.33 847.63 L478.75 847.52 L479.17 846.93 L479.58 846.53 L480.00 845.87 L480.42 845.20 L480.83 845.32 L481.25 844.65 L481.67 844.87 L482.08 844.61 L482.50 844.06 L482.90 844.54 L483.30 845.08 L483.70 846.14 L484.10 847.13 L484.50 848.18 L484.92 848.15 L485.33 846.42 L485.75 846.47 L486.17 845.99 L486.58 845.80 L487.00 845.55 L487.43 845.93 L487.86 846.25 L488.29 846.97 L488.71 847.38 L489.14 848.18 L489.57 848.49 L490.00 849.01 L490.42 847.98 L490.83 848.50 L491.25 847.34 L491.67 847.24 L492.08 847.12 L492.50 846.90 L492.92 847.21 L493.33 846.11 L493.75 846.82 L494.17 847.10 L494.58 847.49 L495.00 847.42 L495.42 848.27 L495.83 847.88 L496.25 848.47 L496.67 849.29 L497.08 848.92 L497.50 848.45 L497.92 847.87 L498.33 848.97 L498.75 848.54 L499.17 847.75 L499.58 847.85 L500.00 848.20 L500.41 848.39 L500.82 847.94 L501.23 849.04 L501.64 848.30 L502.05 848.34 L502.45 849.30 L502.86 848.47 L503.27 849.34 L503.68 848.81 L504.09 849.50 L504.50 849.19" stroke="#1a1a1a" stroke-width="1.0" fill="none" stroke-linejoin="round"/>
<rect x="375.4" y="869.5" width="140.80" height="65.50" fill="none" stroke="#b8b8b8" stroke-width="1.1"/>
<path d="M387.50 925.39 L388.00 925.50 L388.50 925.75 L389.00 925.39 L389.50 924.75 L390.00 925.19 L390.54 925.17 L391.07 925.60 L391.61 925.69 L392.14 925.31 L392.68 925.41 L393.21 925.47 L393.75 926.03 L394.25 925.83 L394.75 925.81 L395.25 925.63 L395.75 925.89 L396.25 925.16 L396.79 925.67 L397.32 925.60 L397.86 925.34 L398.39 925.80 L398.93 926.23 L399.46 926.10 L400.00 926.21 L400.54 926.00 L401.07 926.26 L401.61 926.56 L402.14 926.86 L402.68 926.68 L403.21 926.90 L403.75 926.51 L404.29 926.54 L404.82 926.05 L405.36 926.58 L405.89 926.37 L406.43 926.42 L406.96 925.78 L407.50 926.23 L408.04 925.72 L408.57 925.83 L409.11 925.92 L409.64 926.27 L410.18 926.19 L410.71 925.80 L411.25 925.33 L411.79 926.00 L412.32 925.42 L412.86 925.46 L413.39 925.20 L413.93 925.03 L414.46 925.15 L415.00 924.77 L415.50 924.40 L416.00 924.15 L416.50 923.98 L417.00 923.94 L417.50 923.82 L418.00 923.51 L418.50 922.91 L419.00 922.80 L419.50 923.15 L420.08 922.99 L420.67 923.84 L421.25 923.77 L421.83 923.33 L422.42 921.94 L423.00 921.58 L423.50 922.26 L424.00 922.87 L424.50 923.70 L425.00 923.77 L425.50 923.64 L426.00 922.96 L426.50 922.73 L427.00 921.83 L427.50 921.44 L428.00 920.93 L428.50 920.28 L429.00 920.17 L429.50 919.31 L430.00 919.19 L430.50 919.57 L431.00 920.14 L431.50 921.17 L432.00 921.88 L432.58 921.76 L433.17 922.19 L433.75 922.97 L434.33 920.83 L434.92 918.77 L435.50 917.62 L436.00 916.40 L436.50 915.61 L437.00 915.22 L437.50 914.38 L438.00 912.97 L438.50 913.86 L439.00 914.37 L439.50 914.56 L440.00 915.12 L440.50 916.35 L441.00 917.59 L441.50 918.39 L442.00 919.67 L442.50 921.14 L443.00 920.09 L443.50 918.95 L444.00 918.40 L444.50 917.05 L445.00 916.22 L445.50 914.88 L446.00 914.44 L446.50 913.59 L447.00 912.34 L447.58 913.09 L448.17 914.27 L448.75 915.01 L449.33 916.93 L449.92 919.02 L450.50 921.40 L451.00 921.85 L451.50 922.18 L452.00 922.77 L452.50 923.12 L453.00 921.84 L453.50 921.24 L454.00 920.86 L454.50 920.08 L455.08 919.72 L455.67 919.13 L456.25 919.20 L456.83 919.60 L457.42 920.39 L458.00 920.72 L458.50 922.49 L459.00 922.90 L459.50 923.97 L460.00 925.02 L460.50 925.54 L461.00 924.65 L461.50 924.51 L462.00 923.98 L462.50 924.40 L463.00 924.37 L463.50 924.14 L464.00 923.37 L464.50 923.35 L465.08 924.48 L465.67 925.52 L466.25 926.02 L466.79 926.22 L467.32 926.22 L467.86 926.34 L468.39 926.33 L468.93 926.70 L469.46 926.79 L470.00 926.42 L470.54 926.60 L471.07 926.09 L471.61 925.94 L472.14 925.89 L472.68 926.30 L473.21 926.19 L473.75 926.19 L474.29 926.27 L474.82 925.98 L475.36 926.84 L475.89 926.44 L476.43 926.35 L476.96 926.99 L477.50 926.99 L478.04 926.90 L478.57 926.83 L479.11 926.38 L479.64 926.62 L480.18 926.26 L480.71 926.50 L481.25 926.22 L481.83 924.86 L482.42 924.06 L483.00 923.04 L483.50 923.63 L484.00 923.95 L484.50 924.72 L485.00 924.78 L485.50 924.82 L486.00 924.18 L486.50 924.08 L487.00 924.08 L487.50 924.88 L488.00 925.29 L488.50 924.96 L489.00 926.03 L489.50 926.04 L490.00 926.16 L490.50 925.67 L491.00 925.58 L491.50 925.00 L492.00 924.88 L492.50 925.25 L493.00 925.65 L493.50 925.52 L494.00 926.04 L494.50 926.17 L495.00 927.03 L495.54 926.91 L496.07 926.38 L496.61 926.73 L497.14 926.06 L497.68 926.13 L498.21 926.10 L498.75 926.28 L499.27 925.77 L499.80 926.00 L500.32 925.87 L500.84 926.22 L501.36 926.22 L501.89 926.17 L502.41 926.89 L502.93 926.91 L503.45 926.67 L503.98 926.98 L504.50 926.86" stroke="#c4c4c4" stroke-width="0.8" fill="none" stroke-linejoin="round"/>
<path d="M387.50 925.14 L387.92 923.75 L388.33 923.33 L388.75 924.45 L389.17 923.06 L389.58 922.72 L390.00 923.21 L390.42 923.01 L390.83 923.99 L391.25 923.29 L391.67 924.53 L392.08 923.86 L392.50 924.47 L392.92 925.16 L393.33 925.04 L393.75 925.59 L394.17 925.08 L394.58 923.95 L395.00 924.91 L395.42 924.29 L395.83 923.69 L396.25 923.32 L396.67 924.43 L397.08 924.25 L397.50 924.95 L397.92 924.91 L398.33 925.37 L398.75 925.01 L399.17 925.39 L399.58 925.46 L400.00 925.16 L400.42 926.22 L400.83 925.40 L401.25 926.14 L401.67 926.47 L402.08 926.13 L402.50 925.50 L402.92 926.54 L403.33 926.40 L403.75 925.81 L404.17 925.48 L404.58 926.02 L405.00 925.18 L405.42 926.29 L405.83 925.56 L406.25 925.44 L406.67 925.15 L407.08 925.36 L407.50 925.58 L407.92 924.67 L408.33 924.71 L408.75 924.95 L409.17 924.49 L409.58 924.86 L410.00 924.73 L410.42 924.52 L410.83 924.80 L411.25 924.54 L411.67 923.70 L412.08 924.75 L412.50 923.63 L412.92 923.52 L413.33 923.25 L413.75 923.77 L414.17 923.58 L414.58 922.74 L415.00 922.36 L415.42 921.52 L415.83 922.22 L416.25 920.79 L416.67 920.86 L417.08 920.33 L417.50 919.90 L417.90 919.67 L418.30 919.33 L418.70 918.99 L419.10 919.02 L419.50 918.92 L419.94 919.27 L420.38 919.46 L420.81 920.17 L421.25 920.25 L421.69 919.39 L422.12 918.56 L422.56 917.55 L423.00 916.23 L423.40 917.44 L423.80 918.25 L424.20 919.26 L424.60 920.30 L425.00 921.94 L425.42 920.55 L425.83 919.57 L426.25 918.88 L426.67 918.00 L427.08 917.00 L427.50 916.41 L427.92 915.60 L428.33 914.64 L428.75 914.00 L429.17 912.65 L429.58 912.08 L430.00 911.33 L430.40 912.16 L430.80 913.07 L431.20 914.36 L431.60 915.21 L432.00 916.12 L432.44 916.62 L432.88 917.76 L433.31 918.04 L433.75 918.54 L434.19 915.78 L434.62 912.99 L435.06 910.52 L435.50 907.32 L435.92 906.04 L436.33 904.61 L436.75 903.48 L437.17 902.00 L437.58 900.75 L438.00 899.63 L438.40 900.34 L438.80 900.89 L439.20 901.04 L439.60 901.83 L440.00 902.70 L440.42 904.32 L440.83 906.50 L441.25 908.74 L441.67 910.77 L442.08 913.06 L442.50 915.12 L442.90 913.48 L443.30 911.86 L443.70 910.35 L444.10 908.87 L444.50 907.26 L444.92 905.93 L445.33 903.98 L445.75 902.72 L446.17 900.92 L446.58 898.92 L447.00 897.50 L447.44 898.81 L447.88 899.74 L448.31 901.24 L448.75 902.24 L449.19 906.09 L449.62 909.10 L450.06 912.89 L450.50 916.52 L450.90 916.94 L451.30 917.10 L451.70 917.77 L452.10 918.05 L452.50 918.66 L452.90 917.70 L453.30 916.43 L453.70 914.73 L454.10 913.68 L454.50 912.58 L454.94 912.01 L455.38 912.04 L455.81 911.78 L456.25 911.28 L456.69 912.11 L457.12 913.32 L457.56 914.07 L458.00 914.83 L458.40 916.63 L458.80 918.31 L459.20 920.44 L459.60 922.01 L460.00 924.03 L460.42 923.78 L460.83 923.58 L461.25 922.07 L461.67 921.95 L462.08 922.19 L462.50 921.62 L462.90 920.94 L463.30 920.84 L463.70 920.33 L464.10 920.06 L464.50 919.75 L464.94 921.08 L465.38 922.13 L465.81 923.77 L466.25 925.66 L466.67 924.65 L467.08 925.36 L467.50 925.93 L467.92 925.69 L468.33 925.73 L468.75 926.21 L469.17 925.30 L469.58 926.74 L470.00 926.51 L470.42 926.54 L470.83 926.43 L471.25 925.27 L471.67 925.09 L472.08 925.11 L472.50 925.42 L472.92 925.89 L473.33 925.71 L473.75 924.88 L474.17 925.39 L474.58 925.78 L475.00 925.43 L475.42 926.55 L475.83 926.73 L476.25 926.65 L476.67 927.12 L477.08 927.20 L477.50 927.21 L477.92 926.53 L478.33 926.25 L478.75 925.97 L479.17 925.49 L479.58 926.49 L480.00 925.38 L480.42 924.78 L480.83 924.96 L481.25 924.44 L481.69 923.55 L482.12 922.02 L482.56 920.69 L483.00 919.49 L483.40 920.05 L483.80 920.62 L484.20 921.74 L484.60 921.63 L485.00 922.56 L485.40 922.78 L485.80 922.64 L486.20 921.57 L486.60 920.86 L487.00 921.88 L487.42 921.89 L487.83 922.10 L488.25 922.60 L488.67 923.38 L489.08 924.11 L489.50 924.49 L489.92 924.04 L490.33 925.03 L490.75 924.45 L491.17 923.13 L491.58 923.31 L492.00 923.42 L492.43 923.47 L492.86 923.33 L493.29 924.17 L493.71 924.69 L494.14 925.90 L494.57 925.90 L495.00 926.19 L495.42 926.29 L495.83 925.34 L496.25 926.09 L496.67 926.13 L497.08 925.79 L497.50 925.22 L497.92 924.98 L498.33 924.45 L498.75 924.41 L499.16 924.66 L499.57 925.22 L499.98 925.82 L500.39 925.18 L500.80 925.68 L501.21 926.05 L501.62 926.18 L502.04 925.47 L502.45 926.87 L502.86 926.55 L503.27 926.30 L503.68 926.35 L504.09 927.12 L504.50 927.61" stroke="#1a1a1a" stroke-width="1.0" fill="none" stroke-linejoin="round"/>
<rect x="375.4" y="947.2" width="140.80" height="65.30" fill="none" stroke="#b8b8b8" stroke-width="1.1"/>
<path d="M387.50 1004.53 L388.00 1004.40 L388.50 1004.20 L389.00 1004.52 L389.50 1004.34 L390.00 1004.47 L390.54 1004.93 L391.07 1004.63 L391.61 1004.51 L392.14 1003.98 L392.68 1004.50 L393.21 1004.55 L393.75 1004.35 L394.25 1003.96 L394.75 1004.32 L395.25 1003.96 L395.75 1003.93 L396.25 1004.13 L396.83 1002.92 L397.42 1002.54 L398.00 1001.38 L398.50 1002.34 L399.00 1002.36 L399.50 1002.75 L400.00 1003.33 L400.54 1003.35 L401.07 1003.47 L401.61 1003.85 L402.14 1004.22 L402.68 1004.12 L403.21 1004.13 L403.75 1004.38 L404.29 1004.24 L404.82 1004.04 L405.36 1003.90 L405.89 1003.88 L406.43 1004.38 L406.96 1004.52 L407.50 1004.26 L408.04 1004.47 L408.57 1004.29 L409.11 1003.90 L409.64 1004.08 L410.18 1003.94 L410.71 1003.44 L411.25 1003.49 L411.79 1003.70 L412.32 1003.00 L412.86 1003.63 L413.39 1002.90 L413.93 1002.75 L414.46 1002.82 L415.00 1002.67 L415.50 1002.58 L416.00 1002.37 L416.50 1002.03 L417.00 1002.08 L417.50 1001.72 L418.00 1002.14 L418.50 1002.14 L419.00 1001.57 L419.50 1001.90 L420.00 1001.64 L420.50 1001.43 L421.04 1001.19 L421.58 1000.85 L422.12 1001.10 L422.67 1000.69 L423.21 1000.47 L423.75 1000.59 L424.25 1001.12 L424.75 1001.55 L425.25 1001.76 L425.75 1002.29 L426.25 1002.32 L426.75 1002.83 L427.25 1002.45 L427.75 1002.24 L428.25 1001.59 L428.75 1001.88 L429.25 1001.01 L429.75 1000.79 L430.25 1000.63 L430.75 1000.68 L431.25 1000.69 L431.83 1001.41 L432.42 1001.34 L433.00 1002.16 L433.50 1001.66 L434.00 1001.27 L434.50 1000.71 L435.00 1000.82 L435.50 1000.72 L436.00 999.28 L436.50 998.43 L437.00 997.26 L437.50 996.99 L438.00 995.76 L438.50 995.85 L439.00 995.03 L439.50 994.73 L440.08 995.53 L440.67 996.82 L441.25 998.15 L441.83 998.76 L442.42 1000.44 L443.00 1001.51 L443.50 1000.14 L444.00 998.84 L444.50 998.03 L445.08 997.68 L445.67 997.26 L446.25 997.53 L446.83 997.47 L447.42 996.92 L448.00 996.76 L448.50 997.60 L449.00 998.67 L449.50 998.76 L450.00 999.71 L450.50 1000.54 L451.00 1001.52 L451.50 1001.97 L452.00 1003.15 L452.50 1002.23 L453.00 1001.94 L453.50 1001.43 L454.00 1001.34 L454.50 1001.26 L455.00 1001.53 L455.50 1001.31 L456.00 1001.13 L456.50 1001.61 L457.00 1001.81 L457.50 1002.07 L458.00 1002.87 L458.50 1003.14 L459.00 1002.87 L459.50 1003.90 L460.00 1003.31 L460.50 1003.57 L461.00 1003.43 L461.50 1003.83 L462.00 1003.93 L462.50 1004.22 L463.04 1003.91 L463.57 1003.84 L464.11 1003.50 L464.64 1003.06 L465.18 1002.99 L465.71 1002.97 L466.25 1002.53 L466.83 1003.69 L467.42 1004.12 L468.00 1004.43 L468.50 1004.45 L469.00 1004.24 L469.50 1004.31 L470.00 1005.05 L470.50 1004.95 L471.00 1004.83 L471.50 1005.38 L472.00 1005.09 L472.53 1005.48 L473.06 1004.94 L473.59 1005.49 L474.12 1005.26 L474.66 1005.14 L475.19 1005.21 L475.72 1005.62 L476.25 1005.79 L476.79 1005.14 L477.32 1004.82 L477.86 1004.83 L478.39 1005.38 L478.93 1004.86 L479.46 1005.03 L480.00 1005.04 L480.54 1004.64 L481.07 1004.92 L481.61 1004.76 L482.14 1003.95 L482.68 1004.35 L483.21 1003.65 L483.75 1003.74 L484.25 1003.70 L484.75 1004.64 L485.25 1004.55 L485.75 1004.68 L486.25 1005.02 L486.79 1004.46 L487.32 1004.13 L487.86 1004.51 L488.39 1003.73 L488.93 1003.52 L489.46 1003.93 L490.00 1003.43 L490.50 1003.37 L491.00 1003.59 L491.50 1004.37 L492.00 1004.37 L492.50 1004.67 L493.00 1004.47 L493.50 1004.79 L494.00 1004.93 L494.50 1004.73 L495.00 1004.75 L495.50 1005.05 L496.00 1005.08 L496.50 1005.66 L497.00 1005.09 L497.50 1005.73 L498.00 1005.22 L498.50 1005.27 L499.00 1005.34 L499.50 1005.61 L500.00 1005.25 L500.50 1005.44 L501.00 1005.44 L501.50 1005.69 L502.00 1005.74 L502.50 1005.63 L503.00 1005.33 L503.50 1005.79 L504.00 1006.02 L504.50 1006.16" stroke="#c4c4c4" stroke-width="0.8" fill="none" stroke-linejoin="round"/>
<path d="M387.50 1003.09 L387.92 1003.34 L388.33 1003.47 L388.75 1002.54 L389.17 1003.46 L389.58 1003.43 L390.00 1003.79 L390.42 1003.09 L390.83 1003.04 L391.25 1003.26 L391.67 1002.80 L392.08 1002.99 L392.50 1002.25 L392.92 1002.20 L393.33 1002.93 L393.75 1002.39 L394.17 1002.43 L394.58 1002.66 L395.00 1002.05 L395.42 1001.55 L395.83 1002.48 L396.25 1002.12 L396.69 1001.10 L397.12 999.82 L397.56 998.89 L398.00 997.42 L398.40 998.40 L398.80 998.93 L399.20 999.79 L399.60 1000.72 L400.00 1000.99 L400.42 1000.81 L400.83 1001.49 L401.25 1001.97 L401.67 1001.93 L402.08 1001.87 L402.50 1002.28 L402.92 1001.78 L403.33 1001.91 L403.75 1002.25 L404.17 1003.00 L404.58 1002.18 L405.00 1002.13 L405.42 1002.16 L405.83 1002.13 L406.25 1002.52 L406.67 1002.99 L407.08 1003.39 L407.50 1002.76 L407.92 1002.62 L408.33 1002.31 L408.75 1002.14 L409.17 1002.61 L409.58 1002.10 L410.00 1001.50 L410.42 1001.09 L410.83 1001.84 L411.25 1001.54 L411.67 1001.57 L412.08 1000.61 L412.50 1000.90 L412.92 1001.28 L413.33 1000.69 L413.75 1001.04 L414.17 999.81 L414.58 1000.80 L415.00 999.38 L415.43 999.67 L415.86 999.16 L416.29 999.32 L416.71 998.96 L417.14 998.84 L417.57 998.46 L418.00 998.25 L418.42 997.85 L418.83 997.94 L419.25 997.64 L419.67 997.25 L420.08 997.43 L420.50 996.93 L420.91 996.58 L421.31 996.26 L421.72 996.23 L422.12 995.83 L422.53 995.99 L422.94 995.75 L423.34 995.09 L423.75 994.78 L424.17 995.77 L424.58 996.32 L425.00 997.27 L425.42 998.18 L425.83 998.61 L426.25 999.46 L426.67 999.39 L427.08 998.80 L427.50 998.41 L427.92 998.39 L428.33 998.01 L428.75 997.72 L429.17 997.19 L429.58 996.62 L430.00 996.36 L430.42 996.02 L430.83 995.49 L431.25 994.85 L431.69 995.82 L432.12 996.82 L432.56 997.96 L433.00 998.78 L433.42 998.15 L433.83 997.68 L434.25 996.66 L434.67 996.32 L435.08 995.53 L435.50 995.03 L435.90 993.69 L436.30 991.86 L436.70 990.75 L437.10 988.76 L437.50 987.53 L437.90 986.62 L438.30 985.55 L438.70 984.83 L439.10 983.88 L439.50 982.97 L439.94 984.87 L440.38 986.22 L440.81 988.18 L441.25 990.16 L441.69 991.67 L442.12 993.96 L442.56 995.46 L443.00 997.60 L443.50 994.82 L444.00 992.47 L444.50 989.96 L444.94 989.45 L445.38 989.49 L445.81 989.05 L446.25 988.86 L446.69 988.58 L447.12 988.41 L447.56 988.20 L448.00 987.89 L448.40 989.37 L448.80 990.07 L449.20 991.66 L449.60 992.80 L450.00 993.75 L450.40 995.16 L450.80 996.35 L451.20 997.56 L451.60 998.63 L452.00 999.75 L452.42 999.29 L452.83 998.64 L453.25 998.38 L453.67 997.41 L454.08 996.81 L454.50 996.20 L454.92 996.72 L455.33 996.82 L455.75 997.16 L456.17 997.28 L456.58 997.58 L457.00 997.77 L457.42 998.38 L457.83 998.95 L458.25 999.82 L458.67 1000.17 L459.08 1000.16 L459.50 1001.20 L459.93 1000.90 L460.36 1001.70 L460.79 1001.70 L461.21 1002.47 L461.64 1001.81 L462.07 1002.81 L462.50 1002.15 L462.92 1002.90 L463.33 1002.13 L463.75 1001.03 L464.17 1001.82 L464.58 1000.80 L465.00 1000.64 L465.42 1000.06 L465.83 1000.75 L466.25 999.43 L466.69 1001.08 L467.12 1001.35 L467.56 1002.50 L468.00 1002.71 L468.40 1002.56 L468.80 1003.88 L469.20 1003.67 L469.60 1003.14 L470.00 1004.42 L470.40 1004.48 L470.80 1003.61 L471.20 1003.53 L471.60 1004.51 L472.00 1003.99 L472.43 1004.87 L472.85 1004.56 L473.27 1004.94 L473.70 1004.80 L474.12 1005.13 L474.55 1005.25 L474.98 1004.99 L475.40 1005.03 L475.82 1004.71 L476.25 1004.49 L476.67 1004.29 L477.08 1005.22 L477.50 1004.17 L477.92 1004.34 L478.33 1004.05 L478.75 1004.33 L479.17 1004.07 L479.58 1004.39 L480.00 1003.66 L480.42 1003.36 L480.83 1003.57 L481.25 1003.51 L481.67 1003.57 L482.08 1002.51 L482.50 1003.12 L482.92 1003.06 L483.33 1002.87 L483.75 1001.48 L484.17 1002.12 L484.58 1002.97 L485.00 1003.34 L485.42 1002.52 L485.83 1003.31 L486.25 1004.06 L486.67 1003.83 L487.08 1003.24 L487.50 1002.51 L487.92 1002.51 L488.33 1001.74 L488.75 1001.83 L489.17 1001.70 L489.58 1001.98 L490.00 1001.38 L490.42 1001.55 L490.83 1001.73 L491.25 1002.24 L491.67 1003.16 L492.08 1003.26 L492.50 1003.29 L492.92 1004.30 L493.33 1004.06 L493.75 1004.72 L494.17 1004.22 L494.58 1004.44 L495.00 1004.27 L495.42 1004.63 L495.83 1005.17 L496.25 1005.36 L496.67 1005.02 L497.08 1004.80 L497.50 1004.39 L497.91 1005.52 L498.32 1004.94 L498.74 1004.97 L499.15 1004.56 L499.56 1004.57 L499.97 1005.11 L500.38 1005.97 L500.79 1005.69 L501.21 1005.69 L501.62 1005.68 L502.03 1005.17 L502.44 1005.07 L502.85 1005.72 L503.26 1005.01 L503.68 1005.79 L504.09 1005.73 L504.50 1005.81" stroke="#1a1a1a" stroke-width="1.0" fill="none" stroke-linejoin="round"/>
</g>
</svg>
</body></html>
